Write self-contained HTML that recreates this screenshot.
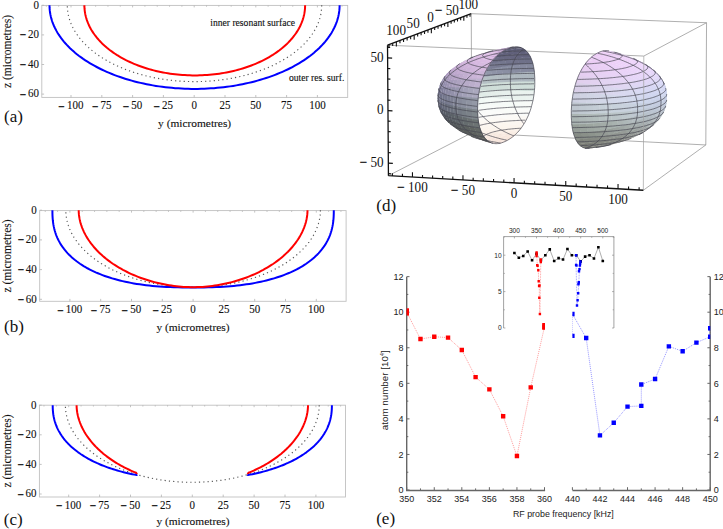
<!DOCTYPE html><html><head><meta charset="utf-8"><style>html,body{margin:0;padding:0;background:#fff;}svg{display:block;}</style></head><body>
<svg width="723" height="529" viewBox="0 0 723 529">
<rect width="723" height="529" fill="#fff"/>
<rect x="41.8" y="5.4" width="305.9" height="92" fill="none" stroke="#c0c0c0" stroke-width="0.9"/>
<path d="M71 97.4v-2.4M101.8 97.4v-2.4M132.6 97.4v-2.4M163.4 97.4v-2.4M194.2 97.4v-2.4M225 97.4v-2.4M255.8 97.4v-2.4M286.6 97.4v-2.4M317.4 97.4v-2.4M46.36 5.4v1.3M58.68 5.4v1.3M71 5.4v2.0M83.32 5.4v1.3M95.64 5.4v1.3M107.96 5.4v1.3M120.28 5.4v1.3M132.6 5.4v2.0M144.92 5.4v1.3M157.24 5.4v1.3M169.56 5.4v1.3M181.88 5.4v1.3M194.2 5.4v2.0M206.52 5.4v1.3M218.84 5.4v1.3M231.16 5.4v1.3M243.48 5.4v1.3M255.8 5.4v2.0M268.12 5.4v1.3M280.44 5.4v1.3M292.76 5.4v1.3M305.08 5.4v1.3M317.4 5.4v2.0M329.72 5.4v1.3M342.04 5.4v1.3M41.8 5.3h2.3M41.8 34.9h2.3M41.8 64.5h2.3M41.8 94.1h2.3" stroke="#b4b4b4" stroke-width="0.8" fill="none"/>
<g font-family="Liberation Serif" font-size="12.2" fill="#111" stroke="#111" stroke-width=".12" text-anchor="middle">
<text transform="translate(71 109.2) scale(.9 1)"><tspan dy="1.5" stroke="#111" stroke-width=".45">−</tspan><tspan dx="2.4" dy="-1.5">100</tspan></text>
<text transform="translate(101.8 109.2) scale(.9 1)"><tspan dy="1.5" stroke="#111" stroke-width=".45">−</tspan><tspan dx="2.4" dy="-1.5">75</tspan></text>
<text transform="translate(132.6 109.2) scale(.9 1)"><tspan dy="1.5" stroke="#111" stroke-width=".45">−</tspan><tspan dx="2.4" dy="-1.5">50</tspan></text>
<text transform="translate(163.4 109.2) scale(.9 1)"><tspan dy="1.5" stroke="#111" stroke-width=".45">−</tspan><tspan dx="2.4" dy="-1.5">25</tspan></text>
<text transform="translate(194.2 109.2) scale(.9 1)">0</text>
<text transform="translate(225 109.2) scale(.9 1)">25</text>
<text transform="translate(255.8 109.2) scale(.9 1)">50</text>
<text transform="translate(286.6 109.2) scale(.9 1)">75</text>
<text transform="translate(317.4 109.2) scale(.9 1)">100</text>
</g>
<g font-family="Liberation Serif" font-size="12.2" fill="#111" stroke="#111" stroke-width=".12" text-anchor="end">
<text transform="translate(38.9 8.6) scale(.9 1)">0</text>
<text transform="translate(38.9 38.2) scale(.9 1)"><tspan dy="1.2" stroke="#111" stroke-width=".45">−</tspan><tspan dx="1.9" dy="-1.2">20</tspan></text>
<text transform="translate(38.9 67.8) scale(.9 1)"><tspan dy="1.2" stroke="#111" stroke-width=".45">−</tspan><tspan dx="1.9" dy="-1.2">40</tspan></text>
<text transform="translate(38.9 97.4) scale(.9 1)"><tspan dy="1.2" stroke="#111" stroke-width=".45">−</tspan><tspan dx="1.9" dy="-1.2">60</tspan></text>
</g>
<text font-family="Liberation Serif" font-size="11.5" fill="#111" stroke="#111" stroke-width=".12" text-anchor="middle" transform="translate(10.6 51.5) rotate(-90)">z (micrometres)</text>
<text font-family="Liberation Serif" font-size="11.4" fill="#111" stroke="#111" stroke-width=".12" x="158.1" y="126.6">y (micrometres)</text>
<text font-family="Liberation Serif" font-size="17" fill="#111" x="4" y="122.2">(a)</text>
<path d="M321.7 5.3 L321.67 7.01 L321.57 8.72 L321.41 10.43 L321.19 12.14 L320.9 13.84 L320.55 15.54 L320.13 17.24 L319.66 18.92 L319.11 20.6 L318.51 22.28 L317.84 23.94 L317.12 25.6 L316.33 27.24 L315.47 28.88 L314.56 30.5 L313.59 32.11 L312.56 33.71 L311.46 35.29 L310.31 36.85 L309.1 38.41 L307.84 39.94 L306.51 41.46 L305.13 42.95 L303.69 44.43 L302.2 45.89 L300.66 47.33 L299.06 48.75 L297.41 50.15 L295.7 51.52 L293.95 52.87 L292.14 54.2 L290.29 55.5 L288.39 56.78 L286.44 58.03 L284.44 59.25 L282.4 60.45 L280.32 61.62 L278.19 62.76 L276.02 63.87 L273.81 64.95 L271.56 66.01 L269.27 67.03 L266.94 68.02 L264.57 68.98 L262.17 69.91 L259.74 70.8 L257.27 71.66 L254.78 72.49 L252.25 73.28 L249.69 74.04 L247.1 74.77 L244.49 75.46 L241.86 76.12 L239.19 76.73 L236.51 77.32 L233.81 77.87 L231.08 78.38 L228.34 78.85 L225.58 79.29 L222.8 79.69 L220.01 80.05 L217.21 80.37 L214.4 80.66 L211.57 80.91 L208.74 81.12 L205.9 81.29 L203.06 81.43 L200.21 81.52 L197.35 81.58 L194.5 81.6 L191.65 81.58 L188.79 81.52 L185.94 81.43 L183.1 81.29 L180.26 81.12 L177.43 80.91 L174.6 80.66 L171.79 80.37 L168.99 80.05 L166.2 79.69 L163.42 79.29 L160.66 78.85 L157.92 78.38 L155.19 77.87 L152.49 77.32 L149.81 76.73 L147.14 76.12 L144.51 75.46 L141.9 74.77 L139.31 74.04 L136.75 73.28 L134.22 72.49 L131.73 71.66 L129.26 70.8 L126.83 69.91 L124.43 68.98 L122.06 68.02 L119.73 67.03 L117.44 66.01 L115.19 64.95 L112.98 63.87 L110.81 62.76 L108.68 61.62 L106.6 60.45 L104.56 59.25 L102.56 58.03 L100.61 56.78 L98.71 55.5 L96.86 54.2 L95.05 52.87 L93.3 51.52 L91.59 50.15 L89.94 48.75 L88.34 47.33 L86.8 45.89 L85.31 44.43 L83.87 42.95 L82.49 41.46 L81.16 39.94 L79.9 38.41 L78.69 36.85 L77.54 35.29 L76.44 33.71 L75.41 32.11 L74.44 30.5 L73.53 28.88 L72.67 27.24 L71.88 25.6 L71.16 23.94 L70.49 22.28 L69.89 20.6 L69.34 18.92 L68.87 17.24 L68.45 15.54 L68.1 13.84 L67.81 12.14 L67.59 10.43 L67.43 8.72 L67.33 7.01 L67.3 5.3" fill="none" stroke="#555" stroke-width="1.15" stroke-dasharray="1.2 3.1"/>
<path d="M339.6 5.3 L339.56 7.18 L339.45 9.05 L339.27 10.92 L339.02 12.79 L338.69 14.66 L338.29 16.52 L337.81 18.38 L337.27 20.23 L336.65 22.07 L335.96 23.9 L335.2 25.73 L334.37 27.54 L333.47 29.34 L332.5 31.13 L331.46 32.91 L330.35 34.67 L329.17 36.42 L327.93 38.16 L326.61 39.87 L325.24 41.57 L323.79 43.25 L322.28 44.92 L320.71 46.56 L319.07 48.18 L317.37 49.78 L315.6 51.35 L313.78 52.91 L311.9 54.44 L309.96 55.94 L307.95 57.42 L305.9 58.88 L303.78 60.3 L301.61 61.7 L299.39 63.07 L297.12 64.41 L294.79 65.73 L292.41 67.01 L289.98 68.26 L287.51 69.48 L284.99 70.66 L282.42 71.81 L279.81 72.93 L277.15 74.02 L274.46 75.07 L271.72 76.09 L268.95 77.07 L266.13 78.01 L263.28 78.92 L260.4 79.79 L257.48 80.62 L254.54 81.42 L251.56 82.17 L248.55 82.89 L245.52 83.57 L242.46 84.21 L239.37 84.81 L236.27 85.37 L233.14 85.89 L229.99 86.37 L226.83 86.8 L223.65 87.2 L220.45 87.56 L217.24 87.87 L214.02 88.14 L210.79 88.37 L207.55 88.56 L204.31 88.71 L201.06 88.82 L197.8 88.88 L194.55 88.9 L191.3 88.88 L188.04 88.82 L184.79 88.71 L181.55 88.56 L178.31 88.37 L175.08 88.14 L171.86 87.87 L168.65 87.56 L165.45 87.2 L162.27 86.8 L159.11 86.37 L155.96 85.89 L152.83 85.37 L149.73 84.81 L146.64 84.21 L143.58 83.57 L140.55 82.89 L137.54 82.17 L134.56 81.42 L131.62 80.62 L128.7 79.79 L125.82 78.92 L122.97 78.01 L120.15 77.07 L117.38 76.09 L114.64 75.07 L111.95 74.02 L109.29 72.93 L106.68 71.81 L104.11 70.66 L101.59 69.48 L99.12 68.26 L96.69 67.01 L94.31 65.73 L91.98 64.41 L89.71 63.07 L87.49 61.7 L85.32 60.3 L83.2 58.88 L81.15 57.42 L79.14 55.94 L77.2 54.44 L75.32 52.91 L73.5 51.35 L71.73 49.78 L70.03 48.18 L68.39 46.56 L66.82 44.92 L65.31 43.25 L63.86 41.57 L62.49 39.87 L61.17 38.16 L59.93 36.42 L58.75 34.67 L57.64 32.91 L56.6 31.13 L55.63 29.34 L54.73 27.54 L53.9 25.73 L53.14 23.9 L52.45 22.07 L51.83 20.23 L51.29 18.38 L50.81 16.52 L50.41 14.66 L50.08 12.79 L49.83 10.92 L49.65 9.05 L49.54 7.18 L49.5 5.3" fill="none" stroke="#0000ff" stroke-width="2"/>
<path d="M305.1 5.3 L305.07 6.87 L304.99 8.45 L304.85 10.02 L304.66 11.58 L304.41 13.15 L304.1 14.71 L303.74 16.27 L303.33 17.82 L302.86 19.36 L302.33 20.9 L301.76 22.43 L301.12 23.95 L300.44 25.46 L299.7 26.96 L298.91 28.45 L298.06 29.93 L297.17 31.4 L296.22 32.85 L295.22 34.29 L294.17 35.72 L293.07 37.12 L291.92 38.52 L290.73 39.89 L289.48 41.25 L288.19 42.6 L286.85 43.92 L285.46 45.22 L284.03 46.5 L282.55 47.77 L281.03 49.01 L279.46 50.23 L277.85 51.42 L276.2 52.59 L274.51 53.74 L272.78 54.87 L271.01 55.97 L269.2 57.04 L267.35 58.09 L265.47 59.11 L263.55 60.11 L261.6 61.07 L259.61 62.01 L257.59 62.92 L255.54 63.8 L253.46 64.66 L251.35 65.48 L249.21 66.27 L247.04 67.03 L244.85 67.76 L242.63 68.46 L240.39 69.12 L238.12 69.76 L235.83 70.36 L233.52 70.93 L231.2 71.47 L228.85 71.97 L226.49 72.44 L224.11 72.87 L221.71 73.28 L219.31 73.64 L216.89 73.98 L214.45 74.27 L212.01 74.54 L209.56 74.77 L207.11 74.96 L204.64 75.12 L202.17 75.24 L199.7 75.33 L197.23 75.38 L194.75 75.4 L192.27 75.38 L189.8 75.33 L187.33 75.24 L184.86 75.12 L182.39 74.96 L179.94 74.77 L177.49 74.54 L175.05 74.27 L172.61 73.98 L170.19 73.64 L167.79 73.28 L165.39 72.87 L163.01 72.44 L160.65 71.97 L158.3 71.47 L155.98 70.93 L153.67 70.36 L151.38 69.76 L149.11 69.12 L146.87 68.46 L144.65 67.76 L142.46 67.03 L140.29 66.27 L138.15 65.48 L136.04 64.66 L133.96 63.8 L131.91 62.92 L129.89 62.01 L127.9 61.07 L125.95 60.11 L124.03 59.11 L122.15 58.09 L120.3 57.04 L118.49 55.97 L116.72 54.87 L114.99 53.74 L113.3 52.59 L111.65 51.42 L110.04 50.23 L108.47 49.01 L106.95 47.77 L105.47 46.5 L104.04 45.22 L102.65 43.92 L101.31 42.6 L100.02 41.25 L98.77 39.89 L97.58 38.52 L96.43 37.12 L95.33 35.72 L94.28 34.29 L93.28 32.85 L92.33 31.4 L91.44 29.93 L90.59 28.45 L89.8 26.96 L89.06 25.46 L88.38 23.95 L87.74 22.43 L87.17 20.9 L86.64 19.36 L86.17 17.82 L85.76 16.27 L85.4 14.71 L85.09 13.15 L84.84 11.58 L84.65 10.02 L84.51 8.45 L84.43 6.87 L84.4 5.3" fill="none" stroke="#ff0000" stroke-width="2"/>
<text font-family="Liberation Serif" font-size="9.6" fill="#111" stroke="#111" stroke-width=".12" x="210.3" y="25.9">inner resonant surface</text>
<text font-family="Liberation Serif" font-size="9.6" fill="#111" stroke="#111" stroke-width=".12" x="289" y="81">outer res. surf.</text>
<rect x="39.7" y="210.6" width="306.4" height="90.7" fill="none" stroke="#c0c0c0" stroke-width="0.9"/>
<path d="M69.9 301.3v-2.4M100.7 301.3v-2.4M131.5 301.3v-2.4M162.3 301.3v-2.4M193.1 301.3v-2.4M223.9 301.3v-2.4M254.7 301.3v-2.4M285.5 301.3v-2.4M316.3 301.3v-2.4M45.26 210.6v1.3M57.58 210.6v1.3M69.9 210.6v2.0M82.22 210.6v1.3M94.54 210.6v1.3M106.86 210.6v1.3M119.18 210.6v1.3M131.5 210.6v2.0M143.82 210.6v1.3M156.14 210.6v1.3M168.46 210.6v1.3M180.78 210.6v1.3M193.1 210.6v2.0M205.42 210.6v1.3M217.74 210.6v1.3M230.06 210.6v1.3M242.38 210.6v1.3M254.7 210.6v2.0M267.02 210.6v1.3M279.34 210.6v1.3M291.66 210.6v1.3M303.98 210.6v1.3M316.3 210.6v2.0M328.62 210.6v1.3M340.94 210.6v1.3M39.7 210.2h2.3M39.7 239.9h2.3M39.7 269.6h2.3M39.7 299.3h2.3" stroke="#b4b4b4" stroke-width="0.8" fill="none"/>
<g font-family="Liberation Serif" font-size="12.2" fill="#111" stroke="#111" stroke-width=".12" text-anchor="middle">
<text transform="translate(69.9 313.1) scale(.9 1)"><tspan dy="1.5" stroke="#111" stroke-width=".45">−</tspan><tspan dx="2.4" dy="-1.5">100</tspan></text>
<text transform="translate(100.7 313.1) scale(.9 1)"><tspan dy="1.5" stroke="#111" stroke-width=".45">−</tspan><tspan dx="2.4" dy="-1.5">75</tspan></text>
<text transform="translate(131.5 313.1) scale(.9 1)"><tspan dy="1.5" stroke="#111" stroke-width=".45">−</tspan><tspan dx="2.4" dy="-1.5">50</tspan></text>
<text transform="translate(162.3 313.1) scale(.9 1)"><tspan dy="1.5" stroke="#111" stroke-width=".45">−</tspan><tspan dx="2.4" dy="-1.5">25</tspan></text>
<text transform="translate(193.1 313.1) scale(.9 1)">0</text>
<text transform="translate(223.9 313.1) scale(.9 1)">25</text>
<text transform="translate(254.7 313.1) scale(.9 1)">50</text>
<text transform="translate(285.5 313.1) scale(.9 1)">75</text>
<text transform="translate(316.3 313.1) scale(.9 1)">100</text>
</g>
<g font-family="Liberation Serif" font-size="12.2" fill="#111" stroke="#111" stroke-width=".12" text-anchor="end">
<text transform="translate(36.8 213.5) scale(.9 1)">0</text>
<text transform="translate(36.8 243.2) scale(.9 1)"><tspan dy="1.2" stroke="#111" stroke-width=".45">−</tspan><tspan dx="1.9" dy="-1.2">20</tspan></text>
<text transform="translate(36.8 272.9) scale(.9 1)"><tspan dy="1.2" stroke="#111" stroke-width=".45">−</tspan><tspan dx="1.9" dy="-1.2">40</tspan></text>
<text transform="translate(36.8 302.6) scale(.9 1)"><tspan dy="1.2" stroke="#111" stroke-width=".45">−</tspan><tspan dx="1.9" dy="-1.2">60</tspan></text>
</g>
<text font-family="Liberation Serif" font-size="11.5" fill="#111" stroke="#111" stroke-width=".12" text-anchor="middle" transform="translate(10.6 256) rotate(-90)">z (micrometres)</text>
<text font-family="Liberation Serif" font-size="11.4" fill="#111" stroke="#111" stroke-width=".12" x="156.4" y="330.6">y (micrometres)</text>
<text font-family="Liberation Serif" font-size="17" fill="#111" x="4" y="331.5">(b)</text>
<path d="M320.4 210.2 L320.37 211.93 L320.27 213.65 L320.11 215.38 L319.89 217.1 L319.6 218.82 L319.25 220.54 L318.83 222.25 L318.35 223.95 L317.81 225.65 L317.21 227.33 L316.54 229.01 L315.81 230.68 L315.02 232.35 L314.17 233.99 L313.26 235.63 L312.28 237.26 L311.25 238.87 L310.16 240.46 L309 242.04 L307.79 243.61 L306.53 245.16 L305.2 246.69 L303.82 248.2 L302.38 249.69 L300.89 251.17 L299.34 252.62 L297.74 254.05 L296.09 255.46 L294.38 256.85 L292.63 258.21 L290.82 259.55 L288.97 260.86 L287.06 262.15 L285.11 263.41 L283.11 264.65 L281.07 265.86 L278.99 267.04 L276.86 268.19 L274.68 269.31 L272.47 270.4 L270.22 271.46 L267.93 272.49 L265.6 273.49 L263.23 274.46 L260.83 275.4 L258.39 276.3 L255.92 277.17 L253.42 278.01 L250.89 278.81 L248.33 279.57 L245.75 280.31 L243.13 281 L240.49 281.66 L237.83 282.29 L235.14 282.88 L232.44 283.43 L229.71 283.95 L226.97 284.43 L224.2 284.87 L221.43 285.27 L218.64 285.64 L215.83 285.96 L213.01 286.25 L210.19 286.5 L207.35 286.72 L204.51 286.89 L201.66 287.03 L198.81 287.12 L195.96 287.18 L193.1 287.2 L190.24 287.18 L187.39 287.12 L184.54 287.03 L181.69 286.89 L178.85 286.72 L176.01 286.5 L173.19 286.25 L170.37 285.96 L167.56 285.64 L164.77 285.27 L162 284.87 L159.23 284.43 L156.49 283.95 L153.76 283.43 L151.06 282.88 L148.37 282.29 L145.71 281.66 L143.07 281 L140.45 280.31 L137.87 279.57 L135.31 278.81 L132.78 278.01 L130.28 277.17 L127.81 276.3 L125.37 275.4 L122.97 274.46 L120.6 273.49 L118.27 272.49 L115.98 271.46 L113.73 270.4 L111.52 269.31 L109.34 268.19 L107.21 267.04 L105.13 265.86 L103.09 264.65 L101.09 263.41 L99.14 262.15 L97.23 260.86 L95.38 259.55 L93.57 258.21 L91.82 256.85 L90.11 255.46 L88.46 254.05 L86.86 252.62 L85.31 251.17 L83.82 249.69 L82.38 248.2 L81 246.69 L79.67 245.16 L78.41 243.61 L77.2 242.04 L76.04 240.46 L74.95 238.87 L73.92 237.26 L72.94 235.63 L72.03 233.99 L71.18 232.35 L70.39 230.68 L69.66 229.01 L68.99 227.33 L68.39 225.65 L67.85 223.95 L67.37 222.25 L66.95 220.54 L66.6 218.82 L66.31 217.1 L66.09 215.38 L65.93 213.65 L65.83 211.93 L65.8 210.2" fill="none" stroke="#555" stroke-width="1.15" stroke-dasharray="1.2 3.1"/>
<path d="M333.8 210.2 L333.77 213.55 L333.68 216.14 L333.54 218.51 L333.33 220.73 L333.07 222.86 L332.75 224.9 L332.37 226.89 L331.93 228.81 L331.43 230.69 L330.88 232.53 L330.27 234.32 L329.6 236.08 L328.87 237.8 L328.08 239.49 L327.24 241.14 L326.34 242.77 L325.39 244.36 L324.38 245.93 L323.31 247.46 L322.18 248.97 L321 250.45 L319.76 251.9 L318.47 253.32 L317.13 254.72 L315.72 256.09 L314.27 257.43 L312.76 258.74 L311.19 260.03 L309.58 261.28 L307.9 262.51 L306.18 263.72 L304.4 264.89 L302.57 266.04 L300.69 267.16 L298.76 268.25 L296.77 269.31 L294.74 270.34 L292.65 271.35 L290.51 272.33 L288.32 273.27 L286.08 274.19 L283.79 275.08 L281.45 275.94 L279.06 276.77 L276.62 277.57 L274.13 278.34 L271.59 279.08 L269 279.79 L266.36 280.47 L263.67 281.12 L260.92 281.73 L258.13 282.32 L255.28 282.88 L252.38 283.4 L249.42 283.9 L246.41 284.36 L243.34 284.79 L240.2 285.19 L237 285.56 L233.74 285.89 L230.4 286.2 L226.98 286.47 L223.47 286.71 L219.86 286.92 L216.14 287.1 L212.27 287.24 L208.22 287.36 L203.92 287.44 L199.2 287.48 L193.1 287.5 L187 287.48 L182.28 287.44 L177.98 287.36 L173.93 287.24 L170.06 287.1 L166.34 286.92 L162.73 286.71 L159.22 286.47 L155.8 286.2 L152.46 285.89 L149.2 285.56 L146 285.19 L142.86 284.79 L139.79 284.36 L136.78 283.9 L133.82 283.4 L130.92 282.88 L128.07 282.32 L125.28 281.73 L122.53 281.12 L119.84 280.47 L117.2 279.79 L114.61 279.08 L112.07 278.34 L109.58 277.57 L107.14 276.77 L104.75 275.94 L102.41 275.08 L100.12 274.19 L97.88 273.27 L95.69 272.33 L93.55 271.35 L91.46 270.34 L89.43 269.31 L87.44 268.25 L85.51 267.16 L83.63 266.04 L81.8 264.89 L80.02 263.72 L78.3 262.51 L76.62 261.28 L75.01 260.03 L73.44 258.74 L71.93 257.43 L70.48 256.09 L69.07 254.72 L67.73 253.32 L66.44 251.9 L65.2 250.45 L64.02 248.97 L62.89 247.46 L61.82 245.93 L60.81 244.36 L59.86 242.77 L58.96 241.14 L58.12 239.49 L57.33 237.8 L56.6 236.08 L55.93 234.32 L55.32 232.53 L54.77 230.69 L54.27 228.81 L53.83 226.89 L53.45 224.9 L53.13 222.86 L52.87 220.73 L52.66 218.51 L52.52 216.14 L52.43 213.55 L52.4 210.2" fill="none" stroke="#0000ff" stroke-width="2"/>
<path d="M307.5 210.2 L307.47 211.71 L307.38 213.29 L307.23 214.9 L307.02 216.52 L306.75 218.16 L306.43 219.81 L306.04 221.46 L305.6 223.12 L305.09 224.77 L304.53 226.43 L303.91 228.08 L303.23 229.72 L302.5 231.37 L301.7 233 L300.85 234.63 L299.95 236.25 L298.99 237.86 L297.97 239.46 L296.9 241.04 L295.78 242.61 L294.61 244.17 L293.38 245.71 L292.1 247.24 L290.76 248.75 L289.38 250.24 L287.95 251.71 L286.47 253.16 L284.94 254.6 L283.37 256.01 L281.75 257.39 L280.08 258.76 L278.37 260.1 L276.62 261.41 L274.82 262.7 L272.98 263.97 L271.11 265.2 L269.19 266.41 L267.23 267.59 L265.24 268.74 L263.22 269.87 L261.15 270.96 L259.06 272.02 L256.93 273.05 L254.77 274.04 L252.59 275.01 L250.37 275.94 L248.13 276.83 L245.86 277.69 L243.57 278.52 L241.26 279.31 L238.92 280.07 L236.56 280.79 L234.19 281.47 L231.8 282.12 L229.4 282.73 L226.98 283.3 L224.55 283.83 L222.11 284.33 L219.66 284.78 L217.21 285.2 L214.75 285.58 L212.29 285.92 L209.83 286.22 L207.38 286.48 L204.93 286.7 L202.5 286.88 L200.08 287.02 L197.69 287.12 L195.34 287.18 L193.1 287.2 L190.86 287.18 L188.51 287.12 L186.12 287.02 L183.7 286.88 L181.27 286.7 L178.82 286.48 L176.37 286.22 L173.91 285.92 L171.45 285.58 L168.99 285.2 L166.54 284.78 L164.09 284.33 L161.65 283.83 L159.22 283.3 L156.8 282.73 L154.4 282.12 L152.01 281.47 L149.64 280.79 L147.28 280.07 L144.94 279.31 L142.63 278.52 L140.34 277.69 L138.07 276.83 L135.83 275.94 L133.61 275.01 L131.43 274.04 L129.27 273.05 L127.14 272.02 L125.05 270.96 L122.98 269.87 L120.96 268.74 L118.97 267.59 L117.01 266.41 L115.09 265.2 L113.22 263.97 L111.38 262.7 L109.58 261.41 L107.83 260.1 L106.12 258.76 L104.45 257.39 L102.83 256.01 L101.26 254.6 L99.73 253.16 L98.25 251.71 L96.82 250.24 L95.44 248.75 L94.1 247.24 L92.82 245.71 L91.59 244.17 L90.42 242.61 L89.3 241.04 L88.23 239.46 L87.21 237.86 L86.25 236.25 L85.35 234.63 L84.5 233 L83.7 231.37 L82.97 229.72 L82.29 228.08 L81.67 226.43 L81.11 224.77 L80.6 223.12 L80.16 221.46 L79.77 219.81 L79.45 218.16 L79.18 216.52 L78.97 214.9 L78.82 213.29 L78.73 211.71 L78.7 210.2" fill="none" stroke="#ff0000" stroke-width="2"/>
<rect x="39.4" y="405.2" width="306.1" height="91.8" fill="none" stroke="#c0c0c0" stroke-width="0.9"/>
<path d="M68.7 497v-2.4M99.6 497v-2.4M130.5 497v-2.4M161.4 497v-2.4M192.3 497v-2.4M223.2 497v-2.4M254.1 497v-2.4M285 497v-2.4M315.9 497v-2.4M43.98 405.2v1.3M56.34 405.2v1.3M68.7 405.2v2.0M81.06 405.2v1.3M93.42 405.2v1.3M105.78 405.2v1.3M118.14 405.2v1.3M130.5 405.2v2.0M142.86 405.2v1.3M155.22 405.2v1.3M167.58 405.2v1.3M179.94 405.2v1.3M192.3 405.2v2.0M204.66 405.2v1.3M217.02 405.2v1.3M229.38 405.2v1.3M241.74 405.2v1.3M254.1 405.2v2.0M266.46 405.2v1.3M278.82 405.2v1.3M291.18 405.2v1.3M303.54 405.2v1.3M315.9 405.2v2.0M328.26 405.2v1.3M340.62 405.2v1.3M39.4 405.2h2.3M39.4 434.8h2.3M39.4 464.4h2.3M39.4 494h2.3" stroke="#b4b4b4" stroke-width="0.8" fill="none"/>
<g font-family="Liberation Serif" font-size="12.2" fill="#111" stroke="#111" stroke-width=".12" text-anchor="middle">
<text transform="translate(68.7 508.8) scale(.9 1)"><tspan dy="1.5" stroke="#111" stroke-width=".45">−</tspan><tspan dx="2.4" dy="-1.5">100</tspan></text>
<text transform="translate(99.6 508.8) scale(.9 1)"><tspan dy="1.5" stroke="#111" stroke-width=".45">−</tspan><tspan dx="2.4" dy="-1.5">75</tspan></text>
<text transform="translate(130.5 508.8) scale(.9 1)"><tspan dy="1.5" stroke="#111" stroke-width=".45">−</tspan><tspan dx="2.4" dy="-1.5">50</tspan></text>
<text transform="translate(161.4 508.8) scale(.9 1)"><tspan dy="1.5" stroke="#111" stroke-width=".45">−</tspan><tspan dx="2.4" dy="-1.5">25</tspan></text>
<text transform="translate(192.3 508.8) scale(.9 1)">0</text>
<text transform="translate(223.2 508.8) scale(.9 1)">25</text>
<text transform="translate(254.1 508.8) scale(.9 1)">50</text>
<text transform="translate(285 508.8) scale(.9 1)">75</text>
<text transform="translate(315.9 508.8) scale(.9 1)">100</text>
</g>
<g font-family="Liberation Serif" font-size="12.2" fill="#111" stroke="#111" stroke-width=".12" text-anchor="end">
<text transform="translate(36.5 408.5) scale(.9 1)">0</text>
<text transform="translate(36.5 438.1) scale(.9 1)"><tspan dy="1.2" stroke="#111" stroke-width=".45">−</tspan><tspan dx="1.9" dy="-1.2">20</tspan></text>
<text transform="translate(36.5 467.7) scale(.9 1)"><tspan dy="1.2" stroke="#111" stroke-width=".45">−</tspan><tspan dx="1.9" dy="-1.2">40</tspan></text>
<text transform="translate(36.5 497.3) scale(.9 1)"><tspan dy="1.2" stroke="#111" stroke-width=".45">−</tspan><tspan dx="1.9" dy="-1.2">60</tspan></text>
</g>
<text font-family="Liberation Serif" font-size="11.5" fill="#111" stroke="#111" stroke-width=".12" text-anchor="middle" transform="translate(10.6 451) rotate(-90)">z (micrometres)</text>
<text font-family="Liberation Serif" font-size="11.4" fill="#111" stroke="#111" stroke-width=".12" x="156.4" y="525.1">y (micrometres)</text>
<text font-family="Liberation Serif" font-size="17" fill="#111" x="3.8" y="524.5">(c)</text>
<path d="M319.2 405.2 L319.17 406.93 L319.07 408.66 L318.91 410.39 L318.69 412.11 L318.4 413.83 L318.05 415.55 L317.64 417.26 L317.16 418.97 L316.62 420.67 L316.02 422.36 L315.35 424.04 L314.63 425.71 L313.84 427.37 L312.99 429.03 L312.08 430.66 L311.11 432.29 L310.08 433.9 L308.99 435.5 L307.84 437.09 L306.63 438.65 L305.37 440.2 L304.05 441.74 L302.67 443.25 L301.24 444.74 L299.75 446.22 L298.21 447.67 L296.61 449.11 L294.96 450.52 L293.26 451.91 L291.51 453.27 L289.71 454.61 L287.86 455.93 L285.97 457.22 L284.02 458.48 L282.03 459.72 L280 460.93 L277.92 462.11 L275.79 463.26 L273.63 464.39 L271.42 465.48 L269.17 466.54 L266.89 467.58 L264.57 468.58 L262.21 469.55 L259.81 470.48 L257.39 471.39 L254.93 472.26 L252.43 473.09 L249.91 473.9 L247.36 474.66 L244.78 475.4 L242.17 476.1 L239.54 476.76 L236.89 477.38 L234.21 477.97 L231.51 478.53 L228.8 479.04 L226.06 479.52 L223.31 479.96 L220.54 480.37 L217.75 480.73 L214.96 481.06 L212.15 481.35 L209.33 481.6 L206.51 481.82 L203.68 481.99 L200.84 482.13 L197.99 482.22 L195.15 482.28 L192.3 482.3 L189.45 482.28 L186.61 482.22 L183.76 482.13 L180.92 481.99 L178.09 481.82 L175.27 481.6 L172.45 481.35 L169.64 481.06 L166.85 480.73 L164.06 480.37 L161.29 479.96 L158.54 479.52 L155.8 479.04 L153.09 478.53 L150.39 477.97 L147.71 477.38 L145.06 476.76 L142.43 476.1 L139.82 475.4 L137.24 474.66 L134.69 473.9 L132.17 473.09 L129.67 472.26 L127.21 471.39 L124.79 470.48 L122.39 469.55 L120.03 468.58 L117.71 467.58 L115.43 466.54 L113.18 465.48 L110.97 464.39 L108.81 463.26 L106.68 462.11 L104.6 460.93 L102.57 459.72 L100.58 458.48 L98.63 457.22 L96.74 455.93 L94.89 454.61 L93.09 453.27 L91.34 451.91 L89.64 450.52 L87.99 449.11 L86.39 447.67 L84.85 446.22 L83.36 444.74 L81.93 443.25 L80.55 441.74 L79.23 440.2 L77.97 438.65 L76.76 437.09 L75.61 435.5 L74.52 433.9 L73.49 432.29 L72.52 430.66 L71.61 429.03 L70.76 427.37 L69.97 425.71 L69.25 424.04 L68.58 422.36 L67.98 420.67 L67.44 418.97 L66.96 417.26 L66.55 415.55 L66.2 413.83 L65.91 412.11 L65.69 410.39 L65.53 408.66 L65.43 406.93 L65.4 405.2" fill="none" stroke="#555" stroke-width="1.15" stroke-dasharray="1.2 3.1"/>
<path d="M308 405.2 L307.98 406.36 L307.93 407.58 L307.83 408.83 L307.71 410.1 L307.54 411.38 L307.34 412.67 L307.1 413.96 L306.83 415.26 L306.52 416.57 L306.17 417.87 L305.79 419.18 L305.37 420.49 L304.91 421.79 L304.42 423.1 L303.9 424.4 L303.34 425.71 L302.74 427 L302.11 428.3 L301.44 429.59 L300.74 430.87 L300.01 432.15 L299.24 433.43 L298.44 434.69 L297.6 435.95 L296.73 437.21 L295.83 438.45 L294.89 439.68 L293.93 440.91 L292.93 442.13 L291.9 443.33 L290.84 444.53 L289.75 445.71 L288.63 446.89 L287.47 448.05 L286.29 449.19 L285.08 450.33 L283.84 451.45 L282.57 452.56 L281.28 453.66 L279.95 454.74 L278.6 455.8 L277.22 456.85 L275.82 457.89 L274.39 458.91 L272.94 459.91 L271.46 460.9 L269.96 461.87 L268.43 462.82 L266.88 463.75 L265.31 464.67 L263.72 465.57 L262.11 466.45 L260.47 467.31 L258.82 468.15 L257.14 468.97 L255.45 469.77 L253.74 470.55 L252.01 471.32 L250.27 472.06 L248.5 472.78 L247.6 474.5" fill="none" stroke="#ff0000" stroke-width="2" stroke-linejoin="round"/>
<path d="M331.9 405.2 L331.88 407.17 L331.82 408.87 L331.73 410.47 L331.59 412.02 L331.42 413.53 L331.21 415 L330.97 416.45 L330.68 417.87 L330.36 419.27 L330 420.66 L329.6 422.02 L329.16 423.36 L328.69 424.69 L328.18 426.01 L327.63 427.31 L327.04 428.59 L326.42 429.86 L325.76 431.12 L325.06 432.36 L324.33 433.59 L323.55 434.8 L322.75 436 L321.91 437.19 L321.03 438.36 L320.11 439.52 L319.16 440.66 L318.17 441.79 L317.15 442.91 L316.1 444.01 L315 445.1 L313.88 446.18 L312.72 447.24 L311.52 448.28 L310.29 449.32 L309.03 450.33 L307.73 451.33 L306.41 452.32 L305.04 453.29 L303.65 454.25 L302.22 455.19 L300.76 456.11 L299.27 457.02 L297.75 457.91 L296.19 458.79 L294.6 459.65 L292.99 460.49 L291.34 461.32 L289.66 462.13 L287.96 462.93 L286.22 463.7 L284.45 464.46 L282.66 465.21 L280.83 465.93 L278.98 466.64 L277.1 467.33 L275.19 468 L273.25 468.65 L271.28 469.29 L269.29 469.91 L267.27 470.51 L265.23 471.09 L263.15 471.65 L261.05 472.19 L258.93 472.72 L256.78 473.23 L254.6 473.71 L252.4 474.18 L250.17 474.63 L247.91 475.06 L247.6 474.5" fill="none" stroke="#0000ff" stroke-width="2" stroke-linejoin="round"/>
<path d="M76.6 405.2 L76.62 406.36 L76.67 407.58 L76.77 408.83 L76.89 410.1 L77.06 411.38 L77.26 412.67 L77.5 413.96 L77.77 415.26 L78.08 416.57 L78.43 417.87 L78.81 419.18 L79.23 420.49 L79.69 421.79 L80.18 423.1 L80.7 424.4 L81.26 425.71 L81.86 427 L82.49 428.3 L83.16 429.59 L83.86 430.87 L84.59 432.15 L85.36 433.43 L86.16 434.69 L87 435.95 L87.87 437.21 L88.77 438.45 L89.71 439.68 L90.67 440.91 L91.67 442.13 L92.7 443.33 L93.76 444.53 L94.85 445.71 L95.97 446.89 L97.13 448.05 L98.31 449.19 L99.52 450.33 L100.76 451.45 L102.03 452.56 L103.32 453.66 L104.65 454.74 L106 455.8 L107.38 456.85 L108.78 457.89 L110.21 458.91 L111.66 459.91 L113.14 460.9 L114.64 461.87 L116.17 462.82 L117.72 463.75 L119.29 464.67 L120.88 465.57 L122.49 466.45 L124.13 467.31 L125.78 468.15 L127.46 468.97 L129.15 469.77 L130.86 470.55 L132.59 471.32 L134.33 472.06 L136.1 472.78 L137 474.5" fill="none" stroke="#ff0000" stroke-width="2" stroke-linejoin="round"/>
<path d="M52.7 405.2 L52.72 407.17 L52.78 408.87 L52.87 410.47 L53.01 412.02 L53.18 413.53 L53.39 415 L53.63 416.45 L53.92 417.87 L54.24 419.27 L54.6 420.66 L55 422.02 L55.44 423.36 L55.91 424.69 L56.42 426.01 L56.97 427.31 L57.56 428.59 L58.18 429.86 L58.84 431.12 L59.54 432.36 L60.27 433.59 L61.05 434.8 L61.85 436 L62.69 437.19 L63.57 438.36 L64.49 439.52 L65.44 440.66 L66.43 441.79 L67.45 442.91 L68.5 444.01 L69.6 445.1 L70.72 446.18 L71.88 447.24 L73.08 448.28 L74.31 449.32 L75.57 450.33 L76.87 451.33 L78.19 452.32 L79.56 453.29 L80.95 454.25 L82.38 455.19 L83.84 456.11 L85.33 457.02 L86.85 457.91 L88.41 458.79 L90 459.65 L91.61 460.49 L93.26 461.32 L94.94 462.13 L96.64 462.93 L98.38 463.7 L100.15 464.46 L101.94 465.21 L103.77 465.93 L105.62 466.64 L107.5 467.33 L109.41 468 L111.35 468.65 L113.32 469.29 L115.31 469.91 L117.33 470.51 L119.37 471.09 L121.45 471.65 L123.55 472.19 L125.67 472.72 L127.82 473.23 L130 473.71 L132.2 474.18 L134.43 474.63 L136.69 475.06 L137 474.5" fill="none" stroke="#0000ff" stroke-width="2" stroke-linejoin="round"/>
<path d="M387.52 45.21L643.81 56.07M471.26 13.68L706.55 22.72M643.81 56.07L706.55 22.72M471.26 13.68L471.69 132.84M706.55 22.72L705.8 144.96M471.69 132.84L705.8 144.96M388.43 175.68L471.69 132.84M705.8 144.96L643.34 190.24" fill="none" stroke="#8c8c8c" stroke-width="0.7"/>
<g>
<path fill="#d1dfda" d="M535 80.9L527.8 80.9L527.3 91.5L534.5 91.7z"/>
<path fill="#d0dfda" d="M528.2 80.9L521.2 81L520.7 91.3L527.7 91.5z"/>
<path fill="#d0deda" d="M521.5 81L514.8 81.2L514.4 91.1L521.1 91.3z"/>
<path fill="#adb7be" d="M534.5 71.1L527.2 71.4L527.8 81.5L535 81.5z"/>
<path fill="#ebf3f0" d="M534.6 91.1L527.3 90.9L525.7 101L533 101.5z"/>
<path fill="#adb7bf" d="M527.7 71.4L520.7 71.8L521.2 81.6L528.2 81.5z"/>
<path fill="#eaf3ef" d="M527.7 90.9L520.7 90.7L519.2 100.6L526.1 101.1z"/>
<path fill="#d0ded9" d="M515.2 81.2L508.7 81.4L508.3 91L514.7 91.1z"/>
<path fill="#aeb8bf" d="M521.1 71.8L514.3 72.3L514.8 81.8L521.6 81.6z"/>
<path fill="#e9f2ee" d="M521.1 90.7L514.4 90.5L512.9 100.1L519.6 100.6z"/>
<path fill="#afb9c0" d="M514.7 72.3L508.3 72.8L508.7 82L515.2 81.8z"/>
<path fill="#d0ded9" d="M509.1 81.4L502.9 81.7L502.5 90.9L508.7 91z"/>
<path fill="#e8f1ed" d="M514.8 90.6L508.3 90.4L506.9 99.6L513.3 100.2z"/>
<path fill="#b0bac0" d="M508.6 72.8L502.5 73.5L502.9 82.3L509.1 82z"/>
<path fill="#e7f0ed" d="M508.7 90.4L502.5 90.3L501.1 99.2L507.3 99.7z"/>
<path fill="#cfded9" d="M503.3 81.7L497.4 82L497 90.8L502.9 90.9z"/>
<path fill="#84889d" d="M533 62.8L525.7 63.4L527.3 72L534.6 71.7z"/>
<path fill="#85899e" d="M526.1 63.3L519.1 64L520.7 72.4L527.7 72z"/>
<path fill="#f8fbf8" d="M533.1 101L525.8 100.5L523.4 109.4L530.6 110.1z"/>
<path fill="#f7fbf8" d="M526.2 100.5L519.3 100L516.9 108.7L523.8 109.5z"/>
<path fill="#878ba0" d="M519.5 63.9L512.8 64.7L514.4 72.9L521.1 72.3z"/>
<path fill="#b1bbc1" d="M502.8 73.5L496.9 74.2L497.4 82.6L503.3 82.3z"/>
<path fill="#e6efeb" d="M502.9 90.3L497 90.2L495.7 98.7L501.5 99.2z"/>
<path fill="#f7fbf8" d="M519.7 100.1L513 99.5L510.7 107.9L517.3 108.8z"/>
<path fill="#888da1" d="M513.2 64.6L506.8 65.6L508.3 73.4L514.8 72.8z"/>
<path fill="#cfded9" d="M497.8 82L492.1 82.4L491.7 90.8L497.4 90.8z"/>
<path fill="#f6fbf8" d="M513.4 99.6L507 99.1L504.7 107.2L511.1 108z"/>
<path fill="#b2bdc2" d="M497.3 74.2L491.6 75L492.1 83L497.8 82.6z"/>
<path fill="#8a8fa3" d="M507.2 65.5L501 66.5L502.5 74.1L508.7 73.4z"/>
<path fill="#e5eeea" d="M497.4 90.3L491.8 90.2L490.5 98.2L496 98.8z"/>
<path fill="#f6faf8" d="M507.4 99.1L501.2 98.6L499 106.4L505.1 107.3z"/>
<path fill="#cfddd8" d="M492.5 82.4L487.1 82.8L486.7 90.7L492.1 90.8z"/>
<path fill="#8c91a5" d="M501.5 66.4L495.5 67.5L497 74.8L502.9 74z"/>
<path fill="#f5faf7" d="M501.6 98.7L495.7 98.1L493.6 105.6L499.4 106.5z"/>
<path fill="#b3bfc3" d="M492 74.9L486.6 75.8L487.1 83.4L492.5 83z"/>
<path fill="#e3ede9" d="M492.1 90.2L486.8 90.1L485.5 97.8L490.8 98.3z"/>
<path fill="#8f94a7" d="M496 67.5L490.3 68.7L491.7 75.5L497.4 74.7z"/>
<path fill="#ceddd8" d="M487.5 82.8L482.3 83.3L482 90.7L487.1 90.7z"/>
<path fill="#f5faf7" d="M496.2 98.2L490.5 97.7L488.5 104.8L494 105.7z"/>
<path fill="#6e7088" d="M530.6 56.5L523.3 57.3L525.7 63.9L533.1 63.3z"/>
<path fill="#6f7189" d="M523.8 57.2L516.8 58.1L519.2 64.5L526.2 63.8z"/>
<path fill="#fbfcfa" d="M530.7 109.6L523.5 108.8L520.7 116.2L527.9 117.1z"/>
<path fill="#fbfcfa" d="M524 109L517 108.1L514.2 115.2L521.1 116.3z"/>
<path fill="#71728a" d="M517.2 57.9L510.5 59L512.9 65.2L519.7 64.4z"/>
<path fill="#fbfcf9" d="M517.4 108.3L510.8 107.4L508.1 114.3L514.7 115.4z"/>
<path fill="#b5c0c5" d="M487 75.8L481.9 76.7L482.3 83.9L487.5 83.4z"/>
<path fill="#e1ece8" d="M487.1 90.2L482 90.1L480.8 97.3L485.9 97.8z"/>
<path fill="#72748c" d="M511 58.9L504.6 60.1L506.9 66.1L513.4 65.1z"/>
<path fill="#fafcf9" d="M511.2 107.5L504.8 106.6L502.2 113.3L508.5 114.4z"/>
<path fill="#9298aa" d="M490.8 68.6L485.4 69.9L486.7 76.4L492.1 75.5z"/>
<path fill="#f4faf7" d="M490.9 97.7L485.6 97.2L483.7 103.9L488.9 104.9z"/>
<path fill="#74778e" d="M505 59.9L498.9 61.2L501.1 67L507.3 66z"/>
<path fill="#fafbf9" d="M505.3 106.8L499.2 105.9L496.6 112.2L502.6 113.4z"/>
<path fill="#ceddd8" d="M482.7 83.3L477.8 83.8L477.5 90.7L482.4 90.7z"/>
<path fill="#777990" d="M499.4 61.1L493.5 62.5L495.6 68.1L501.6 66.9z"/>
<path fill="#f9fbf9" d="M499.6 106L493.8 105L491.3 111.2L497 112.4z"/>
<path fill="#b7c2c6" d="M482.3 76.7L477.4 77.7L477.8 84.4L482.7 83.8z"/>
<path fill="#e0eae6" d="M482.4 90.2L477.5 90.1L476.4 96.8L481.2 97.4z"/>
<path fill="#969cad" d="M485.8 69.8L480.7 71.2L482 77.3L487.1 76.3z"/>
<path fill="#f1f8f5" d="M486 97.3L480.9 96.7L479.1 103L484.1 104z"/>
<path fill="#7a7c93" d="M494 62.4L488.4 63.9L490.4 69.2L496.1 67.9z"/>
<path fill="#f8fbf9" d="M494.2 105.2L488.7 104.2L486.3 110L491.8 111.3z"/>
<path fill="#7d8096" d="M488.8 63.8L483.5 65.4L485.5 70.4L490.9 69.1z"/>
<path fill="#eff6f3" d="M481.4 96.8L476.5 96.3L474.8 102.2L479.5 103.1z"/>
<path fill="#f8fbf8" d="M489.1 104.3L483.8 103.4L481.6 108.9L486.7 110.2z"/>
<path fill="#fcfaf6" d="M521.3 115.8L514.3 114.8L511.5 120.4L518.4 121.6z"/>
<path fill="#fcf9f5" d="M528 116.7L520.8 115.7L517.9 121.4L525.1 122.6z"/>
<path fill="#fcfaf7" d="M514.8 114.9L508.2 113.8L505.4 119.2L512 120.5z"/>
<path fill="#fcfbf9" d="M508.7 114L502.3 112.8L499.7 118L505.9 119.4z"/>
<path fill="#64647e" d="M521.1 53L514.1 54L516.9 58.5L523.9 57.6z"/>
<path fill="#65657f" d="M514.6 53.9L507.9 55.1L510.6 59.5L517.4 58.4z"/>
<path fill="#63637d" d="M527.9 52.2L520.5 53.1L523.4 57.7L530.7 56.9z"/>
<path fill="#fcfcfa" d="M502.8 113L496.7 111.7L494.2 116.8L500.1 118.2z"/>
<path fill="#f7fbf8" d="M484.3 103.5L479.3 102.5L477.2 107.7L482 109z"/>
<path fill="#676780" d="M508.4 54.9L502 56.3L504.7 60.5L511.2 59.3z"/>
<path fill="#686982" d="M502.5 56.1L496.4 57.7L499 61.7L505.2 60.3z"/>
<path fill="#fbfcfa" d="M497.2 111.9L491.5 110.7L489 115.5L494.6 117z"/>
<path fill="#6b6c84" d="M497 57.5L491.1 59.2L493.6 63L499.5 61.5z"/>
<path fill="#fbfcfa" d="M491.9 110.8L486.5 109.5L484.1 114.1L489.4 115.7z"/>
<path fill="#f6faf8" d="M479.7 102.6L475 101.6L473 106.5L477.6 107.8z"/>
<path fill="#6d6f87" d="M491.6 58.9L486.1 60.7L488.5 64.4L494.1 62.8z"/>
<path fill="#fafbf9" d="M486.9 109.7L481.7 108.4L479.5 112.7L484.5 114.3z"/>
<path fill="#f9fbf9" d="M482.2 108.6L477.3 107.2L475.2 111.3L479.9 112.9z"/>
<path fill="#fcf8f2" d="M512.2 120.1L505.6 118.8L503 123L509.5 124.5z"/>
<path fill="#fcf7f1" d="M518.6 121.2L511.6 119.9L509 124.3L515.9 125.6z"/>
<path fill="#fcf8f4" d="M506.1 119L499.8 117.6L497.3 121.7L503.5 123.2z"/>
<path fill="#fcf6f0" d="M525.3 122.1L518 121L515.3 125.5L522.5 126.7z"/>
<path fill="#fcf9f5" d="M500.3 117.8L494.3 116.3L491.9 120.3L497.8 121.9z"/>
<path fill="#fcfbf7" d="M494.8 116.5L489.1 115L486.8 118.8L492.4 120.5z"/>
<path fill="#60607a" d="M512 51.3L505.3 52.7L508 55.5L514.8 54.2z"/>
<path fill="#fcfcfa" d="M489.6 115.2L484.2 113.7L482 117.2L487.3 119z"/>
<path fill="#61617b" d="M505.8 52.5L499.5 54L502.1 56.7L508.6 55.3z"/>
<path fill="#60607a" d="M518.4 50.3L511.4 51.5L514.2 54.4L521.2 53.3z"/>
<path fill="#62627c" d="M500 53.8L494 55.5L496.5 58.1L502.7 56.5z"/>
<path fill="#5f5f79" d="M525.1 49.5L517.8 50.5L520.6 53.5L528 52.6z"/>
<path fill="#64647e" d="M494.5 55.2L488.8 57L491.3 59.5L497.1 57.8z"/>
<path fill="#fbfcfa" d="M484.7 113.9L479.6 112.3L477.5 115.6L482.5 117.5z"/>
<path fill="#fafcf9" d="M480.1 112.5L475.3 110.8L473.3 114L478 115.9z"/>
<path fill="#fcf7f1" d="M503.7 122.8L497.4 121.3L495.1 124.5L501.3 126.1z"/>
<path fill="#fcf6ef" d="M509.7 124.1L503.1 122.6L500.7 125.9L507.2 127.5z"/>
<path fill="#fcf8f2" d="M497.9 121.5L492 119.9L489.7 122.9L495.6 124.7z"/>
<path fill="#fcf5ee" d="M516 125.3L509.1 123.9L506.7 127.3L513.5 128.8z"/>
<path fill="#fcf9f4" d="M492.5 120.1L486.9 118.4L484.7 121.3L490.3 123.2z"/>
<path fill="#fcf5ed" d="M522.7 126.4L515.4 125.1L513 128.6L520.2 129.9z"/>
<path fill="#fcfaf6" d="M487.4 118.6L482.1 116.9L480 119.6L485.3 121.6z"/>
<path fill="#fcfcf9" d="M482.7 117.1L477.6 115.3L475.6 117.9L480.6 119.9z"/>
<path fill="#60607a" d="M503.4 51L497.1 52.6L499.6 54.3L506 52.7z"/>
<path fill="#60607a" d="M497.7 52.4L491.7 54.1L494.1 55.7L500.2 54z"/>
<path fill="#5f5f79" d="M509.5 49.8L502.8 51.2L505.3 52.9L512.1 51.6z"/>
<path fill="#5e5e78" d="M515.8 48.8L508.8 50L511.4 51.8L518.5 50.6z"/>
<path fill="#5e5e78" d="M522.5 47.9L515.2 49L517.8 50.8L525.2 49.8z"/>
<path fill="#fcf6f0" d="M495.8 124.4L489.9 122.6L487.8 125L493.7 126.9z"/>
<path fill="#fcf6ef" d="M501.4 125.8L495.2 124.2L493.1 126.7L499.2 128.4z"/>
<path fill="#fcf7f2" d="M490.4 122.8L484.9 121L482.9 123.3L488.4 125.3z"/>
<path fill="#fcf5ed" d="M507.4 127.2L500.8 125.6L498.7 128.2L505.2 129.9z"/>
<path fill="#fcf9f4" d="M485.4 121.2L480.2 119.3L478.3 121.5L483.5 123.6z"/>
<path fill="#fcf4ec" d="M513.6 128.5L506.8 127L504.6 129.7L511.4 131.2z"/>
<path fill="#fcfaf7" d="M480.7 119.6L475.8 117.6L474 119.7L478.8 121.8z"/>
<path fill="#fbf2ea" d="M520.3 129.6L513 128.3L510.8 131L518 132.5z"/>
<path fill="#5f5f79" d="M501.2 50.3L494.9 51.9L497.1 52.8L503.5 51.2z"/>
<path fill="#fcf7f1" d="M488.5 125L483 123L481.2 124.9L486.7 126.9z"/>
<path fill="#5e5e78" d="M507.2 49L500.5 50.5L502.8 51.4L509.5 50z"/>
<path fill="#fcf8f3" d="M483.6 123.3L478.4 121.2L476.7 123L481.8 125.2z"/>
<path fill="#fcf6ef" d="M493.8 126.6L487.9 124.7L486.1 126.7L491.9 128.6z"/>
<path fill="#fcf5ed" d="M499.3 128.2L493.2 126.4L491.3 128.4L497.4 130.3z"/>
<path fill="#5e5e78" d="M513.5 48L506.5 49.2L508.9 50.2L515.9 49z"/>
<path fill="#fcf4ec" d="M505.3 129.6L498.7 127.9L496.8 130L503.2 131.8z"/>
<path fill="#5d5d77" d="M520.1 47.1L512.8 48.1L515.2 49.1L522.6 48.1z"/>
<path fill="#fbf1e8" d="M511.5 131L504.6 129.4L502.6 131.6L509.4 133.2z"/>
<path fill="#faeee5" d="M518.1 132.2L510.9 130.8L508.8 133L516 134.5z"/>
<path fill="#fcf7f2" d="M481.9 124.9L476.8 122.8L475.2 124.2L480.3 126.4z"/>
<path fill="#fcf6f0" d="M486.8 126.7L481.3 124.6L479.7 126.2L485.1 128.3z"/>
<path fill="#fcf5ee" d="M492 128.4L486.2 126.5L484.5 128L490.2 130.1z"/>
<path fill="#fcf4ec" d="M497.5 130L491.3 128.2L489.6 129.8L495.7 131.7z"/>
<path fill="#fbf1e9" d="M503.3 131.5L496.8 129.8L495 131.5L501.5 133.3z"/>
<path fill="#5e5e78" d="M505.1 48.7L498.5 50.2L500.6 50.6L507.2 49.2z"/>
<path fill="#f9ede4" d="M509.5 132.9L502.7 131.3L500.8 133.1L507.6 134.8z"/>
<path fill="#5d5d77" d="M511.3 47.6L504.4 48.9L506.5 49.3L513.5 48.1z"/>
<path fill="#f8eae1" d="M516.1 134.2L508.9 132.8L507 134.6L514.1 136.1z"/>
<path fill="#fcf7f1" d="M480.4 126.2L475.3 124L473.8 125.2L478.8 127.5z"/>
<path fill="#5d5d77" d="M517.9 46.7L510.6 47.8L512.8 48.2L520.1 47.2z"/>
<path fill="#fcf6ef" d="M485.2 128.1L479.8 126L478.2 127.2L483.6 129.4z"/>
<path fill="#fcf5ed" d="M490.3 129.9L484.5 127.8L483 129.2L488.6 131.2z"/>
<path fill="#fcf3eb" d="M495.7 131.5L489.7 129.6L488 131L494 133z"/>
<path fill="#faefe6" d="M501.5 133.1L495.1 131.3L493.4 132.7L499.8 134.6z"/>
<path fill="#f9ebe2" d="M507.7 134.6L500.9 132.9L499.2 134.4L505.9 136.1z"/>
<path fill="#fcf5ee" d="M483.6 129.2L478.3 127L476.9 128.1L482.1 130.4z"/>
<path fill="#f7e8de" d="M514.2 135.9L507 134.4L505.3 135.9L512.4 137.4z"/>
<path fill="#fcf4ed" d="M488.7 131.1L483 129L481.5 130.1L487.1 132.3z"/>
<path fill="#5d5d77" d="M509.3 47.6L502.4 48.9L504.4 48.9L511.3 47.7z"/>
<path fill="#fbf1e9" d="M494.1 132.8L488.1 130.8L486.5 132L492.5 134z"/>
<path fill="#5d5d77" d="M515.9 46.7L508.6 47.7L510.6 47.8L517.9 46.8z"/>
<path fill="#f9ede4" d="M499.9 134.4L493.5 132.6L491.9 133.8L498.2 135.7z"/>
<path fill="#f8e9e0" d="M506 135.9L499.2 134.2L497.6 135.5L504.3 137.2z"/>
<path fill="#fcf5ee" d="M482.2 130.2L476.9 128L475.5 128.9L480.7 131.2z"/>
<path fill="#fcf4ec" d="M487.2 132.1L481.6 129.9L480.1 130.9L485.7 133.1z"/>
<path fill="#f7e6dc" d="M512.5 137.3L505.3 135.7L503.7 137L510.8 138.6z"/>
<path fill="#fbf0e8" d="M492.6 133.9L486.6 131.8L485.1 132.9L491 134.9z"/>
<path fill="#5d5d77" d="M507.5 47.8L500.7 49L502.4 48.9L509.3 47.7z"/>
<path fill="#f9ebe2" d="M498.3 135.5L491.9 133.6L490.4 134.7L496.7 136.6z"/>
<path fill="#5d5d77" d="M514 46.9L506.8 47.9L508.7 47.8L515.9 46.7z"/>
<path fill="#f7e8de" d="M504.4 137L497.6 135.3L496.1 136.4L502.8 138.2z"/>
<path fill="#fcf4ec" d="M485.8 133L480.2 130.8L478.8 131.7L484.3 133.9z"/>
<path fill="#5e5e78" d="M493.9 50.4L487.8 52L489.4 51.8L495.5 50.2z"/>
<path fill="#f6e5db" d="M510.8 138.4L503.7 136.9L502.1 138L509.2 139.6z"/>
<path fill="#faefe6" d="M491.1 134.8L485.1 132.7L483.7 133.6L489.6 135.7z"/>
<path fill="#5d5d77" d="M499.7 49.2L493.2 50.6L494.8 50.3L501.3 48.9z"/>
<path fill="#5f5f79" d="M481.9 53.8L476.6 55.7L478 55.3L483.4 53.4z"/>
<path fill="#f8eae1" d="M496.8 136.5L490.4 134.5L488.9 135.5L495.2 137.4z"/>
<path fill="#e2bfea" d="M505.8 48.1L499 49.4L500.7 49L507.5 47.8z"/>
<path fill="#5e5e78" d="M487 52.3L481.3 54L482.7 53.6L488.5 51.9z"/>
<path fill="#fcf4ec" d="M484.4 133.7L478.8 131.5L477.4 132.3L482.9 134.6z"/>
<path fill="#f7e7dd" d="M502.8 138L496.1 136.3L494.6 137.2L501.2 139z"/>
<path fill="#e4c1ec" d="M512.3 47.3L505.1 48.3L506.8 47.9L514 46.9z"/>
<path fill="#debce6" d="M492.3 50.9L486.3 52.5L487.8 52L493.9 50.5z"/>
<path fill="#60607a" d="M475.9 55.9L471 58L472.3 57.5L477.3 55.5z"/>
<path fill="#faefe6" d="M489.6 135.6L483.7 133.5L482.2 134.3L488.1 136.5z"/>
<path fill="#f6e4da" d="M509.2 139.5L502.1 137.8L500.6 138.8L507.6 140.5z"/>
<path fill="#5f5f79" d="M480.6 54.3L475.3 56.2L476.6 55.7L482 53.8z"/>
<path fill="#e0bde8" d="M498.1 49.7L491.7 51L493.2 50.6L499.7 49.2z"/>
<path fill="#5e5e78" d="M609 50.9L615.9 52.5L618 53.4L611.2 51.8z"/>
<path fill="#f8eae1" d="M495.3 137.3L489 135.3L487.5 136.2L493.7 138.2z"/>
<path fill="#62627c" d="M470.4 58.2L466 60.3L467.2 59.9L471.7 57.7z"/>
<path fill="#dbb9e3" d="M485.5 52.8L479.9 54.5L481.3 54L487 52.3z"/>
<path fill="#e2bfea" d="M504.2 48.6L497.4 49.8L499 49.3L505.8 48.1z"/>
<path fill="#f7e6dc" d="M501.3 138.9L494.6 137.1L493 138L499.7 139.8z"/>
<path fill="#60607a" d="M474.6 56.4L469.8 58.5L471.1 58L476 55.9z"/>
<path fill="#5e5e78" d="M615.2 52.3L621.7 54.1L623.7 55L617.3 53.2z"/>
<path fill="#64647e" d="M465.4 60.5L461.4 62.8L462.5 62.3L466.6 60z"/>
<path fill="#ddbbe6" d="M490.9 51.4L484.9 53L486.3 52.4L492.3 50.9z"/>
<path fill="#faeee5" d="M488.1 136.3L482.3 134.2L480.8 135L486.6 137.1z"/>
<path fill="#e4c1ec" d="M510.6 47.7L503.5 48.7L505.1 48.2L512.3 47.2z"/>
<path fill="#62627c" d="M633.2 58.3L638.4 60.5L640.3 61.9L635.2 59.8z"/>
<path fill="#d7b7e1" d="M479.2 54.8L474 56.7L475.3 56.2L480.6 54.3z"/>
<path fill="#f5e3d9" d="M507.6 140.4L500.6 138.7L499 139.6L506 141.3z"/>
<path fill="#676881" d="M460.8 63L457.2 65.4L458.3 64.9L462 62.5z"/>
<path fill="#62627c" d="M469.2 58.7L464.8 60.9L466 60.4L470.4 58.2z"/>
<path fill="#e0bde8" d="M496.5 50.2L490.2 51.6L491.7 51L498.1 49.6z"/>
<path fill="#f8e9e0" d="M493.7 138.1L487.5 136.1L486 136.9L492.1 138.9z"/>
<path fill="#5f5f79" d="M621 53.9L627 55.9L629 56.7L623 54.8z"/>
<path fill="#dab9e3" d="M484.1 53.4L478.5 55.1L479.9 54.5L485.5 52.8z"/>
<path fill="#6d6e87" d="M647.4 65.6L651.3 68.1L652.9 70.2L649.1 67.9z"/>
<path fill="#d3b4dd" d="M473.3 57L468.6 59L469.8 58.5L474.6 56.4z"/>
<path fill="#64647e" d="M464.2 61.2L460.2 63.4L461.4 62.8L465.4 60.6z"/>
<path fill="#e2bfea" d="M502.6 49.2L495.9 50.3L497.4 49.8L504.2 48.6z"/>
<path fill="#63647d" d="M637.7 60.2L642.5 62.6L644.3 63.9L639.6 61.6z"/>
<path fill="#f7e5dc" d="M499.7 139.7L493.1 137.9L491.5 138.7L498.1 140.5z"/>
<path fill="#ddbbe6" d="M489.4 52L483.4 53.5L484.8 52.9L490.8 51.4z"/>
<path fill="#eecef9" d="M607.1 50.5L614 52.2L615.9 52.5L609 50.9z"/>
<path fill="#686882" d="M459.6 63.7L456.1 66.1L457.3 65.4L460.8 63.1z"/>
<path fill="#d7b6e0" d="M477.8 55.5L472.7 57.3L474 56.7L479.2 54.8z"/>
<path fill="#faeee5" d="M486.6 137L480.8 134.8L479.3 135.5L485 137.7z"/>
<path fill="#cfb0da" d="M467.9 59.4L463.6 61.5L464.8 60.9L469.2 58.7z"/>
<path fill="#60607a" d="M626.4 55.7L632 57.8L633.9 58.6L628.3 56.5z"/>
<path fill="#e3c0eb" d="M509 48.3L501.9 49.3L503.5 48.7L510.6 47.7z"/>
<path fill="#6c6e86" d="M455.5 66.4L452.5 68.8L453.6 68.1L456.7 65.7z"/>
<path fill="#f5e3d9" d="M506.1 141.2L499.1 139.5L497.4 140.3L504.4 142z"/>
<path fill="#dfbde8" d="M495 50.8L488.7 52.2L490.2 51.5L496.5 50.2z"/>
<path fill="#71738a" d="M650.6 67.8L654.1 70.4L655.6 72.4L652.3 69.9z"/>
<path fill="#c9acd5" d="M462.9 61.9L459.1 64.1L460.2 63.4L464.2 61.2z"/>
<path fill="#666680" d="M641.9 62.3L646.2 64.8L647.9 66L643.7 63.6z"/>
<path fill="#72748b" d="M451.9 69.2L449.3 71.7L450.4 70.9L453.1 68.4z"/>
<path fill="#dab9e3" d="M482.7 54L477.2 55.7L478.5 55L484.1 53.3z"/>
<path fill="#f8e9df" d="M492.2 138.8L486 136.8L484.4 137.5L490.5 139.5z"/>
<path fill="#d3b3dd" d="M472 57.7L467.3 59.7L468.5 59L473.3 57z"/>
<path fill="#eecff9" d="M613.3 52L619.8 53.8L621.7 54.1L615.2 52.3z"/>
<path fill="#797b92" d="M448.6 72.1L446.6 74.6L447.7 73.8L449.8 71.2z"/>
<path fill="#82859b" d="M657.6 74.1L660.2 76.5L661.4 79.4L659 77.3z"/>
<path fill="#edd2fb" d="M631.4 57.5L636.6 59.8L638.4 60.5L633.2 58.3z"/>
<path fill="#686982" d="M458.4 64.6L455 66.8L456.2 66.1L459.7 63.7z"/>
<path fill="#e1bfe9" d="M501.1 49.8L494.3 51L495.8 50.3L502.6 49.1z"/>
<path fill="#ceb0d9" d="M466.6 60.2L462.3 62.2L463.6 61.5L467.9 59.4z"/>
<path fill="#ddbbe5" d="M487.9 52.7L482 54.2L483.4 53.5L489.4 52z"/>
<path fill="#f6e5db" d="M498.1 140.4L491.5 138.6L489.9 139.3L496.4 141.2z"/>
<path fill="#d6b6e0" d="M476.4 56.2L471.3 58L472.7 57.3L477.8 55.4z"/>
<path fill="#6d6e87" d="M454.3 67.4L451.4 69.7L452.5 68.8L455.6 66.4z"/>
<path fill="#eed0fa" d="M619.1 53.6L625.3 55.6L627 55.9L621 53.9z"/>
<path fill="#faede5" d="M485.1 137.6L479.3 135.4L477.7 136L483.4 138.2z"/>
<path fill="#696a83" d="M645.6 64.4L649.6 67.1L651.2 68.3L647.3 65.7z"/>
<path fill="#75778f" d="M653.5 70.1L656.6 72.9L658 74.6L655.1 72z"/>
<path fill="#73758d" d="M450.6 70.3L448.2 72.7L449.4 71.7L451.9 69.2z"/>
<path fill="#c8acd4" d="M461.6 62.8L457.8 64.9L459.1 64.1L462.9 61.9z"/>
<path fill="#e3c0eb" d="M507.5 48.9L500.4 49.9L501.9 49.2L509 48.2z"/>
<path fill="#7a7d94" d="M447.3 73.4L445.5 75.8L446.7 74.7L448.7 72.2z"/>
<path fill="#83879c" d="M444.3 76.7L443.3 79L444.6 77.7L445.9 75.2z"/>
<path fill="#edd3fb" d="M636 59.5L640.8 62L642.5 62.6L637.7 60.2z"/>
<path fill="#dfbde7" d="M493.5 51.5L487.2 52.8L488.7 52.1L495 50.8z"/>
<path fill="#d2b3dc" d="M470.6 58.6L465.9 60.5L467.3 59.7L472 57.7z"/>
<path fill="#f5e2d8" d="M504.5 141.9L497.5 140.2L495.8 141L502.7 142.7z"/>
<path fill="#9ba3b1" d="M662.6 80.9L664.1 83.1L665.1 86.7L663.8 84.9z"/>
<path fill="#dab8e3" d="M481.2 54.8L475.8 56.4L477.1 55.6L482.7 54z"/>
<path fill="#eecef8" d="M605.2 50.5L612.2 52.1L614 52.1L607.1 50.5z"/>
<path fill="#c1a7cf" d="M457.1 65.6L453.7 67.8L455 66.8L458.4 64.5z"/>
<path fill="#878ca0" d="M659.7 76.3L661.9 79L663 81.5L660.9 79.4z"/>
<path fill="#f8e9df" d="M490.6 139.4L484.4 137.3L482.7 137.9L488.8 140z"/>
<path fill="#eed1fa" d="M624.6 55.4L630.3 57.5L632 57.8L626.4 55.6z"/>
<path fill="#b3bec3" d="M664.9 86L665.8 87.9L666.3 92.1L665.5 90.7z"/>
<path fill="#cdafd8" d="M465.2 61.1L461 63.1L462.3 62.2L466.6 60.1z"/>
<path fill="#b9a2c8" d="M453 68.6L450.1 70.8L451.4 69.7L454.3 67.4z"/>
<path fill="#e7d4fb" d="M649 66.7L652.6 69.5L654.1 70.5L650.6 67.8z"/>
<path fill="#e1bee9" d="M499.5 50.5L492.8 51.6L494.3 50.9L501 49.8z"/>
<path fill="#d6b6df" d="M475 57.1L469.9 58.8L471.3 57.9L476.4 56.1z"/>
<path fill="#dcbbe5" d="M486.4 53.5L480.5 54.9L482 54.1L487.9 52.7z"/>
<path fill="#949aab" d="M440.7 82.9L440.5 84.2L442 81.7L442.4 80.1z"/>
<path fill="#ecd3fb" d="M640.2 61.6L644.6 64.2L646.2 64.8L641.9 62.3z"/>
<path fill="#7a7d94" d="M656.1 72.4L658.7 75.3L660.1 76.9L657.6 74.1z"/>
<path fill="#af9bc1" d="M449.3 71.7L446.9 73.9L448.2 72.7L450.6 70.3z"/>
<path fill="#eecff9" d="M611.5 52L618.1 53.8L619.8 53.8L613.3 52z"/>
<path fill="#7d8096" d="M445.8 75L444.2 77.2L445.5 75.8L447.4 73.4z"/>
<path fill="#878ba0" d="M442.8 79.1L442.1 80.7L443.8 78.5L444.7 76.7z"/>
<path fill="#f6e5db" d="M496.5 141.1L489.9 139.2L488.2 139.8L494.7 141.7z"/>
<path fill="#c7abd3" d="M460.2 63.9L456.5 65.9L457.8 64.9L461.6 62.8z"/>
<path fill="#eed1fb" d="M629.7 57.2L635 59.5L636.6 59.8L631.4 57.5z"/>
<path fill="#d1b2dc" d="M469.1 59.6L464.5 61.4L465.9 60.4L470.6 58.5z"/>
<path fill="#e3c0eb" d="M505.9 49.7L498.8 50.6L500.4 49.8L507.5 48.9z"/>
<path fill="#c8d6d3" d="M666.2 91.4L666.7 92.8L666.8 97.1L666.4 96.3z"/>
<path fill="#d9b8e2" d="M479.7 55.7L474.3 57.3L475.7 56.3L481.2 54.7z"/>
<path fill="#dfbce7" d="M492 52.3L485.7 53.6L487.2 52.8L493.5 51.5z"/>
<path fill="#bfa6cd" d="M455.6 66.9L452.4 69L453.7 67.7L457.1 65.6z"/>
<path fill="#a2abb6" d="M663.9 83.1L664.9 85.2L665.8 88.6L665 86.7z"/>
<path fill="#8d93a6" d="M661.4 78.7L663.1 81.6L664.2 83.7L662.4 81.2z"/>
<path fill="#e5d5fa" d="M652 69L655.2 72L656.6 72.9L653.6 70.1z"/>
<path fill="#eecff9" d="M617.5 53.6L623.6 55.6L625.3 55.5L619.2 53.6z"/>
<path fill="#ead4fb" d="M644 63.8L648.1 66.5L649.6 67.1L645.7 64.4z"/>
<path fill="#f5e2d8" d="M502.8 142.6L495.8 140.9L494 141.5L501 143.2z"/>
<path fill="#9da4b2" d="M439.5 85.9L439.4 86.7L440.8 83.5L441.1 82.3z"/>
<path fill="#b6a0c6" d="M451.5 70.2L448.7 72.2L450.1 70.7L452.9 68.5z"/>
<path fill="#ccaed7" d="M463.7 62.3L459.6 64.2L461 63L465.2 61.1z"/>
<path fill="#dcd5f6" d="M658.3 74.8L660.5 77.9L661.8 79.3L659.7 76.3z"/>
<path fill="#edd2fb" d="M634.3 59.2L639.3 61.7L640.8 61.9L636 59.5z"/>
<path fill="#f8e9df" d="M488.9 139.9L482.8 137.8L480.9 138.3L487 140.4z"/>
<path fill="#b8c4c7" d="M665.7 87.9L666.2 89.8L666.7 93.5L666.3 92.1z"/>
<path fill="#ab99be" d="M447.8 73.9L445.6 75.6L446.8 73.7L449.2 71.7z"/>
<path fill="#e3ede9" d="M665.7 104.1L666.2 103.9L665.3 107.7L664.7 108.5z"/>
<path fill="#d5b5df" d="M473.4 58.1L468.4 59.8L469.9 58.7L474.9 57z"/>
<path fill="#8c91a5" d="M441.5 81.8L440.8 82.9L442.4 80.1L443.3 78.6z"/>
<path fill="#e1bee9" d="M497.9 51.4L491.3 52.5L492.8 51.6L499.5 50.5z"/>
<path fill="#eecdf8" d="M603.6 50.7L610.6 52.3L612.2 52.1L605.3 50.4z"/>
<path fill="#dcbae4" d="M484.8 54.4L479 55.8L480.5 54.9L486.4 53.4z"/>
<path fill="#9e91b3" d="M444.1 77.8L442.9 79.2L444.6 76.6L446 75.1z"/>
<path fill="#c5aad2" d="M458.6 65.3L455 67.2L456.4 65.9L460.2 63.8z"/>
<path fill="#eed0fa" d="M623 55.3L628.7 57.5L630.3 57.5L624.6 55.3z"/>
<path fill="#e8d4fb" d="M647.5 66.1L651.1 69L652.6 69.5L649.1 66.6z"/>
<path fill="#e2d5f9" d="M654.7 71.5L657.4 74.5L658.8 75.3L656.2 72.4z"/>
<path fill="#a9b2bb" d="M438.5 89.6L438.5 89.9L439.6 86L439.8 85.2z"/>
<path fill="#d0b2db" d="M467.5 60.8L463 62.5L464.5 61.3L469.1 59.5z"/>
<path fill="#dae6e2" d="M438.7 105.9L438.8 103.9L437.9 100.2L437.7 101.7z"/>
<path fill="#ecd3fb" d="M638.6 61.4L643.2 64L644.6 64.1L640.2 61.6z"/>
<path fill="#f6e5db" d="M494.7 141.6L488.2 139.7L486.3 140.2L492.8 142.1z"/>
<path fill="#bda4cc" d="M454 68.6L450.9 70.5L452.3 68.8L455.6 66.8z"/>
<path fill="#d3d4f4" d="M662.8 81.1L663.9 84.2L665 85.9L664.1 83.1z"/>
<path fill="#eecef9" d="M609.9 52.2L616.6 54L618.1 53.7L611.6 51.9z"/>
<path fill="#d8b7e1" d="M478.1 56.8L472.7 58.3L474.3 57.2L479.7 55.6z"/>
<path fill="#e3c0eb" d="M504.3 50.5L497.2 51.4L498.8 50.5L505.9 49.6z"/>
<path fill="#d1dfda" d="M666.8 96.4L666.8 97.3L666.7 101.2L666.6 100.9z"/>
<path fill="#debce7" d="M490.3 53.3L484.1 54.5L485.7 53.5L491.9 52.3z"/>
<path fill="#ced3f1" d="M664.8 85.3L665.2 87.6L666.3 90.5L665.9 88.6z"/>
<path fill="#eaf3ef" d="M664.9 107.8L665.5 107.1L664.5 110.3L663.7 111.4z"/>
<path fill="#d8d5f6" d="M660.1 77.3L661.9 80.4L663.1 81.7L661.5 78.6z"/>
<path fill="#c4cce5" d="M666.6 92.8L666.7 94.3L666.8 98L666.8 97.1z"/>
<path fill="#eed1fb" d="M628.1 57.2L633.5 59.5L635 59.5L629.7 57.2z"/>
<path fill="#d9e5e1" d="M666.6 100.2L666.7 100.5L666.2 104.3L666.1 104.5z"/>
<path fill="#b39ec4" d="M449.8 72.4L447.2 74L448.7 71.8L451.4 70z"/>
<path fill="#e7f0ec" d="M440.4 110.7L440.1 108.4L438.5 105.2L438.8 107.2z"/>
<path fill="#f3f9f6" d="M443 115.1L442.1 112.2L440.1 110.1L440.8 112.7z"/>
<path fill="#caadd6" d="M462 63.8L458 65.6L459.5 64.1L463.6 62.2z"/>
<path fill="#8882a2" d="M440 85.1L439.5 85.9L441.1 82.3L441.8 81.1z"/>
<path fill="#b8c4c7" d="M437.8 93.8L437.9 93.5L438.6 89.2L438.6 88.9z"/>
<path fill="#d1dfdb" d="M437.9 102.3L438 100.9L437.7 96.6L437.6 97.5z"/>
<path fill="#a696ba" d="M445.8 76.5L444 77.8L445.8 75L447.7 73.5z"/>
<path fill="#e6d5fa" d="M650.6 68.5L653.9 71.5L655.2 71.9L652.1 69z"/>
<path fill="#978dae" d="M442.5 80.7L441.4 81.8L443.2 78.6L444.5 77.2z"/>
<path fill="#ebd4fb" d="M642.6 63.6L646.7 66.3L648.1 66.5L644.1 63.8z"/>
<path fill="#f5e2d8" d="M501 143.1L494.1 141.4L492.1 141.9L499 143.6z"/>
<path fill="#c8d6d3" d="M437.6 98.2L437.7 97.3L438 92.8L437.8 93.1z"/>
<path fill="#eecff9" d="M615.9 53.8L622.1 55.8L623.6 55.5L617.5 53.5z"/>
<path fill="#d4b4de" d="M471.7 59.4L466.9 61L468.4 59.7L473.4 58z"/>
<path fill="#ded5f8" d="M657 73.9L659.3 77.1L660.6 77.8L658.4 74.8z"/>
<path fill="#c9d0ec" d="M666.1 89.8L666.2 91.7L666.7 95L666.7 93.5z"/>
<path fill="#e0ebe7" d="M666.2 103.9L666.3 103.6L665.6 106.9L665.3 107.7z"/>
<path fill="#dbbae4" d="M483.2 55.5L477.4 56.9L479 55.7L484.8 54.3z"/>
<path fill="#e0bee8" d="M496.3 52.3L489.7 53.4L491.3 52.4L497.9 51.3z"/>
<path fill="#c3a8d0" d="M456.9 67.2L453.4 68.9L455 67L458.6 65.2z"/>
<path fill="#edd2fb" d="M632.9 59.2L637.8 61.7L639.3 61.6L634.4 59.2z"/>
<path fill="#f5faf7" d="M661.5 114.5L663 113.1L662.2 115.4L660.4 117.1z"/>
<path fill="#eff6f3" d="M663.9 110.8L664.7 109.6L663.6 112.3L662.7 113.7z"/>
<path fill="#eecdf8" d="M602 51L609.1 52.7L610.6 52.3L603.6 50.6z"/>
<path fill="#f8fbf9" d="M448.1 121.4L446 118.3L443.9 117L445.9 119.9z"/>
<path fill="#d1d4f2" d="M663.8 83.5L664.5 86.6L665.6 88.2L665.1 85.3z"/>
<path fill="#cfb1da" d="M465.8 62.4L461.4 64L463 62.4L467.5 60.7z"/>
<path fill="#eed0fa" d="M621.5 55.5L627.3 57.7L628.8 57.4L623 55.3z"/>
<path fill="#d5d5f5" d="M661.6 79.8L663 83L664.1 84.1L662.9 81z"/>
<path fill="#b9a2c9" d="M452.2 71L449.2 72.4L450.9 70.1L454 68.4z"/>
<path fill="#e3d5fa" d="M653.4 71L656.2 74L657.5 74.4L654.8 71.4z"/>
<path fill="#e9d4fb" d="M646.1 65.9L649.9 68.7L651.2 68.9L647.6 66z"/>
<path fill="#7e7b99" d="M438.8 89.3L438.4 89.6L439.8 85.2L440.3 84.5z"/>
<path fill="#dde9e4" d="M439.1 107.8L438.7 105.9L437.8 101.6L438.1 103.1z"/>
<path fill="#d7b7e1" d="M476.4 58.1L471.1 59.6L472.7 58.2L478.1 56.7z"/>
<path fill="#ccd2ef" d="M665.4 87.5L665.4 90.2L666.4 92.4L666.5 90.2z"/>
<path fill="#b3bcc8" d="M665.5 107L665.7 106.3L664.8 109.1L664.4 110.3z"/>
<path fill="#ecd3fb" d="M637.2 61.4L641.8 64L643.2 63.9L638.7 61.3z"/>
<path fill="#ddbce6" d="M488.6 54.5L482.5 55.7L484.1 54.4L490.3 53.2z"/>
<path fill="#e2c0ea" d="M502.6 51.5L495.6 52.4L497.2 51.4L504.2 50.5z"/>
<path fill="#dbd5f6" d="M658.9 76.5L660.9 79.7L662 80.4L660.2 77.2z"/>
<path fill="#f5faf7" d="M444.4 117.5L443.1 114.7L441 112.3L442 114.7z"/>
<path fill="#ae9bc0" d="M447.7 75.1L445.5 76.4L447.4 73.4L449.7 72z"/>
<path fill="#eecef8" d="M608.4 52.5L615.1 54.3L616.6 53.9L610 52.1z"/>
<path fill="#c1c9df" d="M666.8 97.3L666.5 98.2L666.4 101.4L666.7 101.2z"/>
<path fill="#f7e5dc" d="M492.8 142L486.4 140.1L484.3 140.3L490.7 142.3z"/>
<path fill="#ebf3f0" d="M441.3 112.9L440.5 110.7L438.9 107.1L439.5 109z"/>
<path fill="#8d87a7" d="M440.9 84.4L440 85.1L441.7 81.1L442.8 80z"/>
<path fill="#c4cce4" d="M666.7 94.3L666.4 95.7L666.5 98.9L666.9 98z"/>
<path fill="#c8acd4" d="M460.2 65.7L456.3 67.3L458 65.3L462 63.6z"/>
<path fill="#bdc6d9" d="M666.7 100.5L666.4 100.7L666 103.9L666.2 104.3z"/>
<path fill="#9e91b4" d="M443.9 79.6L442.4 80.6L444.3 77.1L446 75.8z"/>
<path fill="#eed1fa" d="M626.7 57.4L632.1 59.7L633.5 59.5L628.1 57.1z"/>
<path fill="#f6fbf8" d="M660.3 117L662.1 114.9L661.3 116.3L659.4 118.7z"/>
<path fill="#e7d5fb" d="M649.4 68.3L652.7 71.3L653.9 71.4L650.7 68.4z"/>
<path fill="#73728e" d="M438.1 94.1L437.8 93.8L438.6 88.9L439 88.6z"/>
<path fill="#f3f9f6" d="M662.9 113.1L663.8 111.6L663.2 113.3L661.7 115.5z"/>
<path fill="#5f6277" d="M438.2 103.8L437.9 102.3L437.6 97.5L437.8 98.3z"/>
<path fill="#f8fbf9" d="M657.6 120.3L659.9 118.1L659.1 119.4L656.7 121.7z"/>
<path fill="#e0d5f8" d="M655.8 73.5L658.2 76.7L659.4 77L657.1 73.9z"/>
<path fill="#d3b4dd" d="M469.9 61L465.1 62.5L466.8 60.8L471.7 59.3z"/>
<path fill="#ebd3fb" d="M641.3 63.6L645.5 66.3L646.8 66.2L642.6 63.5z"/>
<path fill="#c7cfe9" d="M666.3 91.7L665.9 93.8L666.5 96.4L666.9 94.9z"/>
<path fill="#fafbf9" d="M450.4 123.8L447.8 120.8L445.7 119.3L448.1 122.2z"/>
<path fill="#fafcf9" d="M654.5 123.5L657.2 121.2L656.4 122.3L653.5 124.7z"/>
<path fill="#676982" d="M437.9 99L437.6 98.2L437.8 93.1L438.1 93.4z"/>
<path fill="#b9c2d2" d="M666.4 103.6L666.1 103.2L665.5 106.1L665.6 106.9z"/>
<path fill="#eecff9" d="M614.4 54.1L620.7 56.1L622.2 55.7L615.9 53.7z"/>
<path fill="#dab9e3" d="M481.4 57L475.7 58.2L477.4 56.8L483.1 55.4z"/>
<path fill="#b1b9c4" d="M664.7 109.7L665 108.4L664 110.7L663.5 112.3z"/>
<path fill="#e0bee8" d="M494.5 53.5L487.9 54.6L489.6 53.3L496.2 52.2z"/>
<path fill="#d3d4f3" d="M662.8 82.4L663.8 85.7L664.8 86.6L664 83.5z"/>
<path fill="#c0a6ce" d="M454.9 69.6L451.6 71L453.4 68.5L456.9 66.9z"/>
<path fill="#fcfaf7" d="M458.4 129.5L454.7 126.7L452.5 125.8L456 128.6z"/>
<path fill="#cfd3f1" d="M664.5 85.9L664.9 89.1L665.8 90.4L665.6 87.5z"/>
<path fill="#edd2fb" d="M631.5 59.4L636.6 61.9L637.9 61.6L632.9 59.1z"/>
<path fill="#f5e3d9" d="M499.1 143.5L492.2 141.8L490.1 142L496.9 143.8z"/>
<path fill="#d7d5f5" d="M660.6 79.1L662.1 82.4L663.1 83L661.8 79.8z"/>
<path fill="#eecdf7" d="M600.5 51.5L607.6 53.1L609.1 52.6L602 51z"/>
<path fill="#e5d5fa" d="M652.2 70.8L655.2 73.8L656.3 73.9L653.5 70.9z"/>
<path fill="#ead4fb" d="M644.9 65.9L648.7 68.7L650 68.7L646.2 65.8z"/>
<path fill="#cdafd8" d="M463.8 64.4L459.5 65.8L461.3 63.8L465.7 62.2z"/>
<path fill="#b49fc5" d="M450 73.9L447.4 75L449.4 71.9L452.1 70.5z"/>
<path fill="#eed0fa" d="M620.1 55.9L626 58L627.3 57.6L621.5 55.4z"/>
<path fill="#827f9d" d="M439.6 89L438.8 89.3L440.2 84.4L441.1 83.7z"/>
<path fill="#cbd2ee" d="M665.7 89.8L665.4 92.6L666.2 94.3L666.6 91.9z"/>
<path fill="#b6bfcd" d="M665.8 106.3L665.7 105.4L664.8 107.8L664.8 109.1z"/>
<path fill="#f7fbf8" d="M446.1 119.9L444.4 117.5L442.2 114.5L443.7 116.7z"/>
<path fill="#ddd5f7" d="M657.9 76.1L659.9 79.3L661 79.6L659.1 76.4z"/>
<path fill="#f7fbf8" d="M659.4 118.6L661.3 116.3L660.5 117.3L658.6 119.8z"/>
<path fill="#555969" d="M439.8 109.6L439 107.8L438 103.1L438.7 104.5z"/>
<path fill="#aab2b8" d="M661.8 115.5L663 113.2L662.3 114.3L660.9 116.8z"/>
<path fill="#edd3fb" d="M635.9 61.5L640.6 64.1L641.9 63.9L637.3 61.3z"/>
<path fill="#d6b6e0" d="M474.5 59.8L469.3 61.2L471 59.4L476.3 58z"/>
<path fill="#f9fbf9" d="M656.7 121.7L659 119.3L658.2 120.3L655.8 122.8z"/>
<path fill="#ddbbe5" d="M486.8 55.9L480.7 57L482.5 55.5L488.6 54.4z"/>
<path fill="#a696ba" d="M445.7 78.6L443.8 79.5L445.8 75.8L447.9 74.5z"/>
<path fill="#e1bfea" d="M500.8 52.8L493.8 53.6L495.6 52.3L502.6 51.4z"/>
<path fill="#afb7c1" d="M664 112.1L664.3 110.1L663.4 111.4L662.7 113.8z"/>
<path fill="#4e535e" d="M442.5 115.1L441.2 112.9L439.6 109L440.7 110.8z"/>
<path fill="#948bac" d="M442.2 83.7L440.8 84.3L442.7 80L444.2 79z"/>
<path fill="#fbfcf9" d="M653.5 124.7L656.3 122.3L655.5 123.2L652.6 125.7z"/>
<path fill="#eecef8" d="M607 53L613.7 54.8L615.1 54.2L608.4 52.4z"/>
<path fill="#c1cadf" d="M666.6 98.2L665.9 99.1L665.8 101.7L666.5 101.4z"/>
<path fill="#fbfcfa" d="M453.1 126.2L449.9 123.3L447.8 121.7L450.7 124.4z"/>
<path fill="#e8d5fb" d="M648.2 68.3L651.6 71.3L652.8 71.2L649.4 68.2z"/>
<path fill="#eed1fa" d="M625.3 57.7L630.8 60L632.2 59.6L626.7 57.3z"/>
<path fill="#e1d5f9" d="M654.7 73.3L657.3 76.5L658.4 76.6L655.9 73.4z"/>
<path fill="#c5aad2" d="M458.1 68.3L454.4 69.6L456.3 66.9L460.1 65.5z"/>
<path fill="#fcf9f4" d="M461.9 131.8L457.8 129.1L455.5 128.1L459.5 130.7z"/>
<path fill="#d0d4f2" d="M663.7 85L664.2 88.3L665.1 89.1L664.7 85.9z"/>
<path fill="#c3cbe3" d="M666.5 95.7L665.7 97.3L665.9 99.7L666.7 98.8z"/>
<path fill="#d4d5f4" d="M661.9 81.7L663 85.1L663.9 85.6L663 82.3z"/>
<path fill="#bec7db" d="M666.5 100.8L665.8 101L665.5 103.6L666.1 103.9z"/>
<path fill="#b4bcc9" d="M665.2 108.6L665.1 107.2L664.1 108.8L664.1 110.8z"/>
<path fill="#ebd3fb" d="M640 63.7L644.3 66.5L645.5 66.2L641.3 63.5z"/>
<path fill="#fcfcfa" d="M649.9 127.5L653.2 125.2L652.4 126L649 128.4z"/>
<path fill="#757591" d="M438.7 94.4L438 94L438.9 88.6L439.7 88.3z"/>
<path fill="#5e6277" d="M438.8 105.2L438.1 103.8L437.8 98.3L438.4 99.2z"/>
<path fill="#cdd2ef" d="M664.9 88.5L664.9 91.7L665.7 92.8L665.9 89.8z"/>
<path fill="#d9d5f6" d="M659.6 78.7L661.3 82.1L662.2 82.3L660.7 79z"/>
<path fill="#f7e7dd" d="M490.8 142.2L484.3 140.2L482.1 140.2L488.5 142.1z"/>
<path fill="#d1b2db" d="M467.9 63.2L463.2 64.5L465.1 62.3L469.9 60.9z"/>
<path fill="#c6cee7" d="M666.2 93.6L665.3 96L665.9 97.9L666.8 96.2z"/>
<path fill="#a9b0b6" d="M660.9 116.9L662.3 114.4L661.6 115.2L660.1 117.9z"/>
<path fill="#bbc4d6" d="M666.3 103.3L665.6 102.9L665 105.2L665.6 106.1z"/>
<path fill="#a4abaf" d="M658.6 119.9L660.5 117.3L659.8 118.1L657.8 120.8z"/>
<path fill="#eecff9" d="M613 54.6L619.4 56.5L620.8 56L614.5 54z"/>
<path fill="#686a83" d="M438.4 99.9L437.8 99L438.1 93.4L438.7 93.7z"/>
<path fill="#edd2fa" d="M630.2 59.7L635.3 62.2L636.6 61.8L631.5 59.3z"/>
<path fill="#d9b8e2" d="M479.4 58.7L473.8 59.9L475.7 58.1L481.3 56.8z"/>
<path fill="#adb6be" d="M662.9 113.8L663.7 111.4L662.9 112.4L662 115z"/>
<path fill="#f9fbf9" d="M655.8 122.8L658.2 120.3L657.5 121L655 123.6z"/>
<path fill="#dfbde7" d="M492.6 55L486.1 56L487.9 54.4L494.5 53.4z"/>
<path fill="#e5d5fa" d="M651.1 70.8L654.2 73.8L655.3 73.7L652.3 70.7z"/>
<path fill="#bba4ca" d="M452.7 72.7L449.7 73.8L451.7 70.4L454.9 69.1z"/>
<path fill="#ded5f7" d="M656.9 75.9L659.1 79.2L660 79.3L658 76z"/>
<path fill="#fcf4ec" d="M477.5 138.5L472 136.2L469.6 135.7L475 138z"/>
<path fill="#ead4fb" d="M643.8 66.1L647.7 68.9L648.8 68.6L645 65.8z"/>
<path fill="#4c5156" d="M448.3 122.2L445.9 119.9L443.7 116.7L445.9 118.7z"/>
<path fill="#fbfcfa" d="M652.6 125.6L655.5 123.2L654.7 123.9L651.8 126.4z"/>
<path fill="#edcdf7" d="M599.1 52.1L606.2 53.7L607.7 53.1L600.5 51.4z"/>
<path fill="#b2bbc6" d="M664.4 110.7L664.5 108.5L663.7 109.6L663.4 112z"/>
<path fill="#c9d0eb" d="M665.6 92.1L665.1 95L665.7 96.3L666.4 93.8z"/>
<path fill="#b9c2d2" d="M665.9 105.5L665.3 104.5L664.5 106.3L665 107.9z"/>
<path fill="#eed0f9" d="M618.7 56.3L624.7 58.4L626 57.9L620.1 55.8z"/>
<path fill="#d2d4f3" d="M662.9 84.4L663.6 87.9L664.4 88.3L663.8 85z"/>
<path fill="#edd2fb" d="M634.7 61.8L639.5 64.4L640.7 64L636 61.4z"/>
<path fill="#8783a2" d="M440.6 88.8L439.4 89L441 83.7L442.4 83z"/>
<path fill="#ad9bbf" d="M447.8 77.6L445.5 78.5L447.6 74.4L450.2 73.3z"/>
<path fill="#fcf7f2" d="M465.9 133.9L461.3 131.4L459 130.3L463.4 132.8z"/>
<path fill="#d5d5f5" d="M661 81.4L662.3 84.8L663.2 85.1L662 81.7z"/>
<path fill="#545968" d="M440.9 111.5L439.7 109.6L438.6 104.5L439.7 105.9z"/>
<path fill="#caaed6" d="M461.6 67.1L457.5 68.3L459.6 65.5L463.8 64.1z"/>
<path fill="#ced3f0" d="M664.2 87.7L664.4 91.1L665.1 91.7L665.1 88.5z"/>
<path fill="#505454" d="M456.1 128.5L452.5 125.8L450.3 123.9L453.7 126.5z"/>
<path fill="#f6e4da" d="M497 143.7L490.1 142L487.8 141.9L494.6 143.7z"/>
<path fill="#e2d5f9" d="M653.7 73.3L656.4 76.5L657.4 76.4L654.8 73.2z"/>
<path fill="#fcfcfa" d="M649 128.4L652.3 126L651.6 126.7L648.2 129.1z"/>
<path fill="#a8afb5" d="M660.1 117.9L661.7 115.3L661 116L659.4 118.7z"/>
<path fill="#4d535c" d="M444.1 117.2L442.4 115.1L440.6 110.8L442.2 112.6z"/>
<path fill="#9b90b1" d="M443.8 83L442 83.6L444 78.9L445.9 77.9z"/>
<path fill="#a3aaad" d="M657.8 120.8L659.8 118.2L659.1 118.8L657 121.6z"/>
<path fill="#e8d5fb" d="M647.1 68.5L650.7 71.4L651.7 71.2L648.3 68.2z"/>
<path fill="#adb5bd" d="M662.1 115L663.1 112.4L662.4 113.1L661.3 115.9z"/>
<path fill="#dad5f6" d="M658.7 78.6L660.5 81.9L661.4 82L659.7 78.7z"/>
<path fill="#d4b5de" d="M472.3 62L467.2 63.2L469.2 60.9L474.4 59.6z"/>
<path fill="#eecef8" d="M605.6 53.5L612.4 55.3L613.7 54.7L607 52.9z"/>
<path fill="#9fa5a6" d="M655 123.7L657.5 121L656.8 121.7L654.2 124.4z"/>
<path fill="#e1bfe9" d="M498.8 54.3L491.9 55.1L493.8 53.5L500.8 52.7z"/>
<path fill="#eed1fa" d="M624.1 58.2L629.6 60.4L630.9 59.9L625.4 57.6z"/>
<path fill="#b7c0cf" d="M665.4 107.5L664.8 105.9L664.1 107.1L664.4 109.2z"/>
<path fill="#dbbbe4" d="M484.7 57.8L478.7 58.8L480.7 56.9L486.8 55.8z"/>
<path fill="#ecd3fb" d="M638.9 64L643.3 66.7L644.4 66.4L640.1 63.6z"/>
<path fill="#cbd2ee" d="M665 91L664.7 94.3L665.3 95.1L665.8 92.1z"/>
<path fill="#b1bac5" d="M663.6 112.1L664 109.6L663.3 110.4L662.8 113z"/>
<path fill="#c1cadf" d="M666.1 99.1L664.9 100L664.9 101.9L666 101.7z"/>
<path fill="#faefe6" d="M482.8 140.4L476.8 138.3L474.4 137.7L480.3 139.8z"/>
<path fill="#fcf9f6" d="M645 131.1L648.7 128.7L647.9 129.4L644.1 131.8z"/>
<path fill="#c3cbe2" d="M666 97.2L664.7 99L665 100.6L666.2 99.6z"/>
<path fill="#9aa09f" d="M651.8 126.4L654.7 123.9L654 124.5L651 127.1z"/>
<path fill="#bfc8dc" d="M666.1 101L664.9 101.3L664.7 103.2L665.7 103.6z"/>
<path fill="#dfd5f7" d="M656 75.9L658.3 79.2L659.2 79.1L657 75.8z"/>
<path fill="#e6d5fa" d="M650.2 70.9L653.3 74L654.3 73.7L651.2 70.7z"/>
<path fill="#c0a8ce" d="M455.7 71.5L452.3 72.6L454.5 69.1L458.1 67.8z"/>
<path fill="#d3d5f3" d="M662.1 84.2L663 87.7L663.8 87.9L663 84.4z"/>
<path fill="#797894" d="M439.7 94.7L438.6 94.3L439.6 88.3L440.8 88.1z"/>
<path fill="#cfd4f1" d="M663.5 87.2L663.9 90.7L664.6 91L664.4 87.7z"/>
<path fill="#edd2fa" d="M629 60.1L634.2 62.6L635.4 62.1L630.3 59.6z"/>
<path fill="#a7afb4" d="M659.4 118.8L661.1 116L660.4 116.6L658.7 119.4z"/>
<path fill="#5f6276" d="M439.8 106.6L438.7 105.2L438.4 99.2L439.4 100.1z"/>
<path fill="#eecff8" d="M611.7 55.1L618.1 57.1L619.4 56.4L613.1 54.5z"/>
<path fill="#acb4bc" d="M661.4 115.9L662.5 113.2L661.9 113.7L660.7 116.6z"/>
<path fill="#c5cde4" d="M665.7 95.6L664.6 98.1L665 99.3L666.2 97.5z"/>
<path fill="#bec6d9" d="M665.9 103L664.8 102.5L664.3 104.2L665.3 105.2z"/>
<path fill="#ead4fb" d="M642.7 66.3L646.7 69.1L647.7 68.8L643.8 66z"/>
<path fill="#b6bfcd" d="M664.6 109.1L664.4 106.9L663.8 107.7L663.8 110.2z"/>
<path fill="#d6d5f5" d="M660.2 81.3L661.7 84.7L662.4 84.8L661.1 81.4z"/>
<path fill="#a3aaad" d="M657.1 121.6L659.2 118.8L658.5 119.4L656.3 122.2z"/>
<path fill="#4d5255" d="M450.8 124.4L447.9 122.2L445.7 118.8L448.3 120.8z"/>
<path fill="#fcf6f0" d="M470.3 136L465.3 133.6L462.8 132.5L467.7 134.8z"/>
<path fill="#fcfcf9" d="M648.2 129.1L651.5 126.7L650.8 127.2L647.3 129.8z"/>
<path fill="#b1b9c3" d="M662.9 113.1L663.5 110.4L662.9 111L662.2 113.8z"/>
<path fill="#ceb1d9" d="M465.6 65.9L461.1 67L463.2 64.1L467.9 62.9z"/>
<path fill="#ccd2ee" d="M664.5 90.4L664.3 93.8L664.9 94.3L665.2 91z"/>
<path fill="#6a6c84" d="M439.4 100.8L438.3 99.9L438.6 93.7L439.7 94z"/>
<path fill="#fcf7f2" d="M640.5 133.7L644.7 131.4L643.8 132L639.5 134.3z"/>
<path fill="#9ea4a5" d="M654.2 124.4L656.8 121.7L656.1 122.2L653.5 124.9z"/>
<path fill="#e3d5f9" d="M652.8 73.5L655.6 76.6L656.5 76.4L653.8 73.2z"/>
<path fill="#525555" d="M459.6 130.7L455.5 128.2L453.1 126.1L457.1 128.5z"/>
<path fill="#dad5f6" d="M657.9 78.6L659.8 81.9L660.6 81.9L658.9 78.5z"/>
<path fill="#c6cee7" d="M665.3 94.4L664.4 97.4L664.8 98.3L665.9 95.7z"/>
<path fill="#bcc5d7" d="M665.6 104.8L664.6 103.7L664 104.8L664.8 106.6z"/>
<path fill="#d7b8e1" d="M477.2 61L471.7 62.1L473.8 59.7L479.4 58.5z"/>
<path fill="#edd2fb" d="M633.6 62.2L638.4 64.8L639.5 64.3L634.8 61.7z"/>
<path fill="#b3a0c4" d="M450.4 76.6L447.6 77.5L449.9 73.2L452.8 72.1z"/>
<path fill="#debde6" d="M490.5 56.9L484.1 57.8L486.1 55.8L492.6 54.9z"/>
<path fill="#eed0f9" d="M617.4 56.8L623.5 58.9L624.7 58.3L618.8 56.2z"/>
<path fill="#edcdf7" d="M597.7 52.8L604.9 54.4L606.3 53.6L599.1 52z"/>
<path fill="#e8d5fb" d="M646.1 68.7L649.7 71.6L650.7 71.3L647.2 68.4z"/>
<path fill="#b5becb" d="M664 110.2L664 107.7L663.5 108.3L663.3 111z"/>
<path fill="#f8eae1" d="M488.5 142.1L482.1 140.1L479.6 139.6L485.9 141.5z"/>
<path fill="#abb4bb" d="M660.8 116.6L662 113.8L661.5 114.2L660.1 117.2z"/>
<path fill="#9a9f9f" d="M651 127.1L654 124.5L653.3 125L650.2 127.7z"/>
<path fill="#a7aeb3" d="M658.8 119.4L660.5 116.6L659.9 117L658.1 120z"/>
<path fill="#8c87a6" d="M442.1 88.6L440.5 88.7L442.2 83L443.9 82.4z"/>
<path fill="#d0d4f1" d="M662.9 87L663.4 90.5L664.1 90.7L663.7 87.2z"/>
<path fill="#d3d5f3" d="M661.4 84.1L662.5 87.6L663.2 87.6L662.2 84.1z"/>
<path fill="#fcf9f5" d="M644.1 131.8L647.9 129.4L647.1 129.9L643.2 132.4z"/>
<path fill="#545966" d="M442.3 113.3L440.7 111.5L439.6 105.9L441.1 107.3z"/>
<path fill="#4e535b" d="M446.1 119.3L443.9 117.3L442 112.7L444 114.4z"/>
<path fill="#a195b6" d="M445.7 82.4L443.6 82.9L445.7 77.9L448 76.9z"/>
<path fill="#b0b9c2" d="M662.3 113.8L663 111L662.6 111.5L661.7 114.4z"/>
<path fill="#dfd5f8" d="M655.2 76.1L657.6 79.3L658.4 79.1L656.1 75.9z"/>
<path fill="#bbc4d5" d="M665.1 106.4L664.3 104.6L663.8 105.3L664.4 107.6z"/>
<path fill="#a2a9ac" d="M656.4 122.2L658.6 119.4L658 119.9L655.7 122.7z"/>
<path fill="#ecd3fb" d="M637.8 64.4L642.2 67.1L643.3 66.6L639 63.9z"/>
<path fill="#c8d0e9" d="M664.9 93.6L664.2 96.9L664.6 97.5L665.5 94.4z"/>
<path fill="#cdd3ef" d="M663.9 90L663.9 93.5L664.5 93.8L664.6 90.4z"/>
<path fill="#eed1fa" d="M622.8 58.7L628.5 60.9L629.7 60.3L624.1 58.1z"/>
<path fill="#e6d5fa" d="M649.2 71.2L652.5 74.2L653.4 73.9L650.3 70.8z"/>
<path fill="#d6d5f5" d="M659.5 81.3L661.1 84.7L661.8 84.7L660.4 81.3z"/>
<path fill="#eecef8" d="M604.2 54.2L611 56L612.4 55.2L605.6 53.4z"/>
<path fill="#c5abd2" d="M459.2 70.5L455.3 71.4L457.6 67.8L461.6 66.6z"/>
<path fill="#b5bdca" d="M663.4 111L663.6 108.3L663.2 108.8L662.8 111.7z"/>
<path fill="#9ea4a5" d="M653.5 125L656.2 122.2L655.5 122.7L652.8 125.5z"/>
<path fill="#969b99" d="M647.3 129.8L650.8 127.2L650 127.7L646.5 130.3z"/>
<path fill="#5a5c58" d="M475.1 138L469.6 135.8L467.1 134.5L472.4 136.7z"/>
<path fill="#bac3d3" d="M664.6 107.5L664 105.3L663.6 105.8L663.9 108.4z"/>
<path fill="#abb3ba" d="M660.2 117.2L661.5 114.3L661 114.6L659.6 117.7z"/>
<path fill="#ead4fb" d="M641.7 66.7L645.7 69.5L646.8 69L642.8 66.2z"/>
<path fill="#dbd5f6" d="M657.2 78.7L659.2 82L660 81.9L658 78.5z"/>
<path fill="#b0b8c2" d="M661.8 114.4L662.6 111.5L662.2 111.9L661.2 114.9z"/>
<path fill="#a7aeb3" d="M658.2 120L660 117.1L659.4 117.5L657.6 120.4z"/>
<path fill="#e3d5f9" d="M652 73.7L654.8 76.8L655.7 76.5L652.9 73.4z"/>
<path fill="#edd1fa" d="M627.8 60.7L633.1 63L634.3 62.4L629.1 60z"/>
<path fill="#d1b4dc" d="M470 64.9L465 65.9L467.3 62.9L472.3 61.7z"/>
<path fill="#c9d1eb" d="M664.4 93.1L663.9 96.6L664.3 96.9L665 93.6z"/>
<path fill="#d0d4f2" d="M662.3 86.9L663 90.4L663.6 90.5L663 87z"/>
<path fill="#e0bee8" d="M496.7 56.2L489.9 56.9L491.9 54.9L498.8 54.1z"/>
<path fill="#fcf7f2" d="M639.5 134.3L643.8 132L642.9 132.6L638.6 134.9z"/>
<path fill="#dabae3" d="M482.5 60.1L476.6 61L478.7 58.5L484.7 57.5z"/>
<path fill="#c2cadf" d="M665.3 100L663.6 101.1L663.7 102.1L665.3 101.8z"/>
<path fill="#4f5355" d="M453.7 126.6L450.4 124.4L448 120.9L451.1 122.8z"/>
<path fill="#d4d5f4" d="M660.8 84.1L662 87.6L662.6 87.5L661.6 84z"/>
<path fill="#eecff8" d="M610.4 55.8L616.8 57.7L618.1 57L611.7 55z"/>
<path fill="#cdd3ef" d="M663.4 89.8L663.6 93.4L664.1 93.5L664 90z"/>
<path fill="#c2cbe1" d="M665.2 98.7L663.6 100.7L663.8 101.5L665.5 100.3z"/>
<path fill="#c1c9de" d="M665.3 101.4L663.7 101.6L663.5 102.7L665.1 103.2z"/>
<path fill="#545756" d="M463.4 132.8L458.9 130.5L456.4 128.2L460.8 130.4z"/>
<path fill="#9a9f9f" d="M650.2 127.7L653.3 125L652.6 125.4L649.5 128.2z"/>
<path fill="#a2a9ac" d="M655.7 122.8L658 119.9L657.4 120.3L655.1 123.2z"/>
<path fill="#b4bdc9" d="M662.9 111.7L663.3 108.8L662.9 109.1L662.4 112.1z"/>
<path fill="#f7e6dd" d="M494.6 143.6L487.8 141.9L485.3 141.3L492 143z"/>
<path fill="#bac2d2" d="M664.1 108.4L663.7 105.8L663.4 106.2L663.5 109z"/>
<path fill="#e8d5fa" d="M645.2 69.1L648.9 72L649.8 71.5L646.2 68.6z"/>
<path fill="#7c7b97" d="M441 95L439.5 94.6L440.6 88.1L442.2 87.9z"/>
<path fill="#c3cce2" d="M665 97.6L663.6 100.2L663.8 100.8L665.4 98.8z"/>
<path fill="#c0c8dc" d="M665.2 102.8L663.7 102.2L663.4 103L664.7 104.3z"/>
<path fill="#606377" d="M441.1 108L439.6 106.6L439.3 100.1L440.7 100.9z"/>
<path fill="#d7d6f5" d="M658.9 81.4L660.5 84.8L661.2 84.7L659.7 81.3z"/>
<path fill="#dfd5f8" d="M654.4 76.3L656.9 79.5L657.7 79.2L655.3 76z"/>
<path fill="#edd2fa" d="M632.5 62.7L637.4 65.2L638.5 64.7L633.7 62.1z"/>
<path fill="#929693" d="M643.2 132.4L647.1 129.9L646.2 130.4L642.3 132.9z"/>
<path fill="#b9a4c9" d="M453.3 75.8L450.1 76.5L452.5 72L455.8 71z"/>
<path fill="#afb8c1" d="M661.3 114.9L662.3 111.9L661.9 112.2L660.8 115.3z"/>
<path fill="#abb3ba" d="M659.7 117.7L661.1 114.7L660.6 115L659.1 118.1z"/>
<path fill="#cad1ec" d="M664 92.8L663.7 96.4L664.1 96.6L664.5 93.1z"/>
<path fill="#fcf5ed" d="M630.1 138.5L635.1 136.5L634.1 137.1L629 139.2z"/>
<path fill="#c4cde4" d="M664.7 96.8L663.5 99.8L663.8 100.3L665.1 97.7z"/>
<path fill="#bfc8db" d="M665 104.1L663.6 102.7L663.3 103.3L664.4 105.2z"/>
<path fill="#9ea4a5" d="M652.8 125.5L655.5 122.7L654.9 123.1L652.1 125.9z"/>
<path fill="#eed0f9" d="M616.2 57.5L622.3 59.5L623.5 58.8L617.5 56.7z"/>
<path fill="#a6aeb3" d="M657.6 120.5L659.5 117.5L659 117.8L657 120.8z"/>
<path fill="#b4bdc8" d="M662.5 112.2L663 109.2L662.6 109.4L662 112.5z"/>
<path fill="#e6d5fa" d="M648.4 71.5L651.7 74.5L652.6 74.1L649.3 71.1z"/>
<path fill="#b9c2d1" d="M663.6 109L663.5 106.2L663.2 106.5L663.2 109.5z"/>
<path fill="#6c6e86" d="M440.7 101.6L439.3 100.8L439.6 94L441.1 94.3z"/>
<path fill="#d1d4f2" d="M661.8 86.9L662.6 90.4L663.1 90.4L662.4 86.9z"/>
<path fill="#ced3f0" d="M662.9 89.7L663.3 93.3L663.7 93.4L663.5 89.8z"/>
<path fill="#edcdf7" d="M596.2 53.5L603.5 55.1L604.9 54.3L597.7 52.7z"/>
<path fill="#ecd3fb" d="M636.8 64.9L641.3 67.5L642.3 67L637.9 64.3z"/>
<path fill="#dbd5f6" d="M656.5 78.9L658.6 82.2L659.3 82L657.3 78.7z"/>
<path fill="#969a99" d="M646.5 130.3L650 127.7L649.3 128.2L645.7 130.8z"/>
<path fill="#d4d5f4" d="M660.3 84.2L661.5 87.7L662.1 87.5L660.9 84.1z"/>
<path fill="#bec7da" d="M664.6 105.1L663.5 103.2L663.2 103.6L664.1 105.9z"/>
<path fill="#c5cde5" d="M664.4 96.2L663.4 99.6L663.6 99.9L664.8 96.8z"/>
<path fill="#fcf6ef" d="M634.5 136.8L639.2 134.6L638.2 135.1L633.4 137.4z"/>
<path fill="#4f545a" d="M448.5 121.4L445.8 119.4L443.8 114.5L446.3 116.2z"/>
<path fill="#5c5e5a" d="M480.3 139.8L474.4 137.8L471.7 136.4L477.6 138.5z"/>
<path fill="#a899bb" d="M448.1 81.8L445.5 82.3L447.8 76.9L450.5 76z"/>
<path fill="#a2a9ab" d="M655.1 123.2L657.4 120.3L656.9 120.6L654.4 123.6z"/>
<path fill="#cad2ed" d="M663.6 92.7L663.5 96.3L663.8 96.4L664.1 92.8z"/>
<path fill="#afb8c1" d="M660.8 115.3L661.9 112.2L661.5 112.5L660.4 115.6z"/>
<path fill="#928cab" d="M443.9 88.4L441.9 88.5L443.8 82.3L445.9 81.7z"/>
<path fill="#caafd6" d="M463 69.5L458.7 70.4L461.2 66.6L465.6 65.5z"/>
<path fill="#e3d5f9" d="M651.2 74L654.1 77.1L654.9 76.7L652.1 73.6z"/>
<path fill="#b9c2d1" d="M663.3 109.5L663.3 106.5L663 106.8L662.9 109.8z"/>
<path fill="#eed1f9" d="M621.6 59.3L627.3 61.5L628.5 60.8L622.9 58.6z"/>
<path fill="#545966" d="M444.2 115.1L442.2 113.3L440.9 107.3L442.8 108.6z"/>
<path fill="#abb3ba" d="M659.2 118.1L660.7 115L660.2 115.3L658.6 118.4z"/>
<path fill="#b4bcc8" d="M662.1 112.6L662.7 109.5L662.4 109.7L661.7 112.9z"/>
<path fill="#bec7d9" d="M664.2 105.9L663.3 103.5L663.1 103.8L663.8 106.5z"/>
<path fill="#ead4fb" d="M640.7 67.1L644.8 69.9L645.8 69.4L641.8 66.6z"/>
<path fill="#9a9f9e" d="M649.5 128.2L652.6 125.5L651.9 125.9L648.7 128.6z"/>
<path fill="#d7d6f5" d="M658.3 81.6L660 85L660.6 84.8L659 81.4z"/>
<path fill="#dcbce5" d="M488.2 59.3L481.8 60.1L484.1 57.5L490.5 56.7z"/>
<path fill="#d5b6df" d="M474.8 64L469.4 64.8L471.7 61.7L477.2 60.7z"/>
<path fill="#c6cee6" d="M664.1 95.9L663.3 99.4L663.5 99.6L664.5 96.3z"/>
<path fill="#ced3f0" d="M662.5 89.8L663 93.3L663.4 93.3L663 89.7z"/>
<path fill="#8f928e" d="M638.6 134.9L642.9 132.6L642 133.1L637.6 135.4z"/>
<path fill="#edcef7" d="M602.8 54.9L609.7 56.7L611.1 55.8L604.2 54.1z"/>
<path fill="#d1d5f2" d="M661.3 87L662.3 90.5L662.7 90.4L661.9 86.9z"/>
<path fill="#a6aeb2" d="M657 120.9L659 117.8L658.5 118.1L656.5 121.2z"/>
<path fill="#e0d6f8" d="M653.7 76.6L656.2 79.7L657 79.4L654.5 76.2z"/>
<path fill="#b9c2d0" d="M662.9 109.8L663.1 106.8L662.8 107L662.6 110.1z"/>
<path fill="#bec6d8" d="M663.9 106.5L663.2 103.8L663 104L663.5 106.9z"/>
<path fill="#cbd2ed" d="M663.3 92.6L663.3 96.3L663.5 96.3L663.7 92.7z"/>
<path fill="#edd1fa" d="M626.7 61.2L632 63.6L633.2 62.9L627.9 60.5z"/>
<path fill="#9ea4a5" d="M652.1 125.9L654.9 123.1L654.3 123.4L651.4 126.3z"/>
<path fill="#565957" d="M467.7 134.8L462.8 132.7L460.2 130.3L465 132.3z"/>
<path fill="#e8d5fa" d="M644.3 69.5L648 72.3L649 71.8L645.3 69z"/>
<path fill="#afb8c1" d="M660.4 115.7L661.6 112.5L661.2 112.7L660 115.9z"/>
<path fill="#b4bcc8" d="M661.7 112.9L662.5 109.7L662.1 109.9L661.3 113.1z"/>
<path fill="#d4d5f4" d="M659.7 84.3L661.1 87.8L661.7 87.6L660.4 84.2z"/>
<path fill="#c6cee6" d="M663.8 95.7L663.2 99.3L663.4 99.4L664.2 95.9z"/>
<path fill="#515556" d="M457 128.7L453.2 126.6L450.8 122.9L454.4 124.7z"/>
<path fill="#929693" d="M642.3 132.9L646.2 130.4L645.4 130.9L641.4 133.4z"/>
<path fill="#fbf1e8" d="M624.1 140.8L629.6 138.9L628.5 139.4L622.9 141.4z"/>
<path fill="#bdc6d8" d="M663.6 106.9L663.1 104L662.9 104.2L663.2 107.2z"/>
<path fill="#dcd5f6" d="M655.8 79.2L658 82.4L658.7 82.1L656.6 78.9z"/>
<path fill="#abb3b9" d="M658.7 118.4L660.3 115.3L659.9 115.5L658.2 118.7z"/>
<path fill="#b8c1d0" d="M662.6 110.1L662.9 107L662.7 107.1L662.3 110.4z"/>
<path fill="#ced4f0" d="M662.1 89.8L662.7 93.4L663.1 93.3L662.6 89.7z"/>
<path fill="#a2a9ab" d="M654.5 123.6L656.9 120.7L656.3 121L653.8 124z"/>
<path fill="#eecff8" d="M609 56.5L615.6 58.4L616.9 57.6L610.4 55.6z"/>
<path fill="#e6d5fa" d="M647.5 71.9L650.9 74.8L651.8 74.4L648.5 71.4z"/>
<path fill="#ecd2fa" d="M631.4 63.3L636.3 65.8L637.4 65.1L632.5 62.6z"/>
<path fill="#cbd2ed" d="M662.9 92.7L663.1 96.3L663.3 96.3L663.3 92.6z"/>
<path fill="#c7cfe7" d="M663.5 95.6L663.1 99.3L663.2 99.3L663.9 95.7z"/>
<path fill="#bdc6d8" d="M663.3 107.2L663 104.2L662.9 104.3L663 107.5z"/>
<path fill="#d1d5f2" d="M660.9 87.1L661.9 90.6L662.4 90.5L661.4 87z"/>
<path fill="#969a98" d="M645.7 130.8L649.3 128.2L648.5 128.6L644.8 131.3z"/>
<path fill="#b3bcc8" d="M661.4 113.2L662.2 109.9L661.9 110.1L661 113.4z"/>
<path fill="#d7d6f5" d="M657.7 81.8L659.5 85.2L660.1 84.9L658.4 81.6z"/>
<path fill="#bea8cd" d="M456.6 75L453 75.7L455.5 70.9L459.3 69.9z"/>
<path fill="#fcf5ed" d="M629 139.1L634.1 137.1L633 137.6L627.8 139.7z"/>
<path fill="#b8c1d0" d="M662.3 110.4L662.7 107.1L662.5 107.3L662 110.6z"/>
<path fill="#afb8c1" d="M660 115.9L661.3 112.7L660.9 112.9L659.6 116.2z"/>
<path fill="#a6aeb2" d="M656.5 121.2L658.6 118.1L658 118.4L655.9 121.5z"/>
<path fill="#e3d5f9" d="M650.4 74.4L653.4 77.4L654.2 77L651.3 73.9z"/>
<path fill="#c2cbe0" d="M664.2 100.9L662.3 102.2L662.3 102.2L664.3 101.9z"/>
<path fill="#c2cbe0" d="M664.1 100.2L662.4 102.2L662.4 102.3L664.3 101z"/>
<path fill="#c2cadf" d="M664.3 101.7L662.3 102L662.3 102.1L664.1 102.7z"/>
<path fill="#bdc6d8" d="M663.1 107.5L662.9 104.3L662.8 104.4L662.8 107.7z"/>
<path fill="#c7cfe7" d="M663.3 95.6L663 99.3L663.1 99.3L663.6 95.6z"/>
<path fill="#5f605b" d="M485.9 141.5L479.6 139.6L476.9 138.3L483.1 140.1z"/>
<path fill="#ecd3fa" d="M635.7 65.4L640.3 68L641.3 67.4L636.8 64.8z"/>
<path fill="#c2cbe0" d="M664 99.6L662.4 102.2L662.4 102.3L664.2 100.3z"/>
<path fill="#9a9f9e" d="M648.7 128.6L652 125.9L651.2 126.2L647.9 129z"/>
<path fill="#c1cadf" d="M664.2 102.5L662.3 101.9L662.3 102L663.9 103.3z"/>
<path fill="#cbd2ee" d="M662.6 92.7L662.9 96.3L663.1 96.3L663 92.6z"/>
<path fill="#d4d6f4" d="M659.2 84.5L660.7 87.9L661.2 87.7L659.8 84.3z"/>
<path fill="#ced4f0" d="M661.8 89.9L662.4 93.5L662.8 93.4L662.2 89.8z"/>
<path fill="#817f9b" d="M442.8 95.3L440.9 94.9L442.1 87.9L444.1 87.7z"/>
<path fill="#eed0f9" d="M614.9 58.2L621 60.2L622.3 59.4L616.2 57.3z"/>
<path fill="#616577" d="M442.9 109.3L441 108L440.6 100.9L442.5 101.8z"/>
<path fill="#c1cade" d="M664 103.2L662.4 101.9L662.4 101.9L663.7 103.8z"/>
<path fill="#c3cbe1" d="M663.9 99.2L662.4 102.2L662.5 102.3L664.1 99.7z"/>
<path fill="#abb3b9" d="M658.2 118.7L659.9 115.6L659.5 115.8L657.7 119z"/>
<path fill="#b8c1d0" d="M662.1 110.6L662.6 107.3L662.3 107.4L661.8 110.8z"/>
<path fill="#bdc6d7" d="M662.9 107.7L662.8 104.4L662.7 104.5L662.6 107.8z"/>
<path fill="#e0d6f8" d="M653 76.9L655.6 80L656.4 79.7L653.8 76.5z"/>
<path fill="#b3bcc7" d="M661.1 113.4L662 110.1L661.7 110.2L660.7 113.6z"/>
<path fill="#8b8e8a" d="M633.4 137.4L638.2 135.1L637.2 135.6L632.3 137.8z"/>
<path fill="#debee7" d="M494.4 58.7L487.6 59.3L489.9 56.7L496.7 56z"/>
<path fill="#c1cade" d="M663.8 103.8L662.4 101.9L662.4 101.9L663.5 104.2z"/>
<path fill="#c7cfe7" d="M663.1 95.6L662.9 99.3L663 99.3L663.3 95.6z"/>
<path fill="#c3cbe1" d="M663.7 98.9L662.5 102.2L662.5 102.3L663.9 99.2z"/>
<path fill="#9ea4a4" d="M651.5 126.4L654.3 123.5L653.7 123.8L650.7 126.7z"/>
<path fill="#ceb2d9" d="M467.3 68.6L462.6 69.4L465.1 65.4L470 64.5z"/>
<path fill="#ead4fb" d="M639.7 67.7L643.9 70.4L644.9 69.8L640.8 67z"/>
<path fill="#d1d5f2" d="M660.5 87.3L661.6 90.7L662 90.6L661 87.1z"/>
<path fill="#c1cade" d="M663.6 104.2L662.5 101.9L662.5 101.9L663.4 104.5z"/>
<path fill="#bdc6d7" d="M662.7 107.8L662.7 104.5L662.6 104.6L662.4 108z"/>
<path fill="#d8b9e1" d="M480 63.2L474.2 63.9L476.6 60.7L482.5 59.8z"/>
<path fill="#c3cce1" d="M663.5 98.8L662.5 102.2L662.5 102.3L663.7 98.9z"/>
<path fill="#afb8c1" d="M659.6 116.2L661 112.9L660.6 113.1L659.2 116.4z"/>
<path fill="#dcd5f6" d="M655.2 79.5L657.5 82.7L658.2 82.4L656 79.1z"/>
<path fill="#cbd2ee" d="M662.4 92.8L662.7 96.4L662.9 96.3L662.7 92.7z"/>
<path fill="#edcdf6" d="M594.8 54.4L602.1 55.9L603.5 55L596.3 53.4z"/>
<path fill="#c1cade" d="M663.4 104.5L662.5 101.9L662.5 101.9L663.2 104.7z"/>
<path fill="#f7e6dc" d="M612.1 144.3L618.3 142.7L617 143.2L610.6 144.8z"/>
<path fill="#b8c1d0" d="M661.8 110.8L662.4 107.4L662.2 107.5L661.5 110.9z"/>
<path fill="#a2a9ab" d="M653.9 124L656.4 121L655.8 121.3L653.2 124.3z"/>
<path fill="#8e928e" d="M637.6 135.4L642 133.1L641 133.5L636.6 135.9z"/>
<path fill="#c7cfe7" d="M662.9 95.6L662.8 99.3L662.9 99.3L663.1 95.6z"/>
<path fill="#edd1f9" d="M620.4 60L626.2 62.2L627.4 61.4L621.7 59.2z"/>
<path fill="#c3cce1" d="M663.4 98.7L662.5 102.2L662.5 102.3L663.5 98.8z"/>
<path fill="#50555a" d="M451.2 123.4L448.2 121.4L446.1 116.2L449 117.9z"/>
<path fill="#6e7188" d="M442.5 102.5L440.6 101.6L440.9 94.3L442.8 94.6z"/>
<path fill="#ced4f0" d="M661.4 90.1L662.2 93.6L662.5 93.5L661.8 89.9z"/>
<path fill="#c1cade" d="M663.2 104.7L662.5 101.9L662.5 101.9L663.1 104.9z"/>
<path fill="#bdc6d7" d="M662.5 108L662.7 104.6L662.5 104.6L662.3 108.1z"/>
<path fill="#ae9ec0" d="M450.9 81.2L447.9 81.7L450.3 75.9L453.4 75.2z"/>
<path fill="#e8d5fa" d="M643.4 70L647.2 72.8L648.1 72.2L644.4 69.4z"/>
<path fill="#d8d6f5" d="M657.1 82.1L659.1 85.4L659.6 85.1L657.8 81.8z"/>
<path fill="#b3bcc7" d="M660.7 113.6L661.7 110.3L661.4 110.4L660.4 113.8z"/>
<path fill="#c3cce2" d="M663.2 98.6L662.5 102.3L662.5 102.3L663.4 98.7z"/>
<path fill="#c1c9de" d="M663.1 104.9L662.5 101.9L662.5 101.9L662.9 105z"/>
<path fill="#a6aeb2" d="M656 121.6L658.1 118.4L657.6 118.7L655.4 121.8z"/>
<path fill="#c7cfe7" d="M662.7 95.7L662.7 99.3L662.8 99.3L662.9 95.6z"/>
<path fill="#c1c9dd" d="M663 105L662.5 101.9L662.5 101.9L662.8 105.1z"/>
<path fill="#595b58" d="M472.4 136.7L467 134.7L464.3 132.2L469.6 134.2z"/>
<path fill="#c3cce2" d="M663.1 98.6L662.5 102.3L662.5 102.3L663.2 98.6z"/>
<path fill="#cbd2ee" d="M662.1 92.9L662.5 96.5L662.8 96.4L662.4 92.8z"/>
<path fill="#929693" d="M641.4 133.4L645.4 130.9L644.5 131.3L640.4 133.8z"/>
<path fill="#bdc6d7" d="M662.3 108.1L662.6 104.6L662.5 104.7L662.1 108.2z"/>
<path fill="#d4d6f4" d="M658.8 84.8L660.3 88.1L660.8 87.9L659.3 84.5z"/>
<path fill="#9790af" d="M446.2 88.2L443.7 88.3L445.7 81.7L448.3 81.1z"/>
<path fill="#b8c1d0" d="M661.6 110.9L662.2 107.5L662 107.6L661.3 111.1z"/>
<path fill="#c1c9dd" d="M662.8 105.1L662.5 101.9L662.5 101.9L662.7 105.2z"/>
<path fill="#abb3b9" d="M657.7 119L659.5 115.8L659.1 116L657.2 119.3z"/>
<path fill="#e6d5fa" d="M646.7 72.3L650.2 75.2L651 74.7L647.6 71.8z"/>
<path fill="#c3cce2" d="M663 98.6L662.5 102.3L662.5 102.3L663.1 98.6z"/>
<path fill="#555b65" d="M446.4 116.8L444 115.1L442.7 108.7L445 110z"/>
<path fill="#c1c9dd" d="M662.7 105.2L662.5 101.9L662.5 101.9L662.6 105.3z"/>
<path fill="#edd1fa" d="M625.5 61.9L630.9 64.2L632.1 63.5L626.7 61.1z"/>
<path fill="#f9ebe2" d="M617.7 142.9L623.6 141.1L622.3 141.6L616.3 143.4z"/>
<path fill="#d1d5f2" d="M660.1 87.5L661.3 90.9L661.7 90.7L660.6 87.3z"/>
<path fill="#c3cce2" d="M662.9 98.6L662.5 102.3L662.5 102.3L663 98.6z"/>
<path fill="#c7cfe8" d="M662.5 95.8L662.6 99.4L662.8 99.3L662.7 95.7z"/>
<path fill="#afb8c0" d="M659.2 116.4L660.7 113.1L660.3 113.3L658.8 116.6z"/>
<path fill="#bdc6d7" d="M662.1 108.2L662.5 104.7L662.4 104.7L661.9 108.3z"/>
<path fill="#c1c9dd" d="M662.6 105.3L662.6 101.9L662.5 101.9L662.5 105.3z"/>
<path fill="#969a98" d="M644.8 131.3L648.5 128.6L647.7 129L643.9 131.7z"/>
<path fill="#ced4f0" d="M661.1 90.2L662 93.7L662.3 93.6L661.5 90.1z"/>
<path fill="#edcef7" d="M601.4 55.8L608.4 57.5L609.7 56.6L602.9 54.8z"/>
<path fill="#c3cce2" d="M662.7 98.6L662.5 102.3L662.5 102.3L662.9 98.6z"/>
<path fill="#c1c9dd" d="M662.5 105.3L662.6 101.9L662.6 101.9L662.4 105.4z"/>
<path fill="#e3d6f9" d="M649.6 74.8L652.8 77.8L653.5 77.3L650.5 74.3z"/>
<path fill="#b3bcc7" d="M660.4 113.8L661.5 110.4L661.2 110.5L660 113.9z"/>
<path fill="#535757" d="M460.7 130.7L456.5 128.7L453.9 124.8L458 126.6z"/>
<path fill="#cbd2ee" d="M661.8 93L662.4 96.5L662.6 96.4L662.1 92.9z"/>
<path fill="#c3cce2" d="M662.7 98.7L662.5 102.3L662.5 102.3L662.8 98.6z"/>
<path fill="#c1c9dd" d="M662.4 105.4L662.6 101.9L662.6 101.9L662.3 105.4z"/>
<path fill="#b8c1d0" d="M661.3 111.1L662.1 107.6L661.9 107.7L661 111.2z"/>
<path fill="#c7cfe8" d="M662.3 95.8L662.6 99.4L662.7 99.4L662.5 95.8z"/>
<path fill="#bdc6d7" d="M662 108.3L662.4 104.7L662.3 104.8L661.8 108.4z"/>
<path fill="#c3cce2" d="M662.6 98.7L662.5 102.3L662.5 102.3L662.7 98.7z"/>
<path fill="#c1c9dd" d="M662.4 105.4L662.6 101.9L662.6 101.9L662.2 105.5z"/>
<path fill="#9a9f9e" d="M648 129.1L651.3 126.3L650.5 126.6L647.1 129.4z"/>
<path fill="#e0d6f7" d="M652.3 77.3L655 80.4L655.7 79.9L653.1 76.8z"/>
<path fill="#f2dfd5" d="M591.5 147.9L598.9 147L597.3 147.4L589.8 148.4z"/>
<path fill="#ecd2fa" d="M630.3 63.9L635.3 66.3L636.4 65.6L631.5 63.2z"/>
<path fill="#c3cce2" d="M662.5 98.8L662.5 102.3L662.6 102.3L662.6 98.7z"/>
<path fill="#c1c9dd" d="M662.3 105.5L662.6 101.9L662.6 101.9L662.2 105.5z"/>
<path fill="#fbf1e8" d="M622.9 141.4L628.5 139.4L627.2 139.9L621.6 141.8z"/>
<path fill="#c3cce2" d="M662.4 98.8L662.6 102.3L662.6 102.3L662.5 98.8z"/>
<path fill="#61635d" d="M492 143.1L485.2 141.4L482.5 139.9L489.2 141.6z"/>
<path fill="#dcd6f6" d="M654.6 79.8L657 83L657.6 82.6L655.3 79.4z"/>
<path fill="#c1c9dd" d="M662.2 105.5L662.6 101.9L662.6 101.9L662 105.5z"/>
<path fill="#9ea4a4" d="M650.8 126.7L653.7 123.8L653 124.1L650 127z"/>
<path fill="#c7cfe8" d="M662.2 95.9L662.5 99.5L662.6 99.4L662.4 95.8z"/>
<path fill="#bdc6d7" d="M661.8 108.4L662.4 104.8L662.2 104.8L661.6 108.4z"/>
<path fill="#c3cce2" d="M662.3 98.9L662.6 102.3L662.6 102.3L662.4 98.8z"/>
<path fill="#c1c9dd" d="M662.1 105.5L662.6 101.9L662.6 101.9L661.9 105.6z"/>
<path fill="#d8d6f5" d="M656.6 82.4L658.6 85.7L659.2 85.3L657.2 82z"/>
<path fill="#ccd3ee" d="M661.6 93.2L662.2 96.6L662.4 96.5L661.9 93z"/>
<path fill="#a2a9ab" d="M653.2 124.3L655.8 121.3L655.2 121.5L652.5 124.6z"/>
<path fill="#c3cce2" d="M662.2 99L662.6 102.3L662.6 102.3L662.3 98.9z"/>
<path fill="#b8c1d0" d="M661.1 111.2L661.9 107.7L661.7 107.8L660.8 111.3z"/>
<path fill="#d4d6f4" d="M658.3 85L659.9 88.4L660.4 88.1L658.9 84.7z"/>
<path fill="#cfd4f0" d="M660.8 90.4L661.7 93.8L662 93.7L661.2 90.2z"/>
<path fill="#d2d5f2" d="M659.7 87.7L661 91.1L661.4 90.9L660.2 87.5z"/>
<path fill="#c1cadd" d="M662 105.6L662.6 101.9L662.6 101.9L661.8 105.6z"/>
<path fill="#a6aeb2" d="M655.4 121.8L657.6 118.7L657.1 118.9L654.8 122.1z"/>
<path fill="#edcff8" d="M607.7 57.3L614.3 59.2L615.6 58.3L609.1 56.3z"/>
<path fill="#ebd3fa" d="M634.7 66L639.3 68.6L640.4 67.9L635.8 65.3z"/>
<path fill="#b4bcc7" d="M660.1 114L661.3 110.5L661 110.6L659.7 114.1z"/>
<path fill="#c3cce2" d="M662.1 99L662.6 102.3L662.6 102.3L662.2 99z"/>
<path fill="#c3abd1" d="M460.3 74.2L456.2 74.8L458.9 69.9L463.1 69z"/>
<path fill="#c7cfe8" d="M662 96L662.4 99.5L662.5 99.5L662.2 95.9z"/>
<path fill="#abb3b9" d="M657.3 119.3L659.1 116L658.7 116.2L656.7 119.5z"/>
<path fill="#afb8c1" d="M658.8 116.7L660.3 113.3L659.9 113.4L658.3 116.8z"/>
<path fill="#bdc6d7" d="M661.6 108.4L662.3 104.8L662.2 104.9L661.4 108.5z"/>
<path fill="#888b86" d="M627.8 139.7L633 137.6L631.8 138L626.6 140.1z"/>
<path fill="#c1cadd" d="M661.8 105.6L662.6 101.9L662.6 101.9L661.7 105.5z"/>
<path fill="#c3cce2" d="M662 99.1L662.6 102.3L662.6 102.3L662.1 99z"/>
<path fill="#c3cce2" d="M661.8 99.3L662.6 102.3L662.6 102.3L662 99.1z"/>
<path fill="#c1cade" d="M661.7 105.6L662.6 101.9L662.6 101.9L661.5 105.5z"/>
<path fill="#c7cfe8" d="M661.8 96.2L662.3 99.6L662.5 99.5L662 96z"/>
<path fill="#ccd3ee" d="M661.3 93.3L662.1 96.7L662.3 96.6L661.6 93.1z"/>
<path fill="#ead4fa" d="M638.8 68.2L643 70.9L644 70.2L639.8 67.5z"/>
<path fill="#f4e1d7" d="M598.2 147.1L605.3 145.9L603.7 146.3L596.6 147.5z"/>
<path fill="#c3cce2" d="M661.7 99.5L662.6 102.3L662.6 102.3L661.8 99.3z"/>
<path fill="#dabbe3" d="M485.6 62.5L479.4 63.1L481.9 59.8L488.2 59z"/>
<path fill="#b8c1d0" d="M660.8 111.3L661.8 107.8L661.5 107.8L660.5 111.4z"/>
<path fill="#bdc6d7" d="M661.4 108.5L662.2 104.9L662.1 104.9L661.2 108.5z"/>
<path fill="#c1cade" d="M661.6 105.5L662.6 101.9L662.6 101.9L661.4 105.4z"/>
<path fill="#d1b5dc" d="M472 67.9L466.8 68.5L469.5 64.4L474.8 63.6z"/>
<path fill="#8b8e8a" d="M632.4 137.9L637.2 135.6L636.1 136L631.2 138.3z"/>
<path fill="#c3cce1" d="M661.5 99.7L662.6 102.3L662.6 102.3L661.7 99.4z"/>
<path fill="#cfd4f0" d="M660.4 90.6L661.5 94L661.8 93.8L660.8 90.4z"/>
<path fill="#e8d5fa" d="M642.5 70.5L646.4 73.3L647.3 72.7L643.5 69.8z"/>
<path fill="#c7cfe7" d="M661.6 96.3L662.3 99.6L662.4 99.6L661.8 96.2z"/>
<path fill="#edd0f9" d="M613.6 59L619.8 61L621.1 60.1L615 58z"/>
<path fill="#c1cade" d="M661.4 105.4L662.6 101.9L662.6 101.9L661.2 105.2z"/>
<path fill="#c3cce1" d="M661.3 100L662.6 102.3L662.7 102.3L661.5 99.7z"/>
<path fill="#b4bdc8" d="M659.7 114.1L661 110.6L660.7 110.7L659.3 114.2z"/>
<path fill="#d2d5f2" d="M659.3 88L660.7 91.3L661.1 91L659.8 87.7z"/>
<path fill="#ccd3ee" d="M661.1 93.5L661.9 96.8L662.1 96.7L661.4 93.3z"/>
<path fill="#bdc6d7" d="M661.2 108.5L662.1 104.9L662 104.9L661 108.5z"/>
<path fill="#8e928e" d="M636.6 135.9L641 133.5L640 133.8L635.5 136.3z"/>
<path fill="#e6d5fa" d="M645.8 72.8L649.4 75.7L650.3 75.1L646.8 72.2z"/>
<path fill="#c1cade" d="M661.2 105.2L662.6 101.9L662.6 101.9L661 104.9z"/>
<path fill="#c3cce1" d="M661.1 100.4L662.7 102.3L662.7 102.3L661.4 99.9z"/>
<path fill="#d4d6f4" d="M657.8 85.3L659.6 88.6L660 88.3L658.4 85z"/>
<path fill="#c7cfe7" d="M661.4 96.5L662.2 99.7L662.3 99.6L661.7 96.3z"/>
<path fill="#afb8c1" d="M658.4 116.8L660 113.5L659.6 113.6L657.9 116.9z"/>
<path fill="#e3d6f9" d="M648.9 75.2L652.1 78.2L652.9 77.7L649.8 74.7z"/>
<path fill="#b9c2d0" d="M660.5 111.4L661.6 107.8L661.4 107.9L660.2 111.4z"/>
<path fill="#d8d6f5" d="M656 82.8L658.1 85.9L658.7 85.6L656.7 82.3z"/>
<path fill="#e0d6f7" d="M651.6 77.7L654.4 80.7L655.1 80.3L652.4 77.2z"/>
<path fill="#929693" d="M640.4 133.9L644.5 131.3L643.6 131.6L639.4 134.2z"/>
<path fill="#c1cade" d="M661 104.9L662.7 101.9L662.6 101.9L660.8 104.5z"/>
<path fill="#c3cbe1" d="M660.9 100.9L662.7 102.3L662.7 102.2L661.2 100.3z"/>
<path fill="#dcd6f6" d="M654 80.2L656.4 83.3L657.1 82.9L654.7 79.7z"/>
<path fill="#5b5e5a" d="M477.5 138.5L471.7 136.7L468.9 134.1L474.6 135.9z"/>
<path fill="#85839e" d="M444.9 95.6L442.6 95.3L443.9 87.7L446.3 87.5z"/>
<path fill="#f5e3d9" d="M604.6 146L611.3 144.6L609.8 145L603 146.4z"/>
<path fill="#636778" d="M445 110.7L442.7 109.3L442.3 101.8L444.6 102.7z"/>
<path fill="#abb3b9" d="M656.8 119.5L658.7 116.2L658.2 116.3L656.2 119.6z"/>
<path fill="#edd1f9" d="M619.1 60.7L625 62.9L626.2 62L620.4 59.8z"/>
<path fill="#bdc6d8" d="M661 108.6L662 104.9L661.9 104.9L660.7 108.5z"/>
<path fill="#c3cbe0" d="M660.7 101.6L662.8 102.2L662.8 102.2L661 100.8z"/>
<path fill="#c2cadf" d="M660.9 104.5L662.7 101.9L662.7 101.9L660.7 103.9z"/>
<path fill="#969a98" d="M644 131.7L647.7 129L646.8 129.3L643 132z"/>
<path fill="#cfd4f0" d="M660.1 90.9L661.3 94.2L661.6 94L660.5 90.6z"/>
<path fill="#c7cfe7" d="M661.2 96.7L662.1 99.8L662.2 99.7L661.5 96.5z"/>
<path fill="#a6aeb2" d="M654.8 122.1L657.1 118.9L656.6 119.1L654.2 122.3z"/>
<path fill="#ccd3ee" d="M660.8 93.7L661.8 97L662 96.8L661.1 93.5z"/>
<path fill="#c2cbe0" d="M660.7 102.4L662.8 102.1L662.8 102.1L660.8 101.5z"/>
<path fill="#c2cbdf" d="M660.8 103.9L662.7 102L662.7 101.9L660.6 103.1z"/>
<path fill="#9a9f9e" d="M647.2 129.4L650.5 126.6L649.7 126.8L646.3 129.7z"/>
<path fill="#52575b" d="M454.4 125.3L450.9 123.4L448.7 118L452.1 119.6z"/>
<path fill="#a2a9ab" d="M652.6 124.6L655.3 121.6L654.6 121.7L651.8 124.8z"/>
<path fill="#c2cbe0" d="M660.7 103.2L662.8 102L662.8 102L660.6 102.3z"/>
<path fill="#9ea4a5" d="M650 127.1L653.1 124.1L652.3 124.3L649.2 127.3z"/>
<path fill="#b4a2c5" d="M454.1 80.8L450.6 81.2L453.1 75.1L456.7 74.4z"/>
<path fill="#b4bdc8" d="M659.4 114.2L660.8 110.7L660.4 110.8L658.9 114.3z"/>
<path fill="#edcdf6" d="M593.3 55.4L600.6 56.9L602.1 55.8L594.8 54.3z"/>
<path fill="#b9c2d0" d="M660.2 111.5L661.4 107.9L661.2 107.9L659.9 111.4z"/>
<path fill="#d2d5f2" d="M658.8 88.2L660.4 91.5L660.8 91.2L659.4 87.9z"/>
<path fill="#c7cfe7" d="M661 96.9L662 100L662.2 99.8L661.3 96.7z"/>
<path fill="#edd1fa" d="M624.3 62.6L629.8 64.9L631 64.1L625.6 61.7z"/>
<path fill="#bec7d8" d="M660.7 108.5L661.9 104.9L661.7 104.8L660.4 108.4z"/>
<path fill="#80827b" d="M610.6 144.8L617 143.2L615.5 143.5L609.1 145.2z"/>
<path fill="#cbd3ed" d="M660.5 93.9L661.6 97.1L661.8 97L660.9 93.7z"/>
<path fill="#565958" d="M464.9 132.6L460.2 130.7L457.5 126.7L462.1 128.4z"/>
<path fill="#71748a" d="M444.6 103.3L442.3 102.5L442.7 94.6L445 94.9z"/>
<path fill="#cfd4f0" d="M659.8 91.1L661 94.4L661.4 94.1L660.2 90.8z"/>
<path fill="#d4d6f4" d="M657.3 85.7L659.2 88.9L659.7 88.5L657.9 85.3z"/>
<path fill="#b0b8c1" d="M658 117L659.7 113.6L659.2 113.6L657.4 117z"/>
<path fill="#9d95b3" d="M448.8 88.1L445.9 88.2L448 81.1L451 80.6z"/>
<path fill="#ecd2fa" d="M629.2 64.6L634.3 67L635.4 66.2L630.4 63.8z"/>
<path fill="#c7cfe7" d="M660.7 97.3L661.9 100.1L662.1 99.9L661 96.9z"/>
<path fill="#575d66" d="M449.1 118.5L446.2 116.9L444.8 110L447.6 111.3z"/>
<path fill="#bec7d8" d="M660.5 108.4L661.8 104.8L661.6 104.7L660.1 108.2z"/>
<path fill="#82847e" d="M616.3 143.4L622.3 141.6L620.9 141.9L614.8 143.7z"/>
<path fill="#d8d6f5" d="M655.5 83.1L657.7 86.3L658.3 85.9L656.1 82.7z"/>
<path fill="#b9c2d1" d="M659.9 111.5L661.2 107.9L660.9 107.9L659.5 111.4z"/>
<path fill="#ebd3fa" d="M633.6 66.7L638.4 69.2L639.4 68.4L634.8 65.9z"/>
<path fill="#edcef7" d="M599.9 56.8L606.9 58.5L608.4 57.4L601.5 55.6z"/>
<path fill="#b4bdc8" d="M659 114.3L660.5 110.8L660.1 110.8L658.5 114.3z"/>
<path fill="#abb3ba" d="M656.2 119.7L658.3 116.4L657.8 116.4L655.6 119.8z"/>
<path fill="#cbd3ed" d="M660.2 94.2L661.4 97.3L661.7 97.1L660.6 93.9z"/>
<path fill="#dcd6f6" d="M653.3 80.6L655.9 83.7L656.6 83.2L654.1 80.1z"/>
<path fill="#c7cfe6" d="M660.4 97.7L661.8 100.3L662 100.1L660.8 97.2z"/>
<path fill="#dcbde5" d="M491.8 61.9L485 62.4L487.6 59L494.4 58.4z"/>
<path fill="#d2d5f2" d="M658.4 88.6L660 91.8L660.5 91.5L658.9 88.2z"/>
<path fill="#ead4fa" d="M637.8 68.9L642.1 71.5L643.1 70.7L638.9 68.1z"/>
<path fill="#c8afd4" d="M464.5 73.5L460 74.1L462.7 68.9L467.4 68.1z"/>
<path fill="#e0d6f7" d="M650.9 78.2L653.8 81.2L654.5 80.6L651.7 77.6z"/>
<path fill="#858782" d="M621.6 141.8L627.2 139.9L625.9 140.2L620.2 142.1z"/>
<path fill="#e8d5fa" d="M641.6 71.1L645.5 73.8L646.5 73.1L642.6 70.4z"/>
<path fill="#ced4f0" d="M659.4 91.5L660.8 94.6L661.1 94.3L659.8 91.1z"/>
<path fill="#e3d6f9" d="M648.1 75.8L651.4 78.7L652.2 78.1L649 75.1z"/>
<path fill="#e6d5fa" d="M645 73.4L648.6 76.2L649.5 75.6L646 72.7z"/>
<path fill="#a7aeb3" d="M654.2 122.3L656.6 119.1L656 119.2L653.5 122.4z"/>
<path fill="#bec7d9" d="M660.2 108.2L661.7 104.8L661.5 104.6L659.8 107.9z"/>
<path fill="#d4b7df" d="M477.2 67.2L471.5 67.7L474.3 63.5L480 62.8z"/>
<path fill="#c6cee6" d="M660.1 98.3L661.7 100.6L661.9 100.3L660.5 97.6z"/>
<path fill="#888b85" d="M626.6 140.1L631.8 138L630.6 138.3L625.2 140.4z"/>
<path fill="#cbd2ed" d="M659.9 94.6L661.2 97.6L661.5 97.3L660.3 94.2z"/>
<path fill="#edcff8" d="M606.3 58.3L612.9 60.1L614.3 59L607.7 57.2z"/>
<path fill="#a2a9ac" d="M651.9 124.9L654.7 121.8L653.9 121.9L651.1 125z"/>
<path fill="#d4d6f4" d="M656.8 86.1L658.8 89.2L659.3 88.8L657.4 85.6z"/>
<path fill="#bac3d1" d="M659.6 111.4L661 107.9L660.7 107.8L659.1 111.3z"/>
<path fill="#b0b9c1" d="M657.5 117.1L659.3 113.7L658.8 113.7L656.9 117.1z"/>
<path fill="#8b8e8a" d="M631.2 138.3L636.1 136L634.9 136.2L629.9 138.5z"/>
<path fill="#9ea4a5" d="M649.3 127.3L652.4 124.4L651.6 124.5L648.4 127.5z"/>
<path fill="#5e605b" d="M483.1 140.2L476.9 138.5L474 135.8L480.1 137.5z"/>
<path fill="#b4bdc9" d="M658.6 114.3L660.2 110.8L659.8 110.8L658 114.2z"/>
<path fill="#bfc8da" d="M659.9 107.9L661.5 104.6L661.3 104.3L659.5 107.3z"/>
<path fill="#9a9f9e" d="M646.3 129.7L649.8 126.9L648.9 127L645.3 129.9z"/>
<path fill="#8f928e" d="M635.5 136.3L640 133.9L638.9 134.1L634.3 136.5z"/>
<path fill="#ced4f0" d="M659 91.9L660.5 94.9L660.9 94.6L659.5 91.4z"/>
<path fill="#c6cee5" d="M659.7 99L661.5 100.9L661.8 100.5L660.2 98.2z"/>
<path fill="#d2d5f2" d="M658 89L659.7 92.1L660.1 91.7L658.5 88.5z"/>
<path fill="#969b99" d="M643 132L646.9 129.3L645.9 129.5L642 132.2z"/>
<path fill="#929693" d="M639.4 134.2L643.6 131.6L642.6 131.8L638.3 134.4z"/>
<path fill="#797a73" d="M589.8 148.4L597.3 147.4L595.4 147.6L587.9 148.6z"/>
<path fill="#d7d6f5" d="M654.9 83.6L657.2 86.6L657.8 86.2L655.6 83.1z"/>
<path fill="#edd0f8" d="M612.2 59.9L618.5 61.9L619.8 60.8L613.7 58.8z"/>
<path fill="#cbd2ed" d="M659.5 95.1L661 97.9L661.3 97.5L660 94.6z"/>
<path fill="#acb4ba" d="M655.7 119.8L657.8 116.5L657.2 116.5L655 119.8z"/>
<path fill="#dcd6f6" d="M652.7 81.2L655.3 84.1L656 83.6L653.5 80.5z"/>
<path fill="#bac3d2" d="M659.2 111.3L660.8 107.8L660.4 107.6L658.7 111z"/>
<path fill="#c0c9db" d="M659.6 107.4L661.4 104.4L661.2 103.9L659.2 106.5z"/>
<path fill="#c5cee4" d="M659.4 100.1L661.4 101.4L661.7 100.8L659.9 98.9z"/>
<path fill="#edd1f9" d="M617.9 61.7L623.7 63.8L625 62.8L619.2 60.6z"/>
<path fill="#d4d6f4" d="M656.3 86.6L658.3 89.6L658.9 89.1L656.9 86z"/>
<path fill="#545a5c" d="M458 127.2L454.1 125.4L451.8 119.6L455.6 121.2z"/>
<path fill="#e0d6f7" d="M650.1 78.7L653.1 81.7L653.9 81L651 78.1z"/>
<path fill="#7b7c76" d="M596.6 147.5L603.7 146.3L601.9 146.5L594.7 147.7z"/>
<path fill="#ced4f0" d="M658.5 92.4L660.2 95.3L660.6 94.8L659.1 91.8z"/>
<path fill="#b0b9c2" d="M657 117.1L658.9 113.7L658.4 113.6L656.3 117z"/>
<path fill="#a7afb3" d="M653.6 122.5L656.1 119.2L655.4 119.2L652.8 122.4z"/>
<path fill="#b9a6c9" d="M457.7 80.3L453.8 80.7L456.4 74.3L460.5 73.6z"/>
<path fill="#edd2f9" d="M623.1 63.5L628.6 65.8L629.9 64.8L624.4 62.5z"/>
<path fill="#cbd2ec" d="M659.1 95.8L660.7 98.3L661.1 97.8L659.6 95.1z"/>
<path fill="#b5bec9" d="M658.1 114.3L659.9 110.8L659.4 110.6L657.5 114z"/>
<path fill="#8a88a2" d="M447.5 96L444.7 95.6L446.1 87.5L448.9 87.4z"/>
<path fill="#585c59" d="M469.5 134.5L464.4 132.7L461.6 128.5L466.6 130.1z"/>
<path fill="#c5cde3" d="M659.1 101.3L661.3 101.9L661.6 101.1L659.5 99.8z"/>
<path fill="#c1cadd" d="M659.3 106.5L661.4 104L661.2 103.4L658.9 105.3z"/>
<path fill="#d1d5f2" d="M657.5 89.5L659.3 92.5L659.8 92L658.1 88.9z"/>
<path fill="#656a79" d="M447.6 112L444.8 110.7L444.4 102.7L447.1 103.5z"/>
<path fill="#e3d6f9" d="M647.3 76.4L650.6 79.2L651.5 78.5L648.2 75.6z"/>
<path fill="#ecd2fa" d="M628 65.5L633.2 67.8L634.3 66.9L629.2 64.5z"/>
<path fill="#e6d5f9" d="M644.1 74.1L647.8 76.8L648.7 76.1L645.1 73.3z"/>
<path fill="#c4cce1" d="M659 102.7L661.3 102.5L661.4 101.6L659.2 101z"/>
<path fill="#c2cbde" d="M659.1 105.4L661.3 103.6L661.2 102.7L658.9 103.9z"/>
<path fill="#ebd3fa" d="M632.5 67.5L637.3 70L638.4 69.1L633.7 66.6z"/>
<path fill="#e8d5fa" d="M640.6 71.8L644.7 74.5L645.6 73.7L641.7 71z"/>
<path fill="#a3aaac" d="M651.2 125L654 121.9L653.2 121.9L650.3 125z"/>
<path fill="#ead4fa" d="M636.7 69.6L641.2 72.2L642.2 71.3L637.9 68.7z"/>
<path fill="#c3cbe0" d="M659 104.1L661.3 103L661.3 102.1L659 102.4z"/>
<path fill="#d7d6f5" d="M654.3 84.1L656.7 87.1L657.3 86.6L655 83.5z"/>
<path fill="#7d7f78" d="M603 146.4L609.8 145L608.1 145.2L601.2 146.6z"/>
<path fill="#bbc4d3" d="M658.7 111L660.5 107.6L660.1 107.3L658.2 110.5z"/>
<path fill="#eccdf6" d="M591.6 56.6L599 58.2L600.6 56.8L593.3 55.3z"/>
<path fill="#a399b8" d="M451.9 88L448.6 88L450.8 80.6L454.2 80.1z"/>
<path fill="#cad2eb" d="M658.6 96.6L660.5 98.8L660.9 98.2L659.2 95.7z"/>
<path fill="#d7bae1" d="M482.8 66.6L476.7 67.1L479.5 62.7L485.7 62.1z"/>
<path fill="#acb4bb" d="M655.1 119.8L657.3 116.5L656.7 116.4L654.3 119.7z"/>
<path fill="#ced4ef" d="M658 93L659.8 95.7L660.3 95.2L658.7 92.3z"/>
<path fill="#cbb2d7" d="M469.1 73L464.1 73.4L467 68L472.1 67.4z"/>
<path fill="#9ea5a5" d="M648.4 127.5L651.6 124.5L650.8 124.5L647.5 127.5z"/>
<path fill="#75788d" d="M447.1 104.2L444.4 103.3L444.8 94.9L447.6 95.3z"/>
<path fill="#595f67" d="M452.1 120.2L448.8 118.6L447.3 111.3L450.6 112.6z"/>
<path fill="#80827b" d="M609.1 145.2L615.5 143.6L613.9 143.7L607.4 145.3z"/>
<path fill="#d4d6f3" d="M655.7 87.1L657.8 90.1L658.4 89.5L656.4 86.5z"/>
<path fill="#dbd6f5" d="M652 81.8L654.7 84.7L655.4 84L652.8 81z"/>
<path fill="#d1d5f2" d="M656.9 90.1L658.9 92.9L659.4 92.4L657.6 89.4z"/>
<path fill="#60625d" d="M489.2 141.7L482.5 140.2L479.5 137.4L486.1 138.9z"/>
<path fill="#b6bfcb" d="M657.6 114.1L659.5 110.7L659 110.4L656.9 113.7z"/>
<path fill="#9aa09f" d="M645.4 130L649 127.1L648 127.1L644.3 130z"/>
<path fill="#edcef7" d="M598.4 58L605.4 59.7L607 58.3L600 56.6z"/>
<path fill="#b1bac3" d="M656.4 117.1L658.5 113.7L657.9 113.4L655.7 116.8z"/>
<path fill="#82847e" d="M614.8 143.8L620.9 142L619.3 142.1L613.2 143.9z"/>
<path fill="#bcc5d5" d="M658.3 110.5L660.2 107.3L659.8 106.7L657.7 109.6z"/>
<path fill="#969b99" d="M642 132.3L645.9 129.5L644.9 129.5L640.9 132.3z"/>
<path fill="#dfd6f7" d="M649.4 79.4L652.4 82.3L653.3 81.5L650.3 78.6z"/>
<path fill="#c9d1ea" d="M658.1 97.7L660.2 99.5L660.6 98.7L658.8 96.5z"/>
<path fill="#858882" d="M620.2 142.2L625.9 140.2L624.4 140.3L618.7 142.3z"/>
<path fill="#a8b0b4" d="M652.9 122.5L655.5 119.3L654.7 119.2L652 122.4z"/>
<path fill="#929793" d="M638.4 134.5L642.6 131.9L641.5 131.9L637.1 134.5z"/>
<path fill="#888b86" d="M625.3 140.5L630.6 138.3L629.2 138.4L623.8 140.5z"/>
<path fill="#ced4ef" d="M657.5 93.8L659.5 96.3L660 95.6L658.2 92.9z"/>
<path fill="#edcff7" d="M604.8 59.5L611.4 61.3L612.9 60L606.3 58.1z"/>
<path fill="#8f928e" d="M634.3 136.6L638.9 134.1L637.7 134.2L633 136.7z"/>
<path fill="#8b8f8a" d="M630 138.6L634.9 136.3L633.6 136.3L628.6 138.7z"/>
<path fill="#d7d6f5" d="M653.6 84.8L656.1 87.7L656.8 87L654.4 84z"/>
<path fill="#e3d6f8" d="M646.4 77.1L649.9 79.9L650.8 79.1L647.4 76.3z"/>
<path fill="#edd0f8" d="M610.8 61.1L617.1 63L618.5 61.7L612.3 59.8z"/>
<path fill="#d4d6f3" d="M655 87.9L657.3 90.7L658 89.9L655.8 87z"/>
<path fill="#d1d5f1" d="M656.3 90.9L658.4 93.6L659 92.8L657.1 90z"/>
<path fill="#e6d5f9" d="M643.2 74.9L647 77.6L647.9 76.7L644.2 73.9z"/>
<path fill="#a3abad" d="M650.4 125.1L653.3 122L652.4 121.8L649.4 124.9z"/>
<path fill="#bec7d8" d="M657.8 109.7L660 106.8L659.6 105.9L657.3 108.4z"/>
<path fill="#c8d0e8" d="M657.7 99.2L659.9 100.4L660.4 99.3L658.3 97.5z"/>
<path fill="#adb5bc" d="M654.4 119.8L656.8 116.5L656 116.2L653.5 119.4z"/>
<path fill="#b7c0cd" d="M657 113.7L659.1 110.4L658.5 109.9L656.3 113z"/>
<path fill="#5b5e5b" d="M474.6 136.2L469 134.5L466.1 130.2L471.6 131.7z"/>
<path fill="#edd1f9" d="M616.5 62.8L622.4 64.8L623.8 63.6L617.9 61.5z"/>
<path fill="#e8d5fa" d="M639.6 72.7L643.7 75.3L644.8 74.3L640.7 71.7z"/>
<path fill="#dbd6f5" d="M651.2 82.5L654.1 85.3L654.8 84.5L652.1 81.6z"/>
<path fill="#575c5d" d="M462.1 128.9L457.7 127.2L455.3 121.2L459.6 122.7z"/>
<path fill="#b2bbc4" d="M655.8 116.8L658 113.5L657.3 113.1L654.9 116.3z"/>
<path fill="#beaacd" d="M461.7 79.9L457.4 80.2L460.1 73.5L464.6 73z"/>
<path fill="#ecd2f9" d="M621.8 64.6L627.4 66.8L628.7 65.6L623.2 63.4z"/>
<path fill="#ead4fa" d="M635.6 70.5L640.2 73L641.3 72L636.8 69.5z"/>
<path fill="#cdd4ee" d="M656.9 94.9L659.1 97.1L659.6 96.2L657.7 93.7z"/>
<path fill="#ecd3fa" d="M626.8 66.5L632 68.8L633.2 67.7L628.1 65.3z"/>
<path fill="#ebd3fa" d="M631.4 68.5L636.2 70.9L637.4 69.8L632.6 67.3z"/>
<path fill="#d9bce3" d="M488.9 66.2L482.3 66.5L485.1 62L491.8 61.5z"/>
<path fill="#9fa6a6" d="M647.5 127.6L650.8 124.6L649.9 124.4L646.5 127.4z"/>
<path fill="#c7cfe6" d="M657.3 101L659.7 101.5L660.1 100L657.8 98.9z"/>
<path fill="#c0c9da" d="M657.4 108.5L659.8 106.1L659.5 104.9L657 106.6z"/>
<path fill="#8e8ca6" d="M450.5 96.3L447.3 95.9L448.7 87.4L452 87.3z"/>
<path fill="#dfd6f7" d="M648.5 80.3L651.7 83L652.6 82.1L649.5 79.3z"/>
<path fill="#d7d7f4" d="M652.9 85.7L655.5 88.4L656.2 87.5L653.7 84.7z"/>
<path fill="#686d7b" d="M450.6 113.3L447.4 112L446.9 103.5L450.1 104.3z"/>
<path fill="#cfb5da" d="M474.2 72.5L468.7 72.8L471.7 67.3L477.3 66.7z"/>
<path fill="#787a73" d="M587.9 148.6L595.4 147.6L593.4 147.4L585.8 148.4z"/>
<path fill="#d1d5f1" d="M655.7 91.9L657.9 94.3L658.6 93.4L656.5 90.8z"/>
<path fill="#a9b1b5" d="M652.1 122.4L654.8 119.2L654 118.9L651.1 122.1z"/>
<path fill="#9ba1a0" d="M644.4 130L648.1 127.2L647 127L643.2 129.9z"/>
<path fill="#d4d6f3" d="M654.3 88.8L656.8 91.4L657.5 90.5L655.2 87.7z"/>
<path fill="#c5cde3" d="M657.1 103L659.6 102.8L659.8 101.1L657.4 100.6z"/>
<path fill="#c2cadd" d="M657.2 106.9L659.6 105.2L659.4 103.6L656.9 104.6z"/>
<path fill="#a89ebc" d="M455.4 87.9L451.6 87.9L453.9 80.1L457.8 79.7z"/>
<path fill="#b9c2d0" d="M656.5 113.1L658.7 110L658.1 109.1L655.7 111.9z"/>
<path fill="#c3cce0" d="M657 105L659.5 104L659.5 102.3L657.1 102.5z"/>
<path fill="#5c6268" d="M455.7 121.8L451.9 120.2L450.3 112.6L454 113.8z"/>
<path fill="#e2d6f8" d="M645.5 78.1L649 80.7L650 79.7L646.6 77z"/>
<path fill="#cdd4ee" d="M656.3 96.4L658.6 98.1L659.3 96.9L657.1 94.7z"/>
<path fill="#eccdf6" d="M589.9 58.2L597.4 59.7L599.1 58L591.7 56.5z"/>
<path fill="#7b7c76" d="M594.7 147.7L601.9 146.5L600 146.3L592.7 147.6z"/>
<path fill="#979c9a" d="M641 132.4L645 129.6L643.8 129.4L639.7 132.2z"/>
<path fill="#797c90" d="M450.1 105L446.9 104.2L447.3 95.3L450.6 95.7z"/>
<path fill="#aeb7be" d="M653.6 119.5L656.2 116.3L655.4 115.8L652.7 118.9z"/>
<path fill="#dbd6f5" d="M650.4 83.5L653.3 86.1L654.2 85.2L651.4 82.4z"/>
<path fill="#b4bdc6" d="M655.1 116.4L657.4 113.2L656.7 112.5L654.2 115.5z"/>
<path fill="#e5d6f9" d="M642.2 75.9L646 78.5L647.1 77.4L643.3 74.7z"/>
<path fill="#a4acae" d="M649.5 125L652.5 121.9L651.6 121.5L648.4 124.6z"/>
<path fill="#939794" d="M637.2 134.6L641.5 132L640.3 131.8L635.8 134.4z"/>
<path fill="#7d7f78" d="M601.3 146.6L608.1 145.2L606.2 145L599.3 146.5z"/>
<path fill="#eccef6" d="M596.7 59.5L603.8 61.1L605.5 59.5L598.4 57.8z"/>
<path fill="#d0d5f0" d="M655 93.3L657.4 95.4L658.1 94.1L655.9 91.7z"/>
<path fill="#8f938f" d="M633.1 136.7L637.8 134.3L636.4 134.1L631.6 136.5z"/>
<path fill="#80827b" d="M607.4 145.4L613.9 143.7L612.1 143.6L605.5 145.2z"/>
<path fill="#e8d5f9" d="M638.5 73.8L642.7 76.2L643.8 75.1L639.7 72.5z"/>
<path fill="#5d615d" d="M480.1 137.8L474 136.2L471 131.8L477 133.2z"/>
<path fill="#d6d7f4" d="M652.1 86.7L654.8 89.3L655.7 88.2L653 85.5z"/>
<path fill="#8c8f8a" d="M628.6 138.7L633.7 136.4L632.2 136.2L627.1 138.5z"/>
<path fill="#bcc5d3" d="M655.9 112.1L658.3 109.3L657.7 107.9L655.1 110.2z"/>
<path fill="#cbd3ec" d="M655.7 98.3L658.2 99.5L658.8 97.8L656.5 96.1z"/>
<path fill="#83857f" d="M613.2 143.9L619.3 142.1L617.6 141.9L611.4 143.8z"/>
<path fill="#d3d6f2" d="M653.6 90L656.1 92.4L656.9 91.2L654.5 88.6z"/>
<path fill="#eccff7" d="M603.2 60.9L609.9 62.7L611.5 61.1L604.8 59.3z"/>
<path fill="#898b86" d="M623.8 140.6L629.2 138.4L627.7 138.3L622.2 140.4z"/>
<path fill="#ded6f6" d="M647.6 81.3L650.9 83.9L651.8 82.8L648.7 80.1z"/>
<path fill="#858882" d="M618.7 142.4L624.5 140.4L622.8 140.2L617 142.2z"/>
<path fill="#e9d4fa" d="M634.5 71.7L639.1 74.1L640.3 72.9L635.8 70.4z"/>
<path fill="#5a5f5f" d="M466.6 130.6L461.7 129L459.2 122.8L464 124.2z"/>
<path fill="#a0a7a8" d="M646.6 127.5L650 124.6L648.9 124.1L645.3 127.1z"/>
<path fill="#edd0f8" d="M609.2 62.5L615.6 64.4L617.2 62.8L610.9 60.9z"/>
<path fill="#c2aed0" d="M466.3 79.6L461.4 79.8L464.3 72.9L469.3 72.4z"/>
<path fill="#ebd4fa" d="M630.1 69.7L635.1 72L636.3 70.7L631.5 68.3z"/>
<path fill="#aab2b7" d="M651.2 122.2L654.1 119L653.1 118.4L650.1 121.4z"/>
<path fill="#ecd1f8" d="M615 64.1L621 66.1L622.5 64.7L616.6 62.6z"/>
<path fill="#ebd3f9" d="M625.4 67.8L630.7 70L632.1 68.6L626.9 66.3z"/>
<path fill="#ecd2f9" d="M620.4 65.9L626 68L627.5 66.6L621.9 64.4z"/>
<path fill="#d2b7dd" d="M479.7 72.1L473.8 72.3L476.8 66.6L482.9 66.1z"/>
<path fill="#e2d6f8" d="M644.5 79.2L648.1 81.7L649.2 80.5L645.6 77.9z"/>
<path fill="#b6bfc9" d="M654.3 115.6L656.9 112.6L656.1 111.4L653.4 114.1z"/>
<path fill="#c9d1e9" d="M655.2 100.6L657.8 101.1L658.3 99L655.9 97.9z"/>
<path fill="#dad7f5" d="M649.5 84.7L652.5 87.2L653.5 85.9L650.5 83.3z"/>
<path fill="#bec8d8" d="M655.3 110.5L657.9 108.2L657.5 106.3L654.8 108z"/>
<path fill="#b0b9c0" d="M652.8 119L655.5 115.9L654.6 115L651.8 117.9z"/>
<path fill="#cfd5ef" d="M654.2 95.1L656.8 96.7L657.6 95.1L655.2 93z"/>
<path fill="#9ca2a1" d="M643.3 130L647.1 127.1L645.9 126.6L642 129.5z"/>
<path fill="#9391aa" d="M453.9 96.7L450.2 96.3L451.8 87.3L455.5 87.3z"/>
<path fill="#6b717d" d="M454.1 114.5L450.4 113.3L449.9 104.3L453.5 105.2z"/>
<path fill="#d6d7f4" d="M651.2 88.1L654.1 90.4L655 89.1L652.2 86.5z"/>
<path fill="#ada2c0" d="M459.4 87.9L455.1 87.8L457.5 79.6L461.9 79.3z"/>
<path fill="#d3d6f2" d="M652.7 91.6L655.4 93.7L656.3 92.1L653.8 89.8z"/>
<path fill="#e5d6f8" d="M641 77.1L645 79.6L646.2 78.3L642.3 75.7z"/>
<path fill="#c6cfe4" d="M654.9 103.2L657.6 103L657.9 100.6L655.3 100.1z"/>
<path fill="#c1cadc" d="M655 108.3L657.7 106.7L657.5 104.4L654.8 105.4z"/>
<path fill="#a6aeb1" d="M648.5 124.7L651.7 121.7L650.6 121L647.3 123.9z"/>
<path fill="#5e656a" d="M459.6 123.3L455.4 121.8L453.7 113.9L457.9 115z"/>
<path fill="#989d9b" d="M639.8 132.3L643.9 129.6L642.5 129L638.3 131.8z"/>
<path fill="#c4cce0" d="M654.9 105.8L657.6 104.9L657.6 102.5L654.9 102.7z"/>
<path fill="#60635f" d="M486.1 139.2L479.5 137.8L476.5 133.3L482.9 134.6z"/>
<path fill="#ded6f6" d="M646.6 82.7L650 85.1L651 83.7L647.8 81.1z"/>
<path fill="#7d8093" d="M453.5 105.8L449.9 105L450.3 95.6L454 96z"/>
<path fill="#e7d5f9" d="M637.3 75.1L641.6 77.5L642.8 76L638.6 73.6z"/>
<path fill="#949996" d="M635.9 134.5L640.3 131.9L638.9 131.4L634.3 134z"/>
<path fill="#b9c2cf" d="M653.6 114.3L656.3 111.7L655.6 109.8L652.8 112.1z"/>
<path fill="#ced4ee" d="M653.5 97.4L656.2 98.5L657 96.4L654.4 94.7z"/>
<path fill="#ebcdf5" d="M588 60.1L595.5 61.6L597.4 59.5L590 58z"/>
<path fill="#acb5ba" d="M650.3 121.6L653.3 118.6L652.2 117.5L649.1 120.3z"/>
<path fill="#e9d5f9" d="M633.2 73.1L637.9 75.4L639.2 73.9L634.6 71.5z"/>
<path fill="#5d6260" d="M471.6 132.2L466.2 130.7L463.6 124.2L468.9 125.6z"/>
<path fill="#a2a9aa" d="M645.5 127.2L649 124.3L647.8 123.4L644.1 126.3z"/>
<path fill="#d5badf" d="M485.7 71.7L479.3 71.9L482.4 66L488.9 65.7z"/>
<path fill="#d9d7f5" d="M648.5 86.3L651.7 88.5L652.7 86.9L649.7 84.5z"/>
<path fill="#c6b1d4" d="M471.3 79.3L465.9 79.5L468.9 72.3L474.3 71.9z"/>
<path fill="#b3bcc4" d="M652 118.1L654.8 115.2L653.9 113.7L650.9 116.3z"/>
<path fill="#909490" d="M631.7 136.7L636.5 134.2L634.9 133.6L630 136.1z"/>
<path fill="#797a73" d="M585.8 148.5L593.4 147.5L591.2 146.8L583.5 147.8z"/>
<path fill="#e1d6f7" d="M643.4 80.7L647.1 83L648.3 81.5L644.6 79z"/>
<path fill="#ead4f9" d="M628.7 71.2L633.8 73.4L635.2 71.8L630.2 69.5z"/>
<path fill="#eccef6" d="M594.9 61.4L602 63L603.9 60.9L596.8 59.3z"/>
<path fill="#d2d6f1" d="M651.8 93.7L654.7 95.4L655.6 93.3L652.9 91.3z"/>
<path fill="#d5d7f3" d="M650.2 90L653.2 92L654.2 90.2L651.4 87.9z"/>
<path fill="#ebd3f9" d="M624 69.3L629.3 71.5L630.8 69.8L625.5 67.5z"/>
<path fill="#8d908c" d="M627.1 138.7L632.3 136.3L630.6 135.7L625.4 138z"/>
<path fill="#eccff7" d="M601.4 62.8L608.2 64.5L609.9 62.5L603.2 60.7z"/>
<path fill="#7b7d76" d="M592.7 147.6L600 146.4L597.8 145.7L590.5 146.9z"/>
<path fill="#ecd2f9" d="M618.8 67.6L624.6 69.6L626.1 67.8L620.5 65.7z"/>
<path fill="#ecd0f7" d="M607.6 64.3L614 66.1L615.7 64.2L609.3 62.3z"/>
<path fill="#ecd1f8" d="M613.4 65.9L619.5 67.8L621.1 65.9L615.1 63.9z"/>
<path fill="#ccd3ec" d="M652.9 100.2L655.7 100.7L656.4 98L653.7 96.9z"/>
<path fill="#898d87" d="M622.2 140.5L627.7 138.4L626 137.8L620.4 139.9z"/>
<path fill="#bdc6d5" d="M653 112.4L655.8 110.2L655.3 107.7L652.4 109.3z"/>
<path fill="#7e8079" d="M599.3 146.6L606.2 145.1L604.1 144.4L597.1 145.9z"/>
<path fill="#868983" d="M617 142.3L622.9 140.3L621 139.6L615.1 141.6z"/>
<path fill="#e4d6f8" d="M639.8 78.7L643.9 81L645.2 79.3L641.2 76.9z"/>
<path fill="#9ea4a4" d="M642.1 129.6L646 126.8L644.6 125.9L640.6 128.6z"/>
<path fill="#80827c" d="M605.6 145.3L612.1 143.7L610.1 143L603.5 144.6z"/>
<path fill="#83867f" d="M611.5 143.9L617.7 142L615.7 141.4L609.4 143.2z"/>
<path fill="#dcd7f5" d="M645.5 84.4L649 86.6L650.2 84.8L646.8 82.4z"/>
<path fill="#9896af" d="M457.8 97.1L453.7 96.6L455.3 87.2L459.5 87.2z"/>
<path fill="#a9b1b4" d="M647.4 124.1L650.8 121.1L649.6 119.9L646.1 122.6z"/>
<path fill="#6f7580" d="M458 115.7L453.8 114.5L453.3 105.2L457.4 106z"/>
<path fill="#b2a6c4" d="M463.8 87.9L459.1 87.8L461.6 79.2L466.4 79z"/>
<path fill="#62686c" d="M464.1 124.8L459.3 123.4L457.6 115.1L462.3 116.2z"/>
<path fill="#c8d0e6" d="M652.5 103.3L655.4 103.2L655.8 100.2L653 99.7z"/>
<path fill="#c1cadb" d="M652.5 109.7L655.5 108.2L655.3 105.3L652.3 106.1z"/>
<path fill="#e6d6f8" d="M636 76.8L640.4 79L641.7 77.2L637.4 74.9z"/>
<path fill="#c4cde0" d="M652.4 106.6L655.3 105.8L655.4 102.7L652.5 102.8z"/>
<path fill="#b6c0ca" d="M651.1 116.5L654.1 114L653.3 111.7L650.1 113.9z"/>
<path fill="#d0d6f0" d="M651 96.4L654 97.5L654.9 94.9L652.1 93.3z"/>
<path fill="#9aa09e" d="M638.5 131.9L642.7 129.2L641.2 128.2L636.9 130.8z"/>
<path fill="#b0b8bf" d="M649.3 120.5L652.4 117.7L651.4 115.9L648.1 118.5z"/>
<path fill="#d8d7f4" d="M647.4 88.3L650.7 90.3L651.9 88.2L648.7 86z"/>
<path fill="#818597" d="M457.4 106.6L453.3 105.8L453.7 96L457.9 96.4z"/>
<path fill="#d4d7f2" d="M649.2 92.4L652.3 94L653.4 91.6L650.4 89.6z"/>
<path fill="#606562" d="M477 133.7L471.2 132.3L468.5 125.6L474.3 126.9z"/>
<path fill="#cab4d7" d="M476.7 79.2L470.9 79.2L473.9 71.8L479.8 71.5z"/>
<path fill="#e0d7f6" d="M642.1 82.6L646 84.7L647.3 82.8L643.5 80.4z"/>
<path fill="#e8d5f9" d="M631.8 74.9L636.5 77.1L638 75.2L633.3 72.9z"/>
<path fill="#a5acae" d="M644.3 126.5L647.9 123.7L646.6 122.2L642.8 124.9z"/>
<path fill="#969b98" d="M634.5 134.1L639 131.5L637.4 130.5L632.7 133z"/>
<path fill="#e9d4f9" d="M627.2 73.1L632.3 75.2L633.9 73.2L628.9 70.9z"/>
<path fill="#ced5ee" d="M650.2 99.7L653.3 100.3L654.1 97.1L651.2 96z"/>
<path fill="#bcc5d1" d="M650.3 114.2L653.5 112.2L652.9 109.1L649.7 110.7z"/>
<path fill="#ead3f8" d="M622.4 71.4L627.8 73.4L629.4 71.2L624.1 69.1z"/>
<path fill="#dbd7f5" d="M644.2 86.7L647.9 88.6L649.2 86.3L645.7 84.1z"/>
<path fill="#e3d6f7" d="M638.5 80.8L642.7 82.9L644.1 80.7L640 78.4z"/>
<path fill="#ebcdf4" d="M585.9 62.6L593.5 64L595.6 61.3L588.1 59.9z"/>
<path fill="#929793" d="M630.1 136.2L635 133.8L633.3 132.6L628.3 135z"/>
<path fill="#acb5b9" d="M646.3 122.8L649.8 120.1L648.6 118.1L644.9 120.5z"/>
<path fill="#ebd2f8" d="M617.1 69.7L622.9 71.6L624.7 69.3L619 67.3z"/>
<path fill="#ebcef5" d="M592.8 63.8L600.1 65.3L602.1 62.7L594.9 61.1z"/>
<path fill="#b7abc8" d="M468.7 87.9L463.5 87.8L466.1 78.9L471.4 78.7z"/>
<path fill="#a1a8a8" d="M640.8 128.8L644.8 126.1L643.3 124.5L639.2 127.1z"/>
<path fill="#ebd1f8" d="M611.6 68.1L617.7 69.9L619.5 67.5L613.5 65.6z"/>
<path fill="#9d9bb3" d="M462.2 97.4L457.6 97L459.2 87.2L463.9 87.2z"/>
<path fill="#ebcff6" d="M599.4 65.1L606.3 66.7L608.3 64.2L601.5 62.5z"/>
<path fill="#b4bdc5" d="M648.3 118.7L651.6 116.3L650.6 113.6L647.2 115.7z"/>
<path fill="#737983" d="M462.3 116.8L457.7 115.7L457.1 106L461.8 106.7z"/>
<path fill="#d6d8f3" d="M646.2 91L649.7 92.6L650.9 89.9L647.6 88z"/>
<path fill="#ebd0f7" d="M605.7 66.5L612.2 68.3L614.1 65.8L607.6 64z"/>
<path fill="#d2d7f1" d="M648.2 95.5L651.5 96.6L652.5 93.5L649.4 92z"/>
<path fill="#656c6e" d="M469 126.2L463.7 124.8L462 116.2L467.2 117.3z"/>
<path fill="#8e928e" d="M625.5 138.2L630.7 135.9L628.9 134.7L623.5 136.9z"/>
<path fill="#cad2e8" d="M649.8 103.5L652.9 103.4L653.4 99.7L650.4 99.2z"/>
<path fill="#c1cada" d="M649.8 111.1L653 109.6L652.8 106.1L649.6 106.9z"/>
<path fill="#e5d6f8" d="M634.5 79L639 81L640.5 78.7L636.1 76.5z"/>
<path fill="#636865" d="M483 135.1L476.6 133.7L473.9 126.9L480.2 128.1z"/>
<path fill="#c5cee0" d="M649.6 107.4L652.8 106.6L653 102.8L649.8 103z"/>
<path fill="#8b8f89" d="M620.5 140.1L626.1 137.9L624.2 136.7L618.5 138.8z"/>
<path fill="#cdb7d9" d="M482.7 79L476.3 79L479.4 71.4L485.8 71.2z"/>
<path fill="#ded7f5" d="M640.8 85.1L644.7 87L646.2 84.4L642.3 82.3z"/>
<path fill="#868a9a" d="M461.8 107.4L457.1 106.6L457.6 96.4L462.3 96.8z"/>
<path fill="#797b74" d="M583.5 148L591.2 146.9L588.7 145.4L580.9 146.4z"/>
<path fill="#888b85" d="M615.2 141.8L621.1 139.8L619.1 138.5L613 140.4z"/>
<path fill="#9da3a2" d="M637 131.1L641.3 128.5L639.7 126.7L635.3 129.2z"/>
<path fill="#7c7e77" d="M590.5 147.1L597.8 145.9L595.4 144.4L588 145.6z"/>
<path fill="#e7d5f8" d="M630.2 77.3L635.1 79.3L636.7 76.8L631.9 74.6z"/>
<path fill="#848781" d="M609.5 143.4L615.8 141.5L613.7 140.2L607.3 142z"/>
<path fill="#7f817a" d="M597.2 146L604.2 144.6L601.8 143.1L594.8 144.5z"/>
<path fill="#a9b1b4" d="M643 125.1L646.8 122.5L645.5 120.2L641.5 122.6z"/>
<path fill="#81847d" d="M603.5 144.8L610.1 143.1L607.9 141.7L601.2 143.3z"/>
<path fill="#d0d6ef" d="M647.3 99.3L650.7 99.8L651.6 96.1L648.3 95z"/>
<path fill="#bac3ce" d="M647.4 116L650.8 114.1L650.1 110.5L646.7 112z"/>
<path fill="#d8d8f4" d="M642.9 89.7L646.7 91.2L648.1 88.2L644.4 86.3z"/>
<path fill="#e8d5f8" d="M625.6 75.6L630.8 77.5L632.5 74.9L627.4 72.8z"/>
<path fill="#e1d7f6" d="M637 83.5L641.3 85.3L642.8 82.5L638.7 80.4z"/>
<path fill="#b1bbc0" d="M645.1 120.8L648.7 118.5L647.7 115.4L644 117.4z"/>
<path fill="#d5d8f2" d="M645.1 94.5L648.6 95.6L649.8 92.1L646.4 90.6z"/>
<path fill="#999f9c" d="M632.9 133.2L637.5 130.7L635.8 128.9L631 131.2z"/>
<path fill="#bbaecb" d="M474.1 88L468.4 87.8L471 78.7L476.8 78.6z"/>
<path fill="#696f70" d="M474.3 127.5L468.6 126.2L466.8 117.3L472.5 118.4z"/>
<path fill="#a2a0b7" d="M467.1 97.8L461.9 97.4L463.6 87.2L468.8 87.3z"/>
<path fill="#e9d4f8" d="M620.6 74L626.1 75.8L627.9 73.1L622.5 71.1z"/>
<path fill="#777e86" d="M467.2 117.9L462 116.8L461.5 106.8L466.6 107.5z"/>
<path fill="#ccd4e9" d="M646.8 103.6L650.2 103.5L650.8 99.3L647.4 98.8z"/>
<path fill="#c1cad8" d="M646.8 112.4L650.3 111L650 106.8L646.6 107.6z"/>
<path fill="#a5adae" d="M639.4 127.3L643.5 124.8L642 122.3L637.8 124.5z"/>
<path fill="#ead3f7" d="M615.3 72.4L621.1 74.2L623.1 71.3L617.3 69.4z"/>
<path fill="#959a97" d="M628.5 135.2L633.4 132.9L631.6 130.9L626.5 133.1z"/>
<path fill="#c6cee0" d="M646.6 108.2L650.1 107.4L650.2 103L646.8 103.1z"/>
<path fill="#e3d7f7" d="M632.9 81.9L637.5 83.7L639.2 80.7L634.7 78.7z"/>
<path fill="#dbd8f4" d="M639.3 88.4L643.4 89.9L644.9 86.5L641 84.7z"/>
<path fill="#ead2f7" d="M609.6 70.9L615.8 72.6L617.8 69.6L611.7 67.8z"/>
<path fill="#e9cdf4" d="M583.6 65.8L591.2 67.1L593.5 63.7L586 62.3z"/>
<path fill="#8a8f9e" d="M466.6 108.1L461.5 107.4L462 96.8L467.1 97.2z"/>
<path fill="#ead0f6" d="M603.6 69.5L610.2 71.1L612.3 68L605.8 66.3z"/>
<path fill="#eacef5" d="M590.6 67L597.9 68.4L600.1 65L592.9 63.5z"/>
<path fill="#eacff5" d="M597.3 68.2L604.2 69.7L606.4 66.5L599.5 64.8z"/>
<path fill="#d2d7ef" d="M644.1 98.8L647.8 99.4L648.8 95.1L645.2 94z"/>
<path fill="#919692" d="M623.7 137.2L629 135L627 132.8L621.6 134.9z"/>
<path fill="#b8c2ca" d="M644.1 117.8L647.8 115.9L647.1 111.8L643.4 113.2z"/>
<path fill="#afb8bc" d="M641.7 122.9L645.6 120.6L644.5 117.2L640.4 119.1z"/>
<path fill="#d6d8f2" d="M641.7 93.6L645.5 94.7L646.9 90.8L643.1 89.3z"/>
<path fill="#e5d6f7" d="M628.5 80.4L633.4 82.1L635.2 78.9L630.4 76.9z"/>
<path fill="#a2a9a8" d="M635.5 129.5L639.9 127L638.3 124.3L633.7 126.4z"/>
<path fill="#bfb2cf" d="M480 88.1L473.7 87.9L476.5 78.5L482.8 78.5z"/>
<path fill="#8e928d" d="M618.6 139L624.2 136.9L622.2 134.7L616.4 136.6z"/>
<path fill="#6c7373" d="M480.2 128.7L474 127.5L472.1 118.4L478.4 119.3z"/>
<path fill="#ded7f4" d="M635.4 87L639.8 88.5L641.5 84.9L637.2 83.1z"/>
<path fill="#a6a5ba" d="M472.4 98.2L466.7 97.8L468.5 87.3L474.2 87.4z"/>
<path fill="#7b8289" d="M472.5 119L466.9 117.9L466.3 107.5L471.9 108.2z"/>
<path fill="#cdd5eb" d="M643.5 103.8L647.2 103.7L647.8 98.8L644.2 98.3z"/>
<path fill="#e7d5f7" d="M623.7 78.9L629 80.6L630.9 77.2L625.7 75.3z"/>
<path fill="#c0cad6" d="M643.5 113.7L647.2 112.4L647 107.6L643.2 108.3z"/>
<path fill="#8a8e88" d="M613.1 140.7L619.2 138.7L617 136.4L610.8 138.2z"/>
<path fill="#c6cfe0" d="M643.3 108.9L647 108.1L647.2 103.1L643.5 103.2z"/>
<path fill="#9ea5a3" d="M631.2 131.5L636 129.2L634.3 126.2L629.4 128.3z"/>
<path fill="#878a84" d="M607.4 142.2L613.7 140.4L611.4 138L604.9 139.7z"/>
<path fill="#acb5b7" d="M638 124.9L642.2 122.7L640.9 118.9L636.6 120.7z"/>
<path fill="#d8d9f3" d="M637.9 92.6L642.1 93.7L643.6 89.4L639.5 87.9z"/>
<path fill="#e8d4f7" d="M618.6 77.4L624.2 79.1L626.2 75.5L620.7 73.6z"/>
<path fill="#8f94a2" d="M471.9 108.9L466.3 108.1L466.8 97.2L472.5 97.6z"/>
<path fill="#d3d8f0" d="M640.6 98.4L644.5 98.9L645.7 94.1L641.8 93.1z"/>
<path fill="#848780" d="M601.3 143.6L608 142L605.5 139.5L598.7 141z"/>
<path fill="#7b7d76" d="M581 146.7L588.7 145.7L586 142.9L578.2 143.9z"/>
<path fill="#b6c0c7" d="M640.6 119.5L644.6 117.7L643.8 113.1L639.7 114.5z"/>
<path fill="#e0d7f5" d="M631.2 85.7L635.9 87.2L637.7 83.3L633.1 81.5z"/>
<path fill="#81847d" d="M594.8 144.8L601.9 143.4L599.3 140.8L592.2 142.1z"/>
<path fill="#7e8079" d="M588.1 145.8L595.4 144.6L592.8 141.9L585.4 143.1z"/>
<path fill="#e8d3f6" d="M613.2 76.1L619.2 77.6L621.3 73.8L615.4 72.1z"/>
<path fill="#9aa19d" d="M626.7 133.4L631.7 131.2L629.9 128L624.7 130z"/>
<path fill="#e9d2f6" d="M607.4 74.7L613.7 76.2L615.9 72.3L609.7 70.6z"/>
<path fill="#aba9be" d="M478.3 98.6L472.1 98.2L473.9 87.4L480.1 87.5z"/>
<path fill="#e2d7f5" d="M626.6 84.5L631.7 85.9L633.6 81.7L628.7 80z"/>
<path fill="#cfd7ec" d="M639.8 103.9L643.9 103.8L644.6 98.3L640.7 97.8z"/>
<path fill="#7f878c" d="M478.4 119.9L472.2 119L471.6 108.2L477.8 108.9z"/>
<path fill="#c0c9d5" d="M639.9 115L643.9 113.7L643.6 108.3L639.6 109z"/>
<path fill="#a9b2b2" d="M633.9 126.8L638.5 124.7L637.1 120.6L632.4 122.3z"/>
<path fill="#e9d1f5" d="M601.3 73.4L608 74.9L610.3 70.8L603.7 69.2z"/>
<path fill="#dad9f3" d="M633.9 91.7L638.4 92.7L640 88.1L635.6 86.6z"/>
<path fill="#e8cdf2" d="M581 70.1L588.7 71.3L591.3 66.8L583.7 65.5z"/>
<path fill="#e9d0f4" d="M594.9 72.3L601.9 73.6L604.3 69.4L597.4 67.8z"/>
<path fill="#e8cef3" d="M588.1 71.1L595.4 72.4L597.9 68L590.7 66.6z"/>
<path fill="#c7d0e0" d="M639.6 109.6L643.7 108.9L643.9 103.2L639.9 103.3z"/>
<path fill="#979c98" d="M621.8 135.2L627.2 133.2L625.2 129.8L619.6 131.6z"/>
<path fill="#d5d9f0" d="M636.7 97.9L641 98.4L642.2 93.2L638.1 92.1z"/>
<path fill="#b5bec3" d="M636.7 121.2L641 119.4L640.2 114.3L635.8 115.6z"/>
<path fill="#9499a6" d="M477.8 109.6L471.6 108.8L472.1 97.6L478.3 98z"/>
<path fill="#e4d6f5" d="M621.8 83.2L627.1 84.6L629.1 80.2L623.9 78.5z"/>
<path fill="#939893" d="M616.5 137L622.3 135L620.2 131.4L614.3 133.1z"/>
<path fill="#a6aead" d="M629.5 128.6L634.4 126.6L632.9 122.1L627.9 123.8z"/>
<path fill="#dcd8f3" d="M629.5 90.7L634.3 91.8L636.1 86.7L631.4 85.3z"/>
<path fill="#e5d5f5" d="M616.5 82L622.2 83.4L624.4 78.7L618.8 77z"/>
<path fill="#d0d7ec" d="M635.9 103.9L640.2 103.9L641.1 97.9L636.8 97.3z"/>
<path fill="#bfc9d3" d="M635.9 116.2L640.3 114.9L640 109L635.6 109.6z"/>
<path fill="#8f948f" d="M611 138.5L617.1 136.7L614.8 132.9L608.6 134.5z"/>
<path fill="#d6d9f0" d="M632.5 97.4L637.1 98L638.5 92.2L634 91.2z"/>
<path fill="#b3bcc0" d="M632.6 122.8L637.2 121.1L636.2 115.5L631.6 116.8z"/>
<path fill="#c7d1df" d="M635.7 110.2L640 109.6L640.3 103.3L635.9 103.4z"/>
<path fill="#e6d4f5" d="M611 80.9L617 82.2L619.3 77.2L613.4 75.7z"/>
<path fill="#8c908a" d="M605.1 140L611.5 138.3L609.2 134.4L602.6 135.8z"/>
<path fill="#a3aba8" d="M624.8 130.4L630 128.4L628.4 123.7L623.1 125.2z"/>
<path fill="#ded8f2" d="M624.8 89.8L630 90.9L631.8 85.4L626.8 84z"/>
<path fill="#888d86" d="M598.9 141.3L605.6 139.8L603.2 135.7L596.3 137z"/>
<path fill="#e6d3f4" d="M605.1 79.7L611.5 81L613.8 75.8L607.6 74.3z"/>
<path fill="#858982" d="M592.3 142.4L599.4 141.1L596.9 136.8L589.7 138z"/>
<path fill="#7f827b" d="M578.3 144.2L586 143.2L583.3 138.7L575.4 139.5z"/>
<path fill="#82867e" d="M585.5 143.4L592.9 142.2L590.2 137.8L582.7 138.8z"/>
<path fill="#e6d2f3" d="M598.9 78.7L605.6 79.9L608.1 74.5L601.5 73z"/>
<path fill="#d1d8ec" d="M631.6 104L636.3 104L637.2 97.4L632.6 96.9z"/>
<path fill="#bfc8d1" d="M631.7 117.3L636.3 116.1L636 109.6L631.4 110.3z"/>
<path fill="#d8d9f0" d="M628 96.9L632.9 97.5L634.4 91.3L629.7 90.2z"/>
<path fill="#9fa7a4" d="M619.8 132L625.3 130.2L623.6 125.1L618 126.6z"/>
<path fill="#b1babc" d="M628.1 124.3L633 122.7L632 116.7L627 117.9z"/>
<path fill="#e0d7f2" d="M619.8 88.9L625.3 89.9L627.3 84.2L621.9 82.8z"/>
<path fill="#e6d1f3" d="M592.3 77.6L599.4 78.8L602 73.2L595 71.8z"/>
<path fill="#e6cff2" d="M585.5 76.7L592.8 77.8L595.5 72L588.3 70.7z"/>
<path fill="#e5cef1" d="M578.3 75.8L586 76.8L588.8 70.9L581.1 69.7z"/>
<path fill="#c8d1df" d="M631.4 110.8L636 110.2L636.3 103.4L631.7 103.4z"/>
<path fill="#9ca39f" d="M614.5 133.5L620.3 131.8L618.5 126.4L612.5 127.8z"/>
<path fill="#e1d6f2" d="M614.4 88L620.2 89L622.4 82.9L616.7 81.6z"/>
<path fill="#d8d9f0" d="M623.2 96.4L628.5 97L630.1 90.3L625 89.3z"/>
<path fill="#aeb8b8" d="M623.3 125.7L628.5 124.2L627.4 117.8L622.1 118.9z"/>
<path fill="#d2d9ec" d="M627.1 104L632 104L633 96.9L628.2 96.4z"/>
<path fill="#bec8ce" d="M627.1 118.4L632.1 117.3L631.7 110.2L626.8 110.8z"/>
<path fill="#989f9a" d="M608.8 134.9L614.9 133.4L613 127.7L606.7 129z"/>
<path fill="#e2d5f2" d="M608.8 87.1L614.9 88.1L617.1 81.7L611.1 80.4z"/>
<path fill="#c8d1de" d="M626.8 111.4L631.8 110.8L632.1 103.4L627.1 103.4z"/>
<path fill="#959b96" d="M602.8 136.2L609.3 134.8L607.2 128.9L600.6 130z"/>
<path fill="#d9d9f0" d="M618.1 95.9L623.6 96.5L625.4 89.4L619.9 88.4z"/>
<path fill="#e2d4f1" d="M602.8 86.3L609.2 87.2L611.6 80.5L605.3 79.3z"/>
<path fill="#acb5b4" d="M618.1 127.1L623.7 125.6L622.5 118.8L616.9 119.8z"/>
<path fill="#d3d9eb" d="M622.2 104L627.5 104.1L628.5 96.4L623.3 95.9z"/>
<path fill="#bdc7cc" d="M622.2 119.4L627.5 118.3L627.2 110.8L621.8 111.3z"/>
<path fill="#919891" d="M596.5 137.4L603.3 136.1L601.1 129.9L594.2 131z"/>
<path fill="#e2d3f1" d="M596.4 85.4L603.2 86.4L605.7 79.4L599 78.2z"/>
<path fill="#c8d1dd" d="M621.9 111.9L627.2 111.4L627.5 103.5L622.2 103.4z"/>
<path fill="#8d948d" d="M589.8 138.4L596.9 137.3L594.7 130.9L587.5 131.8z"/>
<path fill="#e2d2f0" d="M589.8 84.6L596.9 85.6L599.5 78.3L592.5 77.2z"/>
<path fill="#dad8ef" d="M612.6 95.4L618.5 96L620.4 88.5L614.6 87.5z"/>
<path fill="#a9b3b0" d="M612.7 128.3L618.5 127L617.3 119.7L611.4 120.7z"/>
<path fill="#8a9089" d="M582.9 139.3L590.3 138.3L588 131.7L580.4 132.5z"/>
<path fill="#e1d0ef" d="M582.8 83.9L590.2 84.8L592.9 77.3L585.6 76.2z"/>
<path fill="#868c85" d="M575.6 139.9L583.3 139.1L580.9 132.3L573.1 133z"/>
<path fill="#e1cfed" d="M575.5 83.2L583.3 84L586.1 76.3L578.4 75.3z"/>
<path fill="#d3d9eb" d="M617 104L622.6 104.1L623.7 95.9L618.2 95.4z"/>
<path fill="#bbc5c9" d="M617 120.4L622.6 119.4L622.2 111.3L616.6 111.8z"/>
<path fill="#dad7ee" d="M606.8 94.9L613 95.5L615 87.6L608.9 86.6z"/>
<path fill="#a6b0ac" d="M606.9 129.5L613.1 128.2L611.8 120.6L605.5 121.5z"/>
<path fill="#c8d1dc" d="M616.6 112.4L622.3 111.9L622.6 103.5L617 103.4z"/>
<path fill="#d3d8ea" d="M611.4 104L617.4 104L618.6 95.4L612.7 94.9z"/>
<path fill="#dad6ed" d="M600.7 94.4L607.3 95L609.3 86.7L602.9 85.7z"/>
<path fill="#bac4c7" d="M611.5 121.2L617.4 120.3L617 111.8L611.1 112.2z"/>
<path fill="#a3aca8" d="M600.8 130.5L607.3 129.4L606 121.4L599.3 122.2z"/>
<path fill="#c7d1db" d="M611.1 112.8L617 112.4L617.4 103.4L611.5 103.4z"/>
<path fill="#dad4eb" d="M594.3 93.9L601.2 94.5L603.3 85.8L596.6 84.9z"/>
<path fill="#a0a9a4" d="M594.3 131.4L601.2 130.4L599.8 122.1L592.9 122.8z"/>
<path fill="#d3d8e9" d="M605.6 103.9L611.8 104L613.1 94.9L607 94.4z"/>
<path fill="#b8c2c4" d="M605.6 122L611.8 121.2L611.5 112.2L605.2 112.6z"/>
<path fill="#dad3ea" d="M587.6 93.4L594.7 94L597 85L589.9 84.1z"/>
<path fill="#9da6a0" d="M587.6 132.3L594.8 131.4L593.3 122.8L586.1 123.4z"/>
<path fill="#d9d1e9" d="M580.5 92.9L588 93.5L590.3 84.2L583 83.4z"/>
<path fill="#99a29c" d="M580.6 132.9L588 132.2L586.5 123.3L578.9 123.8z"/>
<path fill="#c7d0d9" d="M605.2 113.2L611.5 112.8L611.9 103.4L605.6 103.3z"/>
<path fill="#d8cfe7" d="M573.1 92.4L580.9 93L583.4 83.5L575.7 82.7z"/>
<path fill="#969e98" d="M573.2 133.5L581 132.9L579.4 123.7L571.5 124.1z"/>
<path fill="#d2d7e7" d="M599.4 103.8L606 103.9L607.3 94.4L600.8 93.9z"/>
<path fill="#b6c0c1" d="M599.4 122.8L606 122L605.6 112.6L599 112.9z"/>
<path fill="#c5cfd7" d="M599 113.5L605.6 113.2L606 103.3L599.5 103.2z"/>
<path fill="#d2d5e6" d="M592.9 103.6L599.8 103.8L601.2 93.9L594.4 93.3z"/>
<path fill="#b3bebd" d="M592.9 123.4L599.8 122.7L599.4 112.9L592.5 113.2z"/>
<path fill="#d0d4e4" d="M586.1 103.5L593.3 103.7L594.8 93.4L587.7 92.8z"/>
<path fill="#b1bbba" d="M586.1 123.9L593.3 123.4L592.9 113.2L585.7 113.4z"/>
<path fill="#c4cdd5" d="M592.5 113.8L599.4 113.5L599.8 103.2L593 103.1z"/>
<path fill="#cfd2e2" d="M579 103.3L586.5 103.5L588.1 92.9L580.6 92.4z"/>
<path fill="#aeb8b7" d="M579 124.3L586.5 123.9L586.1 113.4L578.5 113.5z"/>
<path fill="#cdd0e0" d="M571.6 103.1L579.4 103.3L581 92.4L573.2 91.9z"/>
<path fill="#abb5b3" d="M571.6 124.6L579.4 124.3L578.9 113.5L571.1 113.6z"/>
<path fill="#c2cbd3" d="M585.7 114L592.9 113.8L593.3 103.1L586.2 102.9z"/>
<path fill="#c0c9d1" d="M578.5 114.1L586.1 114L586.5 102.9L579 102.7z"/>
<path fill="#bec6ce" d="M571.1 114.1L578.9 114.1L579.4 102.7L571.6 102.5z"/>
</g>
<path d="M486.4 134.5L487.5 133.9L488.6 133.5L489.9 133L491.2 132.5L492.4 132.2L493.7 131.8L495 131.5L496.4 131.2L497.9 130.8L499.1 130.6L500.4 130.4L501.6 130.2L502.9 130L504.3 129.8L505.7 129.6L507.1 129.4L508.5 129.2L510 129.1L511.5 128.9L513.1 128.8L514.6 128.6L516.2 128.5L517.8 128.4L519.4 128.3L521 128.2M493 143.3L491.6 143L491.3 142.9M483.8 136.2L484.8 135.4L486 134.7L486.4 134.5M479.7 125.4L480.9 125.1L482.1 124.8L483.3 124.5L484.7 124.2L486.1 123.9L487.5 123.6L489 123.4L490.5 123.1L492.1 122.9L493.7 122.6L495.4 122.4L497.1 122.2L498.9 122L500.1 121.8L501.3 121.7L502.5 121.6L503.7 121.4L505 121.3L506.3 121.2L507.5 121.1L508.8 121L510.1 120.9L511.4 120.8L512.7 120.7L514 120.7L515.4 120.6L516.7 120.5L518 120.4L519.4 120.4L520.7 120.3L522.1 120.3L523.4 120.2L524.8 120.2L525.4 120.2M487.1 140.6L485.6 140.3L484.1 140.1L482.7 139.8L481.3 139.5L480 139.2L478.8 138.9L477.6 138.6L476 138.2L474.6 137.7L473.3 137.3L472.2 136.8L471.3 136.5M478.6 117.4L480.2 117.1L481.8 116.8L483.6 116.5L485.4 116.3L486.6 116.1L487.8 115.9L489.1 115.7L490.4 115.6L491.7 115.4L493 115.3L494.3 115.1L495.7 115L497.1 114.8L498.5 114.7L499.9 114.6L501.3 114.5L502.7 114.3L504.2 114.2L505.6 114.1L507.1 114L508.6 113.9L510 113.8L511.5 113.8L513 113.7L514.5 113.6L516 113.5L517.5 113.5L519.1 113.4L520.6 113.4L522.1 113.3L523.6 113.3L525.1 113.2L526.6 113.2L528.1 113.2L528.9 113.2M483.8 136.9L482.6 136.7L481.4 136.6L479.6 136.3L477.9 136L476.3 135.7L474.7 135.4L473.1 135.1L471.6 134.7L470.1 134.4L468.8 134.1L467.4 133.7L466.2 133.4L465 133L463.6 132.5L462.2 132L461.1 131.5L459.8 130.8L458.7 130.1M478.3 110.4L479.6 110.2L480.9 110L482.2 109.8L483.5 109.6L484.9 109.5L486.3 109.3L487.7 109.1L489.1 109L490.6 108.8L492 108.7L493.5 108.5L495 108.4L496.5 108.2L498.1 108.1L499.6 108L501.2 107.9L502.8 107.8L504.3 107.7L505.9 107.6L507.5 107.5L509.1 107.4L510.7 107.3L512.4 107.2L514 107.1L515.6 107.1L517.2 107L518.9 107L520.5 106.9L522.1 106.9L523.8 106.8L525.4 106.8L527 106.8L528.7 106.7L530.3 106.7L531.1 106.7M481.3 132.6L480 132.4L478.7 132.2L477.4 132L476.1 131.9L474.8 131.7L473.6 131.5L472.3 131.2L471.1 131L469.9 130.8L468.2 130.5L466.5 130.1L464.9 129.8L463.4 129.4L461.9 129.1L460.5 128.7L459.1 128.3L457.9 127.9L456.7 127.5L455.3 127L454 126.4L452.9 125.9L451.7 125.1L450.6 124.3L450.5 124.1M478.7 103.9L480.1 103.7L481.5 103.5L482.9 103.4L484.4 103.2L485.9 103L487.4 102.8L489 102.7L490.5 102.5L492.1 102.4L493.7 102.3L495.3 102.1L496.9 102L498.6 101.9L500.2 101.8L501.9 101.6L503.5 101.5L505.2 101.4L506.9 101.4L508.6 101.3L510.3 101.2L512 101.1L513.7 101L515.4 101L517.1 100.9L518.9 100.9L520.6 100.8L522.3 100.8L524 100.7L525.7 100.7L527.4 100.7L529.2 100.7L530.9 100.6L532.6 100.6M479.5 127.9L478.1 127.7L476.7 127.5L475.3 127.3L473.9 127.1L472.5 126.9L471.2 126.7L469.9 126.5L468.6 126.3L467.3 126.1L466 125.8L464.8 125.6L463.6 125.4L461.8 125L460.2 124.7L458.5 124.3L457 123.9L455.5 123.5L454.1 123.1L452.8 122.7L451.6 122.3L450.5 121.9L449.1 121.3L447.9 120.7L446.6 119.9L445.6 119.2L444.8 118.3L444.7 118.1M478.5 97.9L479.9 97.7L481.5 97.5L483 97.4L484.5 97.2L486.1 97L487.7 96.9L489.3 96.7L491 96.6L492.6 96.4L494.3 96.3L496 96.2L497.6 96.1L499.4 95.9L501.1 95.8L502.8 95.7L504.5 95.6L506.3 95.5L508 95.5L509.8 95.4L511.6 95.3L513.3 95.2L515.1 95.2L516.9 95.1L518.6 95.1L520.4 95L522.2 95L524 94.9L525.7 94.9L527.5 94.9L529.3 94.9L531 94.8L532.8 94.8L533.7 94.8M478.4 122.8L477 122.6L475.5 122.5L474 122.3L472.6 122.1L471.1 121.9L469.7 121.7L468.3 121.5L467 121.2L465.6 121L464.3 120.8L463 120.6L461.7 120.3L460.5 120.1L459.3 119.9L458.1 119.6L456.4 119.2L454.7 118.8L453.2 118.5L451.7 118L450.3 117.6L449 117.2L447.8 116.8L446.6 116.3L445.3 115.8L444.1 115.2L442.9 114.4L441.9 113.6L441.2 112.7L440.9 112M479.3 92.1L480.9 91.9L482.5 91.7L484.1 91.5L485.7 91.4L487.3 91.2L489 91.1L490.6 90.9L492.3 90.8L494 90.7L495.7 90.5L497.5 90.4L499.2 90.3L501 90.2L502.7 90.1L504.5 90L506.3 89.9L508.1 89.8L509.9 89.8L511.7 89.7L513.5 89.6L515.3 89.6L517.1 89.5L518.9 89.5L520.7 89.4L522.5 89.4L524.3 89.3L526.1 89.3L527.9 89.3L529.7 89.3L531.5 89.3L533.3 89.3L534.2 89.2M477.7 117.5L476.1 117.3L474.6 117.2L473.1 117L471.6 116.8L470.2 116.6L468.7 116.4L467.3 116.2L465.9 115.9L464.5 115.7L463.1 115.5L461.8 115.3L460.5 115L459.2 114.8L458 114.6L456.8 114.3L455.6 114.1L453.9 113.7L452.2 113.3L450.7 112.9L449.2 112.5L447.8 112.1L446.5 111.6L445.3 111.2L443.8 110.6L442.5 110L441.4 109.4L440.3 108.6L439.4 107.7L438.8 106.6L438.7 106.1M481.1 86.4L482.7 86.2L484.3 86L485.9 85.9L487.6 85.7L489.3 85.6L491 85.5L492.7 85.3L494.4 85.2L496.1 85.1L497.9 85L499.7 84.8L501.4 84.7L503.2 84.6L505 84.6L506.8 84.5L508.6 84.4L510.4 84.3L512.2 84.2L514.1 84.2L515.9 84.1L517.7 84.1L519.5 84L521.3 84L523.2 84L525 83.9L526.8 83.9L528.6 83.9L530.4 83.9L532.2 83.8L534 83.8M477 112L475.5 111.8L473.9 111.6L472.4 111.4L470.9 111.2L469.4 111L468 110.8L466.5 110.6L465.1 110.4L463.7 110.2L462.3 110L461 109.7L459.7 109.5L458.4 109.3L457.1 109L455.9 108.8L454.7 108.5L453 108.2L451.3 107.8L449.8 107.4L448.3 107L446.9 106.5L445.6 106.1L444.4 105.7L442.9 105.1L441.6 104.5L440.5 103.9L439.4 103.1L438.4 102.2L437.8 101.1L437.7 100.3M482.7 80.9L484.3 80.7L485.9 80.6L487.6 80.4L489.3 80.3L491 80.1L492.7 80L494.4 79.9L496.1 79.8L497.9 79.7L499.6 79.5L501.4 79.4L503.2 79.3L505 79.3L506.8 79.2L508.6 79.1L510.4 79L512.2 79L514 78.9L515.9 78.8L517.7 78.8L519.5 78.7L521.3 78.7L523.2 78.7L525 78.6L526.8 78.6L528.6 78.6L530.4 78.6L532.2 78.6L534 78.6M477 106.3L475.4 106.2L473.9 106L472.4 105.8L470.9 105.6L469.4 105.4L467.9 105.2L466.5 105L465.1 104.8L463.7 104.6L462.3 104.3L461 104.1L459.7 103.9L458.4 103.7L457.1 103.4L455.9 103.2L454.7 102.9L453 102.6L451.3 102.2L449.7 101.8L448.2 101.4L446.8 101L445.5 100.5L444.3 100.1L442.9 99.5L441.6 98.9L440.5 98.3L439.3 97.6L438.4 96.6L437.8 95.6L437.8 94.5M484 75.6L485.6 75.4L487.3 75.3L488.9 75.2L490.6 75L492.3 74.9L494 74.8L495.7 74.6L497.4 74.5L499.2 74.4L500.9 74.3L502.7 74.2L504.5 74.1L506.3 74L508 74L509.8 73.9L511.6 73.8L513.4 73.8L515.2 73.7L517.1 73.6L518.9 73.6L520.7 73.6L522.5 73.5L524.3 73.5L526.1 73.5L527.9 73.4L529.7 73.4L531.5 73.4L533.3 73.4L534.2 73.4M477.6 100.6L476.1 100.4L474.6 100.2L473.1 100L471.6 99.9L470.1 99.7L468.7 99.5L467.2 99.3L465.8 99.1L464.4 98.8L463.1 98.6L461.7 98.4L460.4 98.2L459.2 98L457.9 97.7L456.7 97.5L455.5 97.3L453.8 96.9L452.1 96.5L450.6 96.1L449.1 95.7L447.7 95.3L446.4 94.9L445.2 94.5L443.7 93.9L442.5 93.3L441.4 92.8L440.2 92L439.3 91.1L438.7 90L438.6 88.8L438.8 88.5M486.8 70.4L488.4 70.2L490.1 70.1L491.7 70L493.4 69.8L495 69.7L496.7 69.6L498.4 69.5L500.1 69.4L501.9 69.3L503.6 69.2L505.4 69.1L507.1 69L508.9 68.9L510.6 68.9L512.4 68.8L514.2 68.7L515.9 68.7L517.7 68.6L519.5 68.6L521.3 68.5L523 68.5L524.8 68.5L526.6 68.5L528.4 68.4L530.1 68.4L531.9 68.4L533.6 68.4M478.4 94.6L476.9 94.4L475.4 94.3L473.9 94.1L472.5 93.9L471 93.7L469.6 93.5L468.2 93.3L466.8 93.1L465.5 92.9L464.2 92.7L462.9 92.5L461.6 92.3L460.4 92L459.2 91.8L458 91.6L456.3 91.2L454.6 90.9L453 90.5L451.6 90.1L450.2 89.7L448.9 89.3L447.6 88.9L446.5 88.5L445.1 88L444 87.4L442.7 86.7L441.6 85.8L440.9 84.8L440.6 83.6L441.1 82.4M489.6 65.4L491.2 65.2L492.8 65.1L494.4 65L496 64.9L497.7 64.8L499.3 64.6L501 64.5L502.6 64.4L504.3 64.4L506 64.3L507.7 64.2L509.4 64.1L511.1 64L512.8 64L514.5 63.9L516.2 63.9L517.9 63.8L519.7 63.8L521.4 63.7L523.1 63.7L524.8 63.7L526.5 63.6L528.3 63.6L530 63.6L531.7 63.6L532.5 63.6M479.4 88.4L478 88.2L476.6 88.1L475.2 87.9L473.8 87.7L472.4 87.5L471.1 87.3L469.7 87.1L468.4 87L467.1 86.8L465.9 86.6L464.7 86.3L463.5 86.1L461.7 85.8L460 85.5L458.4 85.1L456.8 84.8L455.4 84.4L454 84.1L452.7 83.7L451.4 83.3L449.9 82.8L448.6 82.3L447.5 81.7L446.2 81L445.1 80.2L444.4 79.2L444.1 78L444.6 76.8L445 76.3M492.7 60.6L494.2 60.5L495.7 60.4L497.2 60.3L498.7 60.2L500.3 60.1L501.9 60L503.4 59.9L505 59.8L506.6 59.7L508.2 59.6L509.8 59.5L511.5 59.5L513.1 59.4L514.7 59.3L516.4 59.3L518 59.2L519.6 59.2L521.3 59.1L522.9 59.1L524.5 59.1L526.2 59L527.8 59L529.4 59L531.1 59M481.2 82L479.8 81.8L478.5 81.6L477.2 81.5L475.9 81.3L474.6 81.1L473.4 80.9L472.1 80.8L470.9 80.6L469.8 80.4L468 80.1L466.3 79.8L464.7 79.5L463.2 79.1L461.7 78.8L460.3 78.5L458.9 78.1L457.7 77.8L456.5 77.4L455.1 77L453.8 76.5L452.7 76L451.5 75.3L450.4 74.5L449.6 73.6L449.3 72.4L449.8 71.2L450.6 70.3L451 70.1M496.9 56.1L498.3 56L499.7 55.9L501.2 55.8L502.6 55.7L504 55.6L505.5 55.5L507 55.4L508.4 55.3L509.9 55.2L511.4 55.2L512.9 55.1L514.4 55L515.9 55L517.4 54.9L519 54.9L520.5 54.8L522 54.8L523.5 54.8L525 54.7L526.6 54.7L528.1 54.7L528.8 54.7M483.6 75.2L482.4 75L481.2 74.9L479.4 74.6L477.7 74.4L476.1 74.1L474.4 73.9L472.9 73.6L471.4 73.3L469.9 73L468.5 72.7L467.2 72.4L466 72.1L464.8 71.8L463.3 71.4L462 70.9L460.8 70.5L459.5 69.9L458.3 69.2L457.3 68.4L456.7 67.3L456.9 66.1L457.7 65.1L458.8 64.3L459.8 63.7M471.7 57.6L472.9 57.2L473.1 57.1M502.3 51.9L503.6 51.8L504.8 51.7L506.1 51.6L507.4 51.6L508.7 51.5L510 51.4L511.3 51.3L512.6 51.2L513.9 51.2L515.3 51.1L516.6 51L517.9 51L519.3 50.9L520.6 50.9L522 50.8L523.3 50.8L524.7 50.8L525.3 50.8M486.9 68L485.4 67.7L483.9 67.5L482.5 67.3L481.1 67L479.8 66.8L478.5 66.5L477.3 66.3L475.8 65.9L474.4 65.5L473.1 65.2L471.9 64.8L470.6 64.3L469.5 63.8L468.5 63.2L467.5 62.3L467.2 61.2L467.7 60L468.7 59.2L470 58.5L471.2 57.8L471.7 57.6M486.1 52.8L487.3 52.3L488.6 51.9L489.9 51.5L491.3 51.1L492.5 50.8L493.1 50.7M508.9 48.4L510.4 48.3L511.9 48.2L513.4 48L515 47.9L516.6 47.8L518.2 47.7L519.8 47.7L520.9 47.6M492.8 60L491.4 59.7L490.1 59.5L488.9 59.2L487.6 58.8L486.4 58.4L485.1 57.9L484 57.3L483 56.6L482.6 55.4L483.3 54.4L484.4 53.6L485.6 53.1L486.1 52.8M490.9 62.5L489.3 63.2L487.7 64.1L486 64.9L484.4 65.8L482.7 66.8L481.1 67.8L479.4 68.8L477.8 69.9L476.1 71.1L474.5 72.3L472.8 73.6L471.3 75L469.7 76.4L468.2 77.8L466.7 79.4L465.3 80.9L464 82.6L462.7 84.3L461.6 86L460.5 87.8L459.5 89.6L458.7 91.5L457.9 93.4L457.3 95.3L456.8 97.2L456.4 99.2L456.1 101.1L455.9 103.1L455.8 105L455.8 107L455.9 108.9L456.1 110.8L456.4 112.7L456.8 114.6L457.4 116.4L458 118.2L458.8 120L459.7 121.7L460.6 123.3L461.7 124.9L462.9 126.4L464.2 127.8L465.5 129.2L466.9 130.5L468.4 131.7L469.9 132.9L471.5 134L473.1 135L474.7 136L476.3 136.9L478 137.8L479.6 138.6L481.3 139.3L483 140L484.6 140.6L486.3 141.2L487.9 141.8L489.5 142.3L491.1 142.7M500.2 52.8L498.7 53.1L497.1 53.5L495.5 53.8L493.9 54.2L492.2 54.6L490.5 55L488.8 55.5L487 56L485.2 56.5L483.4 57L481.5 57.6L479.6 58.3L477.7 58.9L475.8 59.6L473.8 60.4L471.8 61.2L469.8 62L467.8 62.9L465.8 63.9L463.8 64.9L461.8 66L459.9 67.1L457.9 68.4L456 69.6L454.2 71L452.4 72.4L450.6 73.8L449 75.3L447.4 76.9L445.9 78.6L444.6 80.3L443.3 82.1L442.2 83.9L441.3 85.7L440.4 87.6L439.7 89.5L439.2 91.5L438.8 93.5L438.5 95.4L438.3 97.4L438.3 99.4L438.4 101.4L438.5 103.4L438.8 105.3L439.3 107.3L439.8 109.2L440.5 111.1L441.4 112.9L442.4 114.8L443.5 116.5L444.8 118.2L446.1 119.9L447.6 121.4L448.4 122.2M488.1 140.7L489.9 141.1L491.6 141.5L493.3 141.8L494.9 142.1L496.5 142.4L498.1 142.7L499.7 143L500.4 143.1M506.5 49L505.1 49.2L503.7 49.4L502.2 49.6L500.8 49.8L499.3 50.1L497.7 50.3L496.2 50.6L494.6 50.9L493 51.2L491.3 51.6L489.7 51.9L488 52.3L486.2 52.8L484.5 53.3L482.7 53.8L480.9 54.3L479 54.9L477.2 55.5L475.3 56.2L473.4 56.9L471.6 57.7L469.7 58.5M482 132.9L483.8 133.6L485.6 134.3L487.3 134.9L489 135.4L490.7 136L492.4 136.5L494 137L495.6 137.5L497.2 137.9L498.7 138.3L500.2 138.7L501.7 139.1L503.2 139.4L504.6 139.7L506 140L506.7 140.2M513.6 47L511.9 47.2L510.2 47.4M478 111L479.3 112.6L480.6 114.1L481.9 115.5L483.3 116.9L484.7 118.2L486.1 119.5L487.5 120.7L488.9 121.9L490.4 123L491.8 124.1L493.2 125.1L494.7 126L496.1 126.9L497.5 127.8L498.8 128.6L500.2 129.4L501.5 130.1L502.9 130.8L504.2 131.5L505.4 132.1L506.7 132.7L507.9 133.3L509.1 133.9L510.3 134.4L511.5 134.9L512.6 135.4L513.8 135.8M523.6 49.2L522.6 49.9L521.5 50.7L520.5 51.6L519.4 52.6L518.4 53.8L517.4 55L516.4 56.4L515.4 58L514.8 59.1L514.3 60.3L513.7 61.5L513.2 62.8L512.7 64.2L512.3 65.6L511.9 67.1L511.5 68.7L511.2 70.3L511 71.9L510.8 73.6L510.6 75.4L510.5 77.1L510.4 78.9L510.4 80.7L510.4 82.6L510.4 84.4L510.5 86.3L510.6 88.1L510.8 90L511 91.8L511.3 93.6L511.6 95.5L511.9 97.3L512.3 99.1L512.8 100.8L513.3 102.5L513.8 104.2L514.3 105.8L514.9 107.4L515.5 109L516.2 110.5L516.8 111.9L517.5 113.3L518.1 114.7L518.8 116L519.5 117.2L520.2 118.4L520.9 119.5L521.6 120.6L522.3 121.7L523 122.7L523.7 123.7M477.6 109.2L477.7 105.9L477.8 102.4L478.1 99L478.4 95.7L479 92.3L479.6 89.1L480.3 86.1L481.1 83.1L481.9 80.4L482.9 77.8L483.8 75.4L484.7 73.2L485.7 71.2L486.7 69.3L487.6 67.6L488.6 66L489.5 64.6L490.4 63.2L491.2 62L492.1 60.9L492.9 59.9L493.7 59L495.2 57.3L496.6 55.9L497.9 54.7L499.2 53.7L500.3 52.8L501.5 52L502.6 51.3L503.6 50.7L505.1 49.9L506.6 49.2L508.1 48.5L509.6 48L511.1 47.5L512.7 47.1L514.3 46.9L516.1 46.8L517.4 46.8L518.7 47L520.1 47.3L521.6 47.9L523.2 48.7L524.9 49.8L526.6 51.4L527.5 52.3L528.4 53.5L529.3 54.8L530.1 56.2L530.9 57.9L531.7 59.8L532.4 61.8L533 64.1L533.6 66.6L534 69.2L534.4 72.1L534.6 75L534.8 78.1L534.8 81.2L534.8 84.3L534.7 87.5L534.4 90.7L534.1 93.9L533.6 97L533.1 100L532.4 102.9L531.7 105.6L531 108.2L530.2 110.7L529.3 113L528.5 115.1L527.6 117.1L526.7 118.9L525.9 120.6L525 122.2L524.2 123.6L523.3 124.9L522.5 126.1L521.8 127.2L521 128.3L520.3 129.2L518.9 130.9L517.5 132.4L516.3 133.7L515.1 134.8L513.9 135.8L512.8 136.7L511.8 137.5L510.8 138.2L509.3 139.2L507.8 140.1L506.3 140.9L504.8 141.6L503.3 142.2L501.7 142.8L500 143.3L498.8 143.5L497.5 143.6L496.1 143.7L494.7 143.6L493.1 143.3L491.5 142.9L489.7 142.1L487.8 140.9L486.9 140.1L485.9 139.2L484.9 138.1L484 136.9L483 135.4L482.1 133.7L481.2 131.8L480.4 129.7L479.7 127.3L479.1 124.8L478.5 122L478.1 119L477.8 115.8L477.7 112.6L477.6 109.2M611 144.7L609.6 145L608.1 145.4L606.9 145.6L605.7 145.9L604.4 146.1L603.1 146.3L601.7 146.5L600.3 146.7L598.9 146.9L597.4 147.1L595.9 147.3L594.3 147.4L592.8 147.6L591.1 147.7L589.5 147.9L587.9 148L586.2 148.1L585.1 148.2M631.3 138.3L630.2 138.7L629 139.2L627.7 139.7L626.2 140.1L624.7 140.5L623.4 140.9L622.1 141.2L620.8 141.5L619.4 141.8L617.9 142.1L616.3 142.4L614.7 142.6L613.1 142.9L611.4 143.1L609.6 143.4L608.4 143.5L607.2 143.7L606 143.8L604.7 144L603.5 144.1L602.2 144.2L600.9 144.3L599.6 144.5L598.2 144.6L596.9 144.7L595.5 144.8L594.2 144.9L592.8 145L591.4 145.1L590 145.1L588.6 145.2L587.2 145.3L585.8 145.3L584.4 145.4L583 145.5L581.5 145.5L580.8 145.5M644.5 131.5L643.5 132.2L642.2 132.9L641.1 133.4L639.9 133.9L638.5 134.5L637.1 135L635.9 135.4L634.6 135.7L633.3 136.1L631.9 136.5L630.5 136.8L628.9 137.1L627.3 137.5L625.7 137.8L623.9 138.1L622.7 138.3L621.5 138.5L620.3 138.7L619 138.9L617.7 139.1L616.4 139.2L615 139.4L613.6 139.6L612.2 139.7L610.8 139.9L609.4 140L607.9 140.2L606.5 140.3L605 140.5L603.5 140.6L602 140.7L600.4 140.8L598.9 140.9L597.3 141L595.8 141.1L594.2 141.2L592.6 141.3L591 141.4L589.4 141.4L587.8 141.5L586.2 141.6L584.6 141.6L583 141.7L581.4 141.7L579.8 141.8L578.2 141.8L577.4 141.8M653.9 124.6L652.9 125.5L651.9 126.2L650.8 126.9L649.5 127.7L648.3 128.2L647.1 128.8L645.7 129.3L644.5 129.8L643.3 130.2L642.1 130.6L640.7 131L639.3 131.3L637.8 131.7L636.2 132.1L634.5 132.5L632.8 132.8L631.6 133L630.3 133.3L629.1 133.5L627.8 133.7L626.5 133.9L625.1 134.1L623.7 134.3L622.3 134.5L620.9 134.7L619.4 134.9L617.9 135.1L616.4 135.2L614.9 135.4L613.3 135.5L611.7 135.7L610.2 135.8L608.5 136L606.9 136.1L605.3 136.2L603.6 136.4L601.9 136.5L600.2 136.6L598.5 136.7L596.8 136.8L595.1 136.9L593.4 136.9L591.7 137L589.9 137.1L588.2 137.1L586.5 137.2L584.7 137.3L583 137.3L581.2 137.3L579.5 137.4L577.7 137.4L576 137.4L575.1 137.4M659.8 118.3L658.8 119.4L657.8 120.3L656.7 121.1L655.5 121.8L654.4 122.4L653.2 123L651.9 123.6L650.4 124.2L649.2 124.6L648 125L646.7 125.4L645.3 125.8L643.8 126.3L642.2 126.6L640.5 127L638.8 127.4L637.6 127.7L636.4 127.9L635.1 128.1L633.8 128.4L632.5 128.6L631.1 128.8L629.7 129L628.3 129.3L626.8 129.5L625.3 129.7L623.8 129.9L622.2 130L620.7 130.2L619.1 130.4L617.5 130.6L615.8 130.7L614.1 130.9L612.5 131L610.8 131.2L609 131.3L607.3 131.4L605.5 131.6L603.8 131.7L602 131.8L600.2 131.9L598.4 132L596.6 132.1L594.8 132.2L592.9 132.2L591.1 132.3L589.3 132.4L587.4 132.4L585.6 132.5L583.8 132.5L581.9 132.6L580.1 132.6L578.2 132.6L576.4 132.6L574.6 132.7L573.6 132.7M663.6 111.9L663.1 113L662.2 114L661.1 114.9L660 115.7L658.7 116.4L657.6 117L656.4 117.6L655.1 118.2L653.6 118.8L652.4 119.3L651.1 119.7L649.8 120.1L648.3 120.6L646.8 121L645.2 121.4L643.5 121.8L642.3 122L641.1 122.3L639.8 122.5L638.6 122.8L637.2 123L635.9 123.3L634.5 123.5L633.1 123.7L631.6 123.9L630.1 124.2L628.6 124.4L627.1 124.6L625.5 124.8L623.9 125L622.2 125.1L620.6 125.3L618.9 125.5L617.2 125.6L615.4 125.8L613.7 126L611.9 126.1L610.1 126.2L608.3 126.4L606.5 126.5L604.7 126.6L602.8 126.7L601 126.8L599.1 126.9L597.2 127L595.3 127.1L593.4 127.2L591.6 127.2L589.6 127.3L587.7 127.3L585.8 127.4L583.9 127.4L582 127.5L580.1 127.5L578.2 127.5L576.3 127.6L574.4 127.6L572.5 127.6M665.8 105.8L665.4 107.1L664.5 108.2L663.5 109.1L662.4 109.9L661.2 110.7L660.1 111.3L658.9 111.9L657.6 112.5L656.2 113.1L655.1 113.6L653.8 114L652.5 114.4L651.1 114.9L649.6 115.3L648.1 115.7L646.4 116.1L644.7 116.5L643.4 116.8L642.2 117L640.9 117.3L639.6 117.5L638.2 117.8L636.8 118L635.4 118.2L633.9 118.4L632.4 118.7L630.9 118.9L629.3 119.1L627.8 119.3L626.1 119.5L624.5 119.7L622.8 119.9L621.1 120L619.4 120.2L617.6 120.4L615.8 120.5L614 120.7L612.2 120.8L610.4 120.9L608.6 121.1L606.7 121.2L604.8 121.3L602.9 121.4L601 121.5L599.1 121.6L597.2 121.7L595.3 121.8L593.3 121.8L591.4 121.9L589.5 122L587.5 122L585.6 122.1L583.6 122.1L581.7 122.1L579.7 122.2L577.8 122.2L575.8 122.2L573.9 122.2L572 122.2M666.7 99.9L666.5 101.1L665.8 102.2L664.9 103.2L663.9 103.9L662.7 104.7L661.4 105.5L660.3 106.1L659.1 106.7L657.7 107.3L656.3 107.9L655.1 108.3L653.8 108.8L652.4 109.2L650.9 109.6L649.4 110L647.7 110.4L646 110.8L644.8 111.1L643.6 111.3L642.3 111.6L641 111.8L639.6 112.1L638.3 112.3L636.8 112.6L635.4 112.8L633.9 113L632.4 113.2L630.8 113.4L629.2 113.6L627.6 113.8L625.9 114L624.3 114.2L622.6 114.4L620.8 114.6L619.1 114.7L617.3 114.9L615.5 115L613.7 115.2L611.8 115.3L610 115.4L608.1 115.6L606.2 115.7L604.3 115.8L602.4 115.9L600.5 116L598.6 116.1L596.6 116.2L594.7 116.2L592.7 116.3L590.8 116.4L588.8 116.4L586.8 116.5L584.9 116.5L582.9 116.6L581 116.6L579 116.6L577 116.7L575.1 116.7L573.1 116.7L572.1 116.7M666.7 94.1L666.6 95.3L666.1 96.4L665.2 97.3L664.1 98.2L663 99L661.7 99.8L660.6 100.4L659.4 101L658.1 101.5L656.7 102.1L655.5 102.6L654.2 103L652.9 103.4L651.4 103.9L649.9 104.3L648.3 104.7L646.6 105.1L645.4 105.3L644.2 105.6L643 105.8L641.7 106.1L640.3 106.3L639 106.6L637.6 106.8L636.1 107L634.7 107.2L633.1 107.5L631.6 107.7L630 107.9L628.4 108.1L626.8 108.3L625.1 108.4L623.4 108.6L621.7 108.8L620 109L618.2 109.1L616.4 109.3L614.6 109.4L612.8 109.6L610.9 109.7L609.1 109.8L607.2 109.9L605.3 110L603.4 110.1L601.5 110.2L599.5 110.3L597.6 110.4L595.7 110.5L593.7 110.6L591.8 110.6L589.8 110.7L587.8 110.8L585.9 110.8L583.9 110.8L581.9 110.9L580 110.9L578 110.9L576.1 111L574.1 111L572.2 111M665.7 88.1L665.9 89.4L665.5 90.6L664.6 91.6L663.5 92.5L662.4 93.3L661.2 94L660.2 94.6L659 95.2L657.7 95.8L656.3 96.3L655.1 96.8L653.9 97.2L652.6 97.6L651.2 98L649.7 98.4L648.1 98.8L646.5 99.2L644.7 99.6L643.5 99.9L642.3 100.1L641 100.3L639.6 100.6L638.3 100.8L636.9 101L635.5 101.3L634 101.5L632.5 101.7L631 101.9L629.4 102.1L627.8 102.3L626.2 102.5L624.5 102.6L622.8 102.8L621.1 103L619.4 103.2L617.7 103.3L615.9 103.5L614.1 103.6L612.3 103.7L610.4 103.9L608.6 104L606.7 104.1L604.8 104.2L603 104.3L601.1 104.4L599.1 104.5L597.2 104.6L595.3 104.7L593.4 104.7L591.4 104.8L589.5 104.8L587.5 104.9L585.6 104.9L583.6 105L581.7 105L579.7 105.1L577.8 105.1L575.9 105.1L573.9 105.1L572 105.1M663.4 82.2L663.9 83.4L663.6 84.7L662.9 85.8L662 86.6L661 87.3L659.9 88.1L658.6 88.8L657.4 89.3L656.2 89.9L654.8 90.5L653.3 91L652.1 91.4L650.8 91.8L649.4 92.2L647.9 92.6L646.4 93L644.7 93.4L643 93.8L641.8 94L640.6 94.2L639.3 94.5L638 94.7L636.7 94.9L635.3 95.1L633.9 95.4L632.4 95.6L631 95.8L629.5 96L627.9 96.2L626.3 96.3L624.8 96.5L623.1 96.7L621.5 96.9L619.8 97L618.1 97.2L616.4 97.3L614.6 97.5L612.9 97.6L611.1 97.7L609.3 97.9L607.5 98L605.7 98.1L603.8 98.2L602 98.3L600.1 98.4L598.2 98.5L596.3 98.6L594.4 98.6L592.5 98.7L590.6 98.8L588.7 98.8L586.8 98.9L584.9 98.9L583 98.9L581.1 99L579.2 99L577.3 99L575.4 99.1L573.5 99.1L572.5 99.1M659.6 76.4L660.4 77.5L660.4 78.7L659.8 79.9L658.8 80.8L657.7 81.7L656.6 82.4L655.4 83L654.3 83.6L653 84.1L651.7 84.7L650.2 85.2L649 85.6L647.7 86L646.3 86.3L644.9 86.7L643.4 87.1L641.8 87.4L640.1 87.8L638.3 88.1L637.1 88.4L635.9 88.6L634.6 88.8L633.3 89L631.9 89.2L630.5 89.4L629.1 89.6L627.7 89.8L626.2 90L624.7 90.1L623.1 90.3L621.6 90.5L620 90.7L618.4 90.8L616.7 91L615.1 91.1L613.4 91.2L611.7 91.4L610 91.5L608.2 91.6L606.5 91.7L604.7 91.8L603 91.9L601.2 92L599.4 92.1L597.6 92.2L595.7 92.3L593.9 92.4L592.1 92.4L590.2 92.5L588.4 92.6L586.6 92.6L584.7 92.6L582.9 92.7L581 92.7L579.2 92.7L577.3 92.8L575.5 92.8L573.7 92.8M653.5 70.2L654.5 70.9L655.2 72L655.2 73.3L654.6 74.4L653.6 75.3L652.5 76.1L651.4 76.7L650.2 77.3L649.1 77.9L647.9 78.4L646.6 78.9L645.1 79.3L643.9 79.7L642.7 80.1L641.3 80.4L639.9 80.8L638.4 81.1L636.9 81.4L635.2 81.8L633.5 82.1L632.3 82.3L631.1 82.5L629.9 82.7L628.6 82.9L627.3 83.1L625.9 83.2L624.6 83.4L623.2 83.6L621.7 83.8L620.3 83.9L618.8 84.1L617.3 84.2L615.8 84.4L614.2 84.5L612.7 84.7L611.1 84.8L609.5 84.9L607.8 85L606.2 85.2L604.5 85.3L602.9 85.4L601.2 85.5L599.5 85.6L597.8 85.6L596.1 85.7L594.3 85.8L592.6 85.9L590.9 85.9L589.1 86L587.4 86.1L585.6 86.1L583.9 86.1L582.1 86.2L580.4 86.2L578.7 86.2L576.9 86.3L575.2 86.3M645.3 64.3L646.4 65L647.4 65.8L647.9 66.9L647.7 68.1L647 69L645.9 69.9L644.8 70.6L643.7 71.2L642.4 71.8L641.3 72.2L640.1 72.7L638.7 73.1L637.3 73.6L636.1 73.9L634.8 74.2L633.5 74.5L632.1 74.8L630.7 75.1L629.1 75.4L627.5 75.7L625.8 76L624.1 76.3L622.9 76.4L621.7 76.6L620.4 76.8L619.1 76.9L617.8 77.1L616.5 77.2L615.2 77.4L613.8 77.5L612.4 77.7L611 77.8L609.5 77.9L608.1 78.1L606.6 78.2L605.1 78.3L603.6 78.4L602.1 78.5L600.5 78.6L599 78.7L597.4 78.8L595.9 78.9L594.3 78.9L592.7 79L591.1 79.1L589.5 79.1L587.9 79.2L586.3 79.2L584.7 79.3L583.1 79.3L581.4 79.4L579.8 79.4L578.2 79.4L577.4 79.4M633.2 58.3L634.4 58.7L635.6 59.4L636.6 60.1L637.4 61L637.4 62.3L636.5 63.4L635.5 64.1L634.5 64.7L633.2 65.3L632 65.8L630.7 66.3L629.5 66.7L628.2 67.1L626.8 67.5L625.3 67.9L624.1 68.1L622.8 68.4L621.4 68.7L620 68.9L618.6 69.2L617 69.4L615.5 69.6L613.8 69.9L612.1 70.1L610.4 70.3L608.6 70.5L607.4 70.6L606.1 70.7L604.9 70.8L603.6 70.9L602.3 71L601 71.1L599.7 71.2L598.3 71.3L597 71.4L595.6 71.5L594.3 71.6L592.9 71.7L591.5 71.7L590.1 71.8L588.7 71.9L587.3 71.9L585.9 72L584.5 72L583 72.1L581.6 72.1L580.9 72.1M613.6 52L614.8 52.3L616.2 52.6L617.5 53L618.7 53.4L619.8 53.9L620.9 54.4L621.8 55.3L622 56.5L621.2 57.5L620.1 58.2L619 58.8L617.9 59.3L616.6 59.7L615.4 60.1L614 60.5L612.8 60.8L611.5 61.1L610.1 61.4L608.7 61.7L607.1 61.9L605.9 62.1L604.6 62.3L603.3 62.5L601.9 62.7L600.5 62.8L599 63L597.5 63.2L596 63.3L594.5 63.4L592.9 63.6L591.3 63.7L589.6 63.8L588 63.9L586.3 64L585.2 64M597.9 53.3L599.3 53.6L600.7 53.9L602.2 54.2L603.7 54.6L605.2 55L606.7 55.4L608.3 55.8L609.9 56.3L611.5 56.7L613.2 57.2L614.9 57.8L616.6 58.4L618.4 59L620.2 59.6L622 60.3L623.8 61L625.7 61.8L627.6 62.6L629.5 63.5L631.4 64.4L633.3 65.4L635.2 66.4L637.2 67.5L639.1 68.6L641 69.9L642.8 71.1L644.6 72.5L646.4 73.9L648.1 75.4L649.7 76.9L651.3 78.5L652.8 80.1L654.1 81.9L655.4 83.6L656.5 85.4L657.5 87.3L658.4 89.2L659.2 91.1L659.8 93.1L660.3 95L660.6 97L660.8 99L661 101L661 103L660.9 105L660.8 107L660.6 108.9L660.2 110.9L659.7 112.8L659.1 114.7L658.3 116.5L657.4 118.3L656.4 120L655.2 121.7L654 123.3L652.6 124.9L651.1 126.4L649.6 127.8L647.9 129.1L646.2 130.4L644.4 131.6L642.6 132.7L640.7 133.8L638.9 134.8M591.4 57.2L592.6 57.6L593.7 58.1L595 58.6L596.2 59.1L597.4 59.7L598.7 60.3L600 60.9L601.4 61.5L602.7 62.2L604.1 63L605.5 63.7L607 64.5L608.4 65.4L609.9 66.3L611.4 67.3L612.9 68.3L614.4 69.3L615.9 70.4L617.4 71.6L618.9 72.8L620.4 74.1L621.9 75.5L623.4 76.9L624.8 78.4L626.2 80L627.6 81.6L628.8 83.2L630.1 85L631.2 86.8L632.3 88.6L633.3 90.5L634.2 92.4L635 94.4L635.7 96.4L636.3 98.4L636.8 100.4L637.1 102.5L637.4 104.5L637.6 106.6L637.6 108.6L637.6 110.6L637.5 112.7L637.4 114.7L637.1 116.6L636.7 118.6L636.2 120.4L635.6 122.3L634.9 124.1L634.1 125.8L633.2 127.4L632.2 129L631.1 130.5L629.9 132L628.7 133.3L627.4 134.6L626 135.8L624.6 136.9L623.2 138L621.7 139L620.3 139.9L618.8 140.7L617.2 141.5L615.7 142.2L614.2 142.8L612.7 143.4L611.2 144L609.7 144.5L608.3 145L606.8 145.4L605.4 145.8L604 146.1L602.6 146.4L601.2 146.7L599.9 146.9L598.6 147.2L597.3 147.4L596 147.5M585.3 64.1L586.6 65.3L587.5 66.1L588.4 67L589.4 67.9L590.3 68.9L591.3 69.9L592.3 71L593.2 72.1L594.2 73.3L595.2 74.5L596.2 75.8L597.1 77.1L598.1 78.5L599 80L599.9 81.5L600.8 83.1L601.7 84.8L602.5 86.5L603.3 88.2L604.1 90L604.7 91.9L605.4 93.8L606 95.7L606.5 97.7L606.9 99.6L607.3 101.7L607.6 103.7L607.9 105.7L608 107.7L608.1 109.7L608.2 111.7L608.2 113.7L608.1 115.7L608 117.7L607.8 119.6L607.6 121.5L607.3 123.3L606.9 125.1L606.4 126.8L605.9 128.5L605.3 130.1L604.7 131.6L604 133L603.2 134.4L602.4 135.7L601.6 136.9L600.7 138.1L599.8 139.2L598.9 140.2L598 141.1L597 141.9L596 142.7L595.1 143.5L593.6 144.5L592.2 145.3L590.7 146.1L589.3 146.7L587.9 147.3L586.5 147.8L585.2 148.2M603.3 51.2L604.8 51.4L606.3 51.7L607.9 52L609.5 52.3L611.1 52.6L612.8 53L614.5 53.4L616.2 53.8L618 54.2L619.8 54.7L621.7 55.2L623.5 55.7L625.4 56.3L627.3 56.9L629.3 57.5L631.2 58.2L633.2 59L635.2 59.8L637.2 60.6L639.2 61.5L641.2 62.5L643.2 63.5L645.2 64.6L647.1 65.7L649 66.9L650.8 68.2L652.6 69.6L654.4 71L656 72.5L657.5 74L659 75.6L660.3 77.3L661.6 79L662.6 80.7L663.6 82.6L664.4 84.4M571.3 113.8L571.3 110.4L571.5 107L571.7 103.5L572.1 100.1L572.6 96.8L573.1 93.5L573.8 90.4L574.5 87.5L575.3 84.7L576.1 82.1L577 79.6L577.8 77.4L578.7 75.3L579.6 73.4L580.4 71.7L581.3 70.1L582.1 68.6L582.9 67.3L583.7 66.1L584.5 65L585.2 63.9L586.6 62.1L587.9 60.6L589.1 59.3L590.3 58.1L591.4 57.2L592.4 56.3L593.4 55.5L594.9 54.6L596.2 53.7L597.6 53L598.9 52.4L600.2 51.8L601.6 51.3L603 50.9L604.5 50.7L606.1 50.6L607.8 50.7L609.1 50.9M589.6 148.4L587.8 148.5L586.5 148.5L585.1 148.2L583.6 147.7L582 146.9L580.4 145.8L578.6 144.1L577.8 143L576.9 141.7L576.1 140.2L575.3 138.5L574.5 136.6L573.8 134.5L573.1 132.1L572.5 129.5L572.1 126.7L571.7 123.7L571.5 120.5L571.3 117.2L571.3 113.8" fill="none" stroke="#45454f" stroke-width="0.68" stroke-linejoin="round"/>
<path d="M643.81 56.07L643.34 190.24" fill="none" stroke="#a0a0a0" stroke-width="0.7"/>
<path d="M387.52 45.21L388.43 175.68M388.43 175.68L643.34 190.24M387.52 45.21L471.26 13.68" fill="none" stroke="#111" stroke-width="1.3"/>
<path d="M388.42 173.58L391.02 173.73M388.35 163.11L392.85 163.36M388.27 152.63L390.87 152.77M388.2 142.14L390.8 142.28M388.13 131.64L390.73 131.78M388.05 121.14L390.66 121.27M387.98 110.62L392.49 110.84M387.9 100.09L390.51 100.22M387.83 89.56L390.44 89.68M387.76 79.02L390.37 79.14M387.68 68.46L390.29 68.58M387.61 57.9L392.13 58.1M387.54 47.33L390.15 47.44M392.43 175.9L392.41 173.18M402.44 176.48L402.42 173.75M412.47 177.05L412.45 172.33M422.53 177.62L422.52 174.89M432.61 178.2L432.6 175.46M442.71 178.78L442.7 176.04M452.84 179.35L452.82 176.61M462.98 179.93L462.97 175.18M473.16 180.51L473.15 177.77M483.35 181.1L483.34 178.35M493.57 181.68L493.56 178.93M503.81 182.27L503.8 179.51M514.07 182.85L514.06 178.08M524.36 183.44L524.36 180.68M534.67 184.03L534.67 181.26M545.01 184.62L545.01 181.85M555.37 185.21L555.37 182.44M565.75 185.8L565.75 181M576.16 186.4L576.16 183.62M586.59 186.99L586.59 184.21M597.04 187.59L597.05 184.81M607.52 188.19L607.53 185.4M618.03 188.79L618.04 183.96M628.56 189.39L628.56 186.6M639.11 189.99L639.12 187.2M470.03 14.14L470.04 16.66M466.93 15.31L466.94 17.83M463.81 16.49L463.83 20.87M460.67 17.67L460.68 20.21M457.5 18.86L457.51 21.41M454.31 20.06L454.32 22.62M451.1 21.27L451.11 23.84M447.86 22.49L447.89 26.95M444.61 23.72L444.62 26.31M441.32 24.96L441.33 27.55M438.01 26.2L438.03 28.81M434.68 27.46L434.7 30.07M431.33 28.72L431.35 33.26M427.94 29.99L427.96 32.63M424.54 31.28L424.55 33.92M421.1 32.57L421.12 35.22M417.64 33.87L417.66 36.54M414.16 35.18L414.19 39.81M410.65 36.51L410.66 39.19M407.11 37.84L407.12 40.53M403.54 39.18L403.56 41.89M399.95 40.53L399.97 43.25M396.33 41.9L396.36 46.61M392.68 43.27L392.7 46.01M389 44.66L389.02 47.4" fill="none" stroke="#111" stroke-width="1.1"/>
<g font-family="Liberation Serif" font-size="14" fill="#111">
<text transform="translate(383.6 61.5) scale(.94 1)" text-anchor="end">50</text>
<text transform="translate(383.6 114.22) scale(.94 1)" text-anchor="end">0</text>
<text transform="translate(383.6 166.71) scale(.94 1)" text-anchor="end"><tspan stroke="#111" stroke-width=".3">−</tspan><tspan dx="3.6">50</tspan></text>
<text transform="translate(412.47 192.25) scale(.94 1)" text-anchor="middle"><tspan stroke="#111" stroke-width=".3">−</tspan><tspan dx="3.6">100</tspan></text>
<text transform="translate(462.98 195.13) scale(.94 1)" text-anchor="middle"><tspan stroke="#111" stroke-width=".3">−</tspan><tspan dx="3.6">50</tspan></text>
<text transform="translate(514.07 198.05) scale(.94 1)" text-anchor="middle">0</text>
<text transform="translate(565.75 201) scale(.94 1)" text-anchor="middle">50</text>
<text transform="translate(618.03 203.99) scale(.94 1)" text-anchor="middle">100</text>
<text transform="translate(396.13 35.3) scale(.94 1)" text-anchor="middle">100</text>
<text transform="translate(413.16 27.68) scale(.94 1)" text-anchor="middle">50</text>
<text transform="translate(430.53 22.42) scale(.94 1)" text-anchor="middle">0</text>
<text transform="translate(446.86 14.99) scale(.94 1)" text-anchor="middle"><tspan stroke="#111" stroke-width=".3">−</tspan><tspan dx="3.6">50</tspan></text>
<text transform="translate(468.31 8.99) scale(.94 1)" text-anchor="middle">100</text>
</g>
<text font-family="Liberation Serif" font-size="17" fill="#111" x="376.3" y="211">(d)</text>
<path d="M406.7 276.8V490.5H545.1M572.4 490.5H710.2V276.8" fill="none" stroke="#666" stroke-width="1.4"/>
<path d="M406.7 490h2.8M710.2 490h-2.8M406.7 472.22h1.6M710.2 472.22h-1.6M406.7 454.44h2.8M710.2 454.44h-2.8M406.7 436.66h1.6M710.2 436.66h-1.6M406.7 418.88h2.8M710.2 418.88h-2.8M406.7 401.1h1.6M710.2 401.1h-1.6M406.7 383.32h2.8M710.2 383.32h-2.8M406.7 365.54h1.6M710.2 365.54h-1.6M406.7 347.76h2.8M710.2 347.76h-2.8M406.7 329.98h1.6M710.2 329.98h-1.6M406.7 312.2h2.8M710.2 312.2h-2.8M406.7 294.42h1.6M710.2 294.42h-1.6M406.7 276.64h2.8M710.2 276.64h-2.8M406.7 490.0v-2.8M420.48 490.0v-1.6M434.26 490.0v-2.8M448.04 490.0v-1.6M461.82 490.0v-2.8M475.6 490.0v-1.6M489.38 490.0v-2.8M503.16 490.0v-1.6M516.94 490.0v-2.8M530.72 490.0v-1.6M544.5 490.0v-2.8M572.4 490.0v-2.8M586.18 490.0v-1.6M599.96 490.0v-2.8M613.74 490.0v-1.6M627.52 490.0v-2.8M641.3 490.0v-1.6M655.08 490.0v-2.8M668.86 490.0v-1.6M682.64 490.0v-2.8M696.42 490.0v-1.6M710.2 490.0v-2.8" stroke="#666" stroke-width="1" fill="none"/>
<g font-family="Liberation Sans" font-size="9" fill="#222">
<text x="403.4" y="493.2" text-anchor="end">0</text>
<text x="713.7" y="493.2">0</text>
<text x="403.4" y="457.64" text-anchor="end">2</text>
<text x="713.7" y="457.64">2</text>
<text x="403.4" y="422.08" text-anchor="end">4</text>
<text x="713.7" y="422.08">4</text>
<text x="403.4" y="386.52" text-anchor="end">6</text>
<text x="713.7" y="386.52">6</text>
<text x="403.4" y="350.96" text-anchor="end">8</text>
<text x="713.7" y="350.96">8</text>
<text x="403.4" y="315.4" text-anchor="end">10</text>
<text x="713.7" y="315.4">10</text>
<text x="403.4" y="279.84" text-anchor="end">12</text>
<text x="713.7" y="279.84">12</text>
<text x="406.7" y="502" text-anchor="middle">350</text>
<text x="434.26" y="502" text-anchor="middle">352</text>
<text x="461.82" y="502" text-anchor="middle">354</text>
<text x="489.38" y="502" text-anchor="middle">356</text>
<text x="516.94" y="502" text-anchor="middle">358</text>
<text x="544.5" y="502" text-anchor="middle">360</text>
<text x="572.4" y="502" text-anchor="middle">440</text>
<text x="599.96" y="502" text-anchor="middle">442</text>
<text x="627.52" y="502" text-anchor="middle">444</text>
<text x="655.08" y="502" text-anchor="middle">446</text>
<text x="682.64" y="502" text-anchor="middle">448</text>
<text x="710.2" y="502" text-anchor="middle">450</text>
</g>
<text font-family="Liberation Sans" font-size="8.87" fill="#222" x="512.9" y="517.2">RF probe frequency [kHz]</text>
<text font-family="Liberation Sans" font-size="9.8" fill="#222" transform="translate(387.5 430.2) rotate(-90)">atom number [10<tspan font-size="5.8" dy="-3.8">4</tspan><tspan dy="3.8">]</tspan></text>
<text font-family="Liberation Serif" font-size="17" fill="#111" x="376.2" y="524">(e)</text>
<defs><clipPath id="cl1"><rect x="406.7" y="270" width="138.3" height="220"/></clipPath><clipPath id="cl2"><rect x="572.4" y="270" width="137.8" height="220"/></clipPath></defs>
<g clip-path="url(#cl1)">
<path d="M406.7 312.2 L420.48 339.05 L434.26 336.74 L448.04 337.63 L461.82 350.07 L475.6 377.1 L489.38 389.37 L503.16 416.21 L516.94 456.04 L530.72 387.41 L544.5 326.78" fill="none" stroke="#ff9090" stroke-width="0.9" stroke-dasharray="1 1"/>
<path d="M404.5 310h4.4v4.4h-4.4zM418.28 336.85h4.4v4.4h-4.4zM432.06 334.54h4.4v4.4h-4.4zM445.84 335.43h4.4v4.4h-4.4zM459.62 347.87h4.4v4.4h-4.4zM473.4 374.9h4.4v4.4h-4.4zM487.18 387.17h4.4v4.4h-4.4zM500.96 414.01h4.4v4.4h-4.4zM514.74 453.84h4.4v4.4h-4.4zM528.52 385.21h4.4v4.4h-4.4zM542.3 324.58h4.4v4.4h-4.4z" fill="#ff0000"/>
<rect x="404.4" y="308.3" width="4.6" height="7.3" fill="#ff0000"/>
<rect x="542.2" y="323.0" width="4.6" height="6.8" fill="#ff0000"/>
</g>
<g clip-path="url(#cl2)">
<path d="M572.4 335.85 L572.4 313.98 L586.18 337.98 L599.96 435.42 L613.74 422.79 L627.52 406.61 L641.3 405.9 L641.3 384.56 L655.08 379.05 L668.86 346.34 L682.64 351.32 L696.42 342.6 L710.2 336.74 L710.2 328.2" fill="none" stroke="#8a8aff" stroke-width="0.9" stroke-dasharray="1 1"/>
<path d="M570.2 333.65h4.4v4.4h-4.4zM570.2 311.78h4.4v4.4h-4.4zM583.98 335.78h4.4v4.4h-4.4zM597.76 433.22h4.4v4.4h-4.4zM611.54 420.59h4.4v4.4h-4.4zM625.32 404.41h4.4v4.4h-4.4zM639.1 403.7h4.4v4.4h-4.4zM639.1 382.36h4.4v4.4h-4.4zM652.88 376.85h4.4v4.4h-4.4zM666.66 344.14h4.4v4.4h-4.4zM680.44 349.12h4.4v4.4h-4.4zM694.22 340.4h4.4v4.4h-4.4zM708 334.54h4.4v4.4h-4.4zM708 326h4.4v4.4h-4.4z" fill="#0000ff"/>
</g>
<path d="M503.6 328.0V236.6H613.9V328.0" fill="none" stroke="#8a8a8a" stroke-width="0.8"/>
<path d="M514.4 236.6v1.8M525.45 236.6v1.2M536.5 236.6v1.8M547.55 236.6v1.2M558.6 236.6v1.8M569.65 236.6v1.2M580.7 236.6v1.8M591.75 236.6v1.2M602.8 236.6v1.8M613.85 236.6v1.2M503.6 328h1.8M613.9 328h-1.8M503.6 309.8h1.2M613.9 309.8h-1.2M503.6 291.6h1.8M613.9 291.6h-1.8M503.6 273.4h1.2M613.9 273.4h-1.2M503.6 255.2h1.8M613.9 255.2h-1.8M503.6 237h1.2M613.9 237h-1.2" stroke="#8a8a8a" stroke-width="0.7" fill="none"/>
<g font-family="Liberation Sans" font-size="6.6" fill="#222">
<text x="514.4" y="233" text-anchor="middle">300</text>
<text x="536.5" y="233" text-anchor="middle">350</text>
<text x="558.6" y="233" text-anchor="middle">400</text>
<text x="580.7" y="233" text-anchor="middle">450</text>
<text x="602.8" y="233" text-anchor="middle">500</text>
<text x="501.6" y="330.4" text-anchor="end">0</text>
<text x="501.6" y="294" text-anchor="end">5</text>
<text x="501.6" y="257.6" text-anchor="end">10</text>
</g>
<path d="M514.4 253.02 L518.82 257.75 L523.24 255.93 L527.66 251.56 L532.08 260.3 L536.5 253.74 L540.92 260.3 L545.34 255.2 L549.76 249.38 L554.18 261.02 L558.6 258.11 L563.02 259.57 L567.44 249.01 L571.86 255.2 L576.28 255.2 L580.7 261.39 L585.12 256.66 L589.54 255.2 L593.96 258.48 L598.38 247.19 L602.8 261.02" fill="none" stroke="#777" stroke-width="0.6"/>
<path d="M513.1 251.72h2.6v2.6h-2.6zM517.52 256.45h2.6v2.6h-2.6zM521.94 254.63h2.6v2.6h-2.6zM526.36 250.26h2.6v2.6h-2.6zM530.78 259h2.6v2.6h-2.6zM535.2 252.44h2.6v2.6h-2.6zM539.62 259h2.6v2.6h-2.6zM544.04 253.9h2.6v2.6h-2.6zM548.46 248.08h2.6v2.6h-2.6zM552.88 259.72h2.6v2.6h-2.6zM557.3 256.81h2.6v2.6h-2.6zM561.72 258.27h2.6v2.6h-2.6zM566.14 247.71h2.6v2.6h-2.6zM570.56 253.9h2.6v2.6h-2.6zM574.98 253.9h2.6v2.6h-2.6zM579.4 260.09h2.6v2.6h-2.6zM583.82 255.36h2.6v2.6h-2.6zM588.24 253.9h2.6v2.6h-2.6zM592.66 257.18h2.6v2.6h-2.6zM597.08 245.89h2.6v2.6h-2.6zM601.5 259.72h2.6v2.6h-2.6z" fill="#000"/>
<path d="M536.6 254 L537.4 265.4 L538.3 270.3 L538.7 281.2 L539.3 286 L539.3 297.8 L539.9 314 L540.8 260.8" fill="none" stroke="#ff6060" stroke-width="0.6" stroke-dasharray="0.8 0.8"/>
<path d="M576.1 255.2 L576.1 264.9 L577 305.5 L577.6 300.3 L578.2 293.2 L578.8 282.2 L579.5 269.1 L580.5 261.4" fill="none" stroke="#6060ff" stroke-width="0.6" stroke-dasharray="0.8 0.8"/>
<path d="M535.4 251.2h2.4v2.4h-2.4zM535.4 253.1h2.4v2.4h-2.4zM535.4 254.8h2.4v2.4h-2.4zM536 263.9h2.4v2.4h-2.4zM536.4 264.6h2.4v2.4h-2.4zM537.1 269.1h2.4v2.4h-2.4zM537.5 280h2.4v2.4h-2.4zM537.9 284.8h2.4v2.4h-2.4zM538.3 284.3h2.4v2.4h-2.4zM538.1 296.6h2.4v2.4h-2.4zM538.7 312.8h2.4v2.4h-2.4zM539.6 258.3h2.4v2.4h-2.4zM539.6 260.8h2.4v2.4h-2.4z" fill="#ff0000"/>
<path d="M574.9 254h2.4v2.4h-2.4zM574.9 263.7h2.4v2.4h-2.4zM575.3 264.3h2.4v2.4h-2.4zM579.3 260.2h2.4v2.4h-2.4zM579 262.3h2.4v2.4h-2.4zM578.7 264.4h2.4v2.4h-2.4zM578.3 267.9h2.4v2.4h-2.4zM577.8 270h2.4v2.4h-2.4zM577.6 281h2.4v2.4h-2.4zM577.4 282.3h2.4v2.4h-2.4zM577.2 283.1h2.4v2.4h-2.4zM577 292h2.4v2.4h-2.4zM576.4 299.1h2.4v2.4h-2.4zM575.8 304.3h2.4v2.4h-2.4z" fill="#0000ff"/>
</svg></body></html>
